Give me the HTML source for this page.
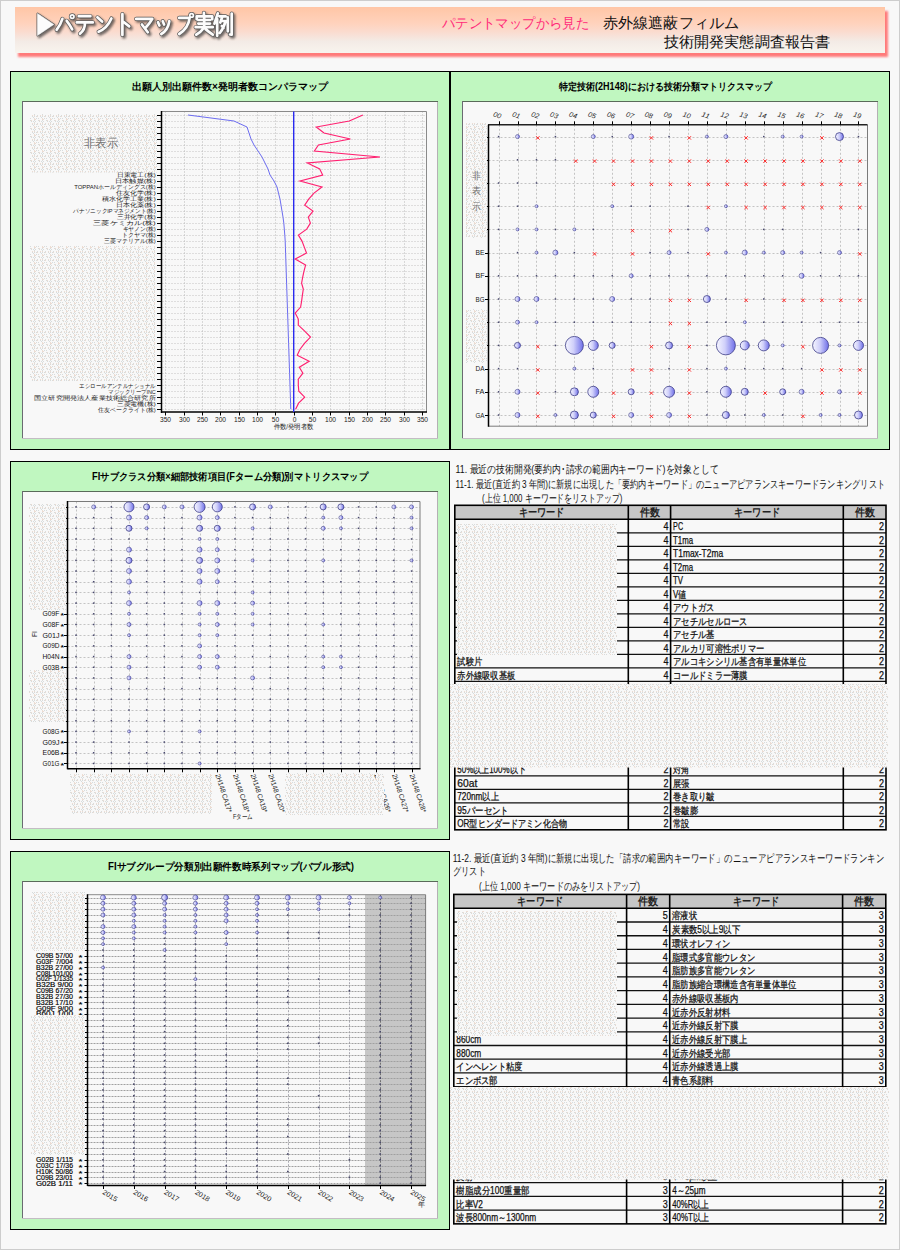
<!DOCTYPE html>
<html><head><meta charset="utf-8"><title>patent map</title>
<style>html,body{margin:0;padding:0;background:#f8f8f8;}svg{display:block;}</style>
</head><body>
<svg width="900" height="1250" viewBox="0 0 900 1250" font-family="'Liberation Sans', sans-serif">
<defs>
<linearGradient id="hdr" x1="0" y1="0" x2="0" y2="1">
 <stop offset="0" stop-color="#ffc6a6"/>
 <stop offset="0.35" stop-color="#ffd2bc"/>
 <stop offset="0.55" stop-color="#fadcd0"/>
 <stop offset="0.75" stop-color="#f3ebe6"/>
 <stop offset="1" stop-color="#f8f4ee"/>
</linearGradient>
<radialGradient id="bub" cx="0.3" cy="0.4" r="0.8">
 <stop offset="0" stop-color="#f4f4ff"/>
 <stop offset="0.5" stop-color="#b8b8f4"/>
 <stop offset="1" stop-color="#6c6ce8"/>
</radialGradient>
<linearGradient id="bubl" x1="0" y1="0" x2="1" y2="0">
 <stop offset="0" stop-color="#f6f6ff"/>
 <stop offset="0.45" stop-color="#d0d0fa"/>
 <stop offset="1" stop-color="#6e6ee8"/>
</linearGradient>
<pattern id="dith" width="8" height="8" patternUnits="userSpaceOnUse"><rect width="8" height="8" fill="#f8f8f8"/><rect x="1" y="1" width="1" height="1" fill="#d8dcdc"/><rect x="3" y="1" width="1" height="1" fill="#d8dcdc"/><rect x="6" y="0" width="1" height="1" fill="#d8dcdc"/><rect x="0" y="4" width="1" height="1" fill="#d8dcdc"/><rect x="7" y="1" width="1" height="1" fill="#d8dcdc"/><rect x="2" y="4" width="1" height="1" fill="#d8dcdc"/><rect x="4" y="4" width="1" height="1" fill="#d8dcdc"/><rect x="6" y="6" width="1" height="1" fill="#d8dcdc"/><rect x="5" y="3" width="1" height="1" fill="#d8dcdc"/><rect x="2" y="2" width="1" height="1" fill="#d8dcdc"/><rect x="4" y="6" width="1" height="1" fill="#d8dcdc"/><rect x="2" y="0" width="1" height="1" fill="#d8dcdc"/><rect x="1" y="5" width="1" height="1" fill="#d8dcdc"/><rect x="5" y="4" width="1" height="1" fill="#ecdcd2"/><rect x="7" y="0" width="1" height="1" fill="#ecdcd2"/><rect x="3" y="7" width="1" height="1" fill="#ecdcd2"/><rect x="2" y="6" width="1" height="1" fill="#ecdcd2"/><rect x="2" y="3" width="1" height="1" fill="#ecdcd2"/><rect x="2" y="7" width="1" height="1" fill="#ecdcd2"/><rect x="0" y="3" width="1" height="1" fill="#ecdcd2"/></pattern>
<filter id="blur1" x="-5%" y="-20%" width="110%" height="140%"><feGaussianBlur stdDeviation="0.8"/></filter>
<filter id="tsh" x="-10%" y="-20%" width="130%" height="150%">
 <feGaussianBlur in="SourceAlpha" stdDeviation="1.2" result="b"/>
 <feOffset dx="2" dy="2" result="o"/>
 <feFlood flood-color="#000" flood-opacity="0.55"/>
 <feComposite in2="o" operator="in" result="s"/>
 <feMerge><feMergeNode in="s"/><feMergeNode in="SourceGraphic"/></feMerge>
</filter>
</defs>
<rect x="0" y="0" width="900" height="1250" fill="#f8f8f8" stroke="none" stroke-width="1" />
<rect x="0.5" y="0.5" width="899" height="1249" fill="none" stroke="#cdcdcd" stroke-width="1" />
<rect x="18" y="11" width="870" height="46" fill="#ff7a7a" stroke="none" stroke-width="1" filter="url(#blur1)"/>
<rect x="15" y="7" width="870" height="46" fill="url(#hdr)" stroke="none" stroke-width="1" />
<filter id="gsh" x="-5%" y="-20%" width="110%" height="150%"><feGaussianBlur stdDeviation="1.1"/></filter>
<g transform="translate(1.6,1.8)" filter="url(#gsh)" opacity="0.7">
<path d="M37.5,13.5 L37.5,35.5 L53.8,24.5 Z" fill="#3a3a3a" stroke="#3a3a3a" stroke-width="2.1" stroke-linejoin="round"/>
<path d="M62.4,18.9 Q60.5,25 56.6,29.8 M66.7,20.8 Q70,25 72.2,29.4 M78.8,16.2 H90.4 M76.8,22.4 H92.8 M85,22.8 Q85,30 80,33.7 M97.4,17.3 L102.1,21.6 M98.6,31.7 Q107,28.5 111.4,18.5 M122.4,14.1 V34.9 M124,22.2 L129.2,26.4 M136.2,18.9 H152.3 Q150,23 146.2,27 M141.9,24.5 L147.8,32.2 M158,22.2 L159.4,25.5 M162.7,21.2 L164.1,24.5 M169.3,21.2 Q168,30 161.3,34 M179.2,17.9 H189.6 Q188.5,28 179.2,34 M203.9,12.8 V15.4 M196.7,19.2 V16.3 H212.2 V19.2 M198.3,20 H210 M198.3,23.6 H210 M195.6,27.2 H212.8 M204.2,16.3 V27.2 M204.2,27.5 Q201,32 196.1,34.7 M205.6,29.1 Q209,32 212.8,34.7 M217.8,13.3 L214.4,23.6 M217.2,19.1 V35.8 M219.4,16.3 H225.6 M222.5,16.3 L220.3,22.5 M221,21 H225.5 Q224,28 219.8,33 M221.8,26 L223.5,28 M227.8,17.4 V31.3 M231.7,13.6 V34.7 L230,34.5" fill="none" stroke="#3a3a3a" stroke-width="4.3" stroke-linecap="round" stroke-linejoin="round"/>
<circle cx="72.2" cy="16.6" r="1.8" fill="none" stroke="#3a3a3a" stroke-width="3.3"/>
<circle cx="191.6" cy="15.4" r="1.8" fill="none" stroke="#3a3a3a" stroke-width="3.3"/>
</g>
<g transform="translate(0,0)" >
<path d="M37.5,13.5 L37.5,35.5 L53.8,24.5 Z" fill="#5a5a5a" stroke="#5a5a5a" stroke-width="1.9" stroke-linejoin="round"/>
<path d="M62.4,18.9 Q60.5,25 56.6,29.8 M66.7,20.8 Q70,25 72.2,29.4 M78.8,16.2 H90.4 M76.8,22.4 H92.8 M85,22.8 Q85,30 80,33.7 M97.4,17.3 L102.1,21.6 M98.6,31.7 Q107,28.5 111.4,18.5 M122.4,14.1 V34.9 M124,22.2 L129.2,26.4 M136.2,18.9 H152.3 Q150,23 146.2,27 M141.9,24.5 L147.8,32.2 M158,22.2 L159.4,25.5 M162.7,21.2 L164.1,24.5 M169.3,21.2 Q168,30 161.3,34 M179.2,17.9 H189.6 Q188.5,28 179.2,34 M203.9,12.8 V15.4 M196.7,19.2 V16.3 H212.2 V19.2 M198.3,20 H210 M198.3,23.6 H210 M195.6,27.2 H212.8 M204.2,16.3 V27.2 M204.2,27.5 Q201,32 196.1,34.7 M205.6,29.1 Q209,32 212.8,34.7 M217.8,13.3 L214.4,23.6 M217.2,19.1 V35.8 M219.4,16.3 H225.6 M222.5,16.3 L220.3,22.5 M221,21 H225.5 Q224,28 219.8,33 M221.8,26 L223.5,28 M227.8,17.4 V31.3 M231.7,13.6 V34.7 L230,34.5" fill="none" stroke="#5a5a5a" stroke-width="4.1" stroke-linecap="round" stroke-linejoin="round"/>
<circle cx="72.2" cy="16.6" r="1.8" fill="none" stroke="#5a5a5a" stroke-width="3.1"/>
<circle cx="191.6" cy="15.4" r="1.8" fill="none" stroke="#5a5a5a" stroke-width="3.1"/>
</g>
<g transform="translate(0,0)" >
<path d="M37.5,13.5 L37.5,35.5 L53.8,24.5 Z" fill="#fcfcfc" stroke="#fcfcfc" stroke-width="0.5" stroke-linejoin="round"/>
<path d="M62.4,18.9 Q60.5,25 56.6,29.8 M66.7,20.8 Q70,25 72.2,29.4 M78.8,16.2 H90.4 M76.8,22.4 H92.8 M85,22.8 Q85,30 80,33.7 M97.4,17.3 L102.1,21.6 M98.6,31.7 Q107,28.5 111.4,18.5 M122.4,14.1 V34.9 M124,22.2 L129.2,26.4 M136.2,18.9 H152.3 Q150,23 146.2,27 M141.9,24.5 L147.8,32.2 M158,22.2 L159.4,25.5 M162.7,21.2 L164.1,24.5 M169.3,21.2 Q168,30 161.3,34 M179.2,17.9 H189.6 Q188.5,28 179.2,34 M203.9,12.8 V15.4 M196.7,19.2 V16.3 H212.2 V19.2 M198.3,20 H210 M198.3,23.6 H210 M195.6,27.2 H212.8 M204.2,16.3 V27.2 M204.2,27.5 Q201,32 196.1,34.7 M205.6,29.1 Q209,32 212.8,34.7 M217.8,13.3 L214.4,23.6 M217.2,19.1 V35.8 M219.4,16.3 H225.6 M222.5,16.3 L220.3,22.5 M221,21 H225.5 Q224,28 219.8,33 M221.8,26 L223.5,28 M227.8,17.4 V31.3 M231.7,13.6 V34.7 L230,34.5" fill="none" stroke="#fcfcfc" stroke-width="2.7" stroke-linecap="round" stroke-linejoin="round"/>
<circle cx="72.2" cy="16.6" r="1.8" fill="none" stroke="#fcfcfc" stroke-width="1.7"/>
<circle cx="191.6" cy="15.4" r="1.8" fill="none" stroke="#fcfcfc" stroke-width="1.7"/>
</g>
<text x="442.0" y="28.0" font-size="14" text-anchor="start" font-weight="normal" fill="#ff2a7a" font-family="'Liberation Sans', sans-serif" textLength="147.0" lengthAdjust="spacingAndGlyphs" >パテントマップから見た</text>
<text x="603.0" y="28.0" font-size="15" text-anchor="start" font-weight="normal" fill="#111" font-family="'Liberation Sans', sans-serif" textLength="136.0" lengthAdjust="spacingAndGlyphs" >赤外線遮蔽フィルム</text>
<text x="664.0" y="47.0" font-size="15" text-anchor="start" font-weight="normal" fill="#111" font-family="'Liberation Sans', sans-serif" textLength="166.0" lengthAdjust="spacingAndGlyphs" >技術開発実態調査報告書</text>
<rect x="10.5" y="71.5" width="439" height="378" fill="#c0f7c0" stroke="#000" stroke-width="1" />
<rect x="22" y="101" width="416" height="338" fill="#f8f8f8" stroke="none" stroke-width="1" />
<line x1="22.00" y1="101.50" x2="438.00" y2="101.50" stroke="#5a6a5a" stroke-width="1" />
<line x1="22.50" y1="101.00" x2="22.50" y2="439.00" stroke="#6a6a72" stroke-width="1" />
<line x1="437.50" y1="102.00" x2="437.50" y2="439.00" stroke="#b4b0b4" stroke-width="1" />
<line x1="22.00" y1="438.50" x2="438.00" y2="438.50" stroke="#c4bcc4" stroke-width="1" />
<text x="230.0" y="89.5" font-size="10" text-anchor="middle" font-weight="bold" fill="#000" font-family="'Liberation Sans', sans-serif" textLength="196.0" lengthAdjust="spacingAndGlyphs" >出願人別出願件数×発明者数コンパラマップ</text>
<rect x="450.5" y="71.5" width="439" height="378" fill="#c0f7c0" stroke="#000" stroke-width="1" />
<rect x="462" y="101" width="416" height="338" fill="#f8f8f8" stroke="none" stroke-width="1" />
<line x1="462.00" y1="101.50" x2="878.00" y2="101.50" stroke="#5a6a5a" stroke-width="1" />
<line x1="462.50" y1="101.00" x2="462.50" y2="439.00" stroke="#6a6a72" stroke-width="1" />
<line x1="877.50" y1="102.00" x2="877.50" y2="439.00" stroke="#b4b0b4" stroke-width="1" />
<line x1="462.00" y1="438.50" x2="878.00" y2="438.50" stroke="#c4bcc4" stroke-width="1" />
<text x="665.5" y="89.5" font-size="10" text-anchor="middle" font-weight="bold" fill="#000" font-family="'Liberation Sans', sans-serif" textLength="213.0" lengthAdjust="spacingAndGlyphs" >特定技術(2H148)における技術分類マトリクスマップ</text>
<rect x="10.5" y="461.5" width="439" height="378" fill="#c0f7c0" stroke="#000" stroke-width="1" />
<rect x="22" y="491" width="416" height="338" fill="#f8f8f8" stroke="none" stroke-width="1" />
<line x1="22.00" y1="491.50" x2="438.00" y2="491.50" stroke="#5a6a5a" stroke-width="1" />
<line x1="22.50" y1="491.00" x2="22.50" y2="829.00" stroke="#6a6a72" stroke-width="1" />
<line x1="437.50" y1="492.00" x2="437.50" y2="829.00" stroke="#b4b0b4" stroke-width="1" />
<line x1="22.00" y1="828.50" x2="438.00" y2="828.50" stroke="#c4bcc4" stroke-width="1" />
<text x="230.0" y="479.5" font-size="10" text-anchor="middle" font-weight="bold" fill="#000" font-family="'Liberation Sans', sans-serif" textLength="276.0" lengthAdjust="spacingAndGlyphs" >FIサブクラス分類×細部技術項目(Fターム分類)別マトリクスマップ</text>
<rect x="10.5" y="851.5" width="439" height="378" fill="#c0f7c0" stroke="#000" stroke-width="1" />
<rect x="22" y="881" width="416" height="338" fill="#f8f8f8" stroke="none" stroke-width="1" />
<line x1="22.00" y1="881.50" x2="438.00" y2="881.50" stroke="#5a6a5a" stroke-width="1" />
<line x1="22.50" y1="881.00" x2="22.50" y2="1219.00" stroke="#6a6a72" stroke-width="1" />
<line x1="437.50" y1="882.00" x2="437.50" y2="1219.00" stroke="#b4b0b4" stroke-width="1" />
<line x1="22.00" y1="1218.50" x2="438.00" y2="1218.50" stroke="#c4bcc4" stroke-width="1" />
<text x="231.0" y="869.5" font-size="10" text-anchor="middle" font-weight="bold" fill="#000" font-family="'Liberation Sans', sans-serif" textLength="246.0" lengthAdjust="spacingAndGlyphs" >FIサブグループ分類別出願件数時系列マップ(バブル形式)</text>
<line x1="162.50" y1="115.50" x2="426.50" y2="115.50" stroke="#c4c2c2" stroke-width="1" stroke-dasharray="1,2"/>
<line x1="162.50" y1="121.50" x2="426.50" y2="121.50" stroke="#c4c2c2" stroke-width="1" stroke-dasharray="1,2"/>
<line x1="162.50" y1="127.50" x2="426.50" y2="127.50" stroke="#c4c2c2" stroke-width="1" stroke-dasharray="1,2"/>
<line x1="162.50" y1="133.50" x2="426.50" y2="133.50" stroke="#c4c2c2" stroke-width="1" stroke-dasharray="1,2"/>
<line x1="162.50" y1="139.50" x2="426.50" y2="139.50" stroke="#c4c2c2" stroke-width="1" stroke-dasharray="1,2"/>
<line x1="162.50" y1="145.50" x2="426.50" y2="145.50" stroke="#c4c2c2" stroke-width="1" stroke-dasharray="1,2"/>
<line x1="162.50" y1="151.50" x2="426.50" y2="151.50" stroke="#c4c2c2" stroke-width="1" stroke-dasharray="1,2"/>
<line x1="162.50" y1="157.50" x2="426.50" y2="157.50" stroke="#c4c2c2" stroke-width="1" stroke-dasharray="1,2"/>
<line x1="162.50" y1="163.50" x2="426.50" y2="163.50" stroke="#c4c2c2" stroke-width="1" stroke-dasharray="1,2"/>
<line x1="162.50" y1="169.50" x2="426.50" y2="169.50" stroke="#c4c2c2" stroke-width="1" stroke-dasharray="1,2"/>
<line x1="162.50" y1="175.50" x2="426.50" y2="175.50" stroke="#c4c2c2" stroke-width="1" stroke-dasharray="1,2"/>
<line x1="162.50" y1="181.50" x2="426.50" y2="181.50" stroke="#c4c2c2" stroke-width="1" stroke-dasharray="1,2"/>
<line x1="162.50" y1="187.50" x2="426.50" y2="187.50" stroke="#c4c2c2" stroke-width="1" stroke-dasharray="1,2"/>
<line x1="162.50" y1="193.50" x2="426.50" y2="193.50" stroke="#c4c2c2" stroke-width="1" stroke-dasharray="1,2"/>
<line x1="162.50" y1="199.50" x2="426.50" y2="199.50" stroke="#c4c2c2" stroke-width="1" stroke-dasharray="1,2"/>
<line x1="162.50" y1="205.50" x2="426.50" y2="205.50" stroke="#c4c2c2" stroke-width="1" stroke-dasharray="1,2"/>
<line x1="162.50" y1="211.50" x2="426.50" y2="211.50" stroke="#c4c2c2" stroke-width="1" stroke-dasharray="1,2"/>
<line x1="162.50" y1="217.50" x2="426.50" y2="217.50" stroke="#c4c2c2" stroke-width="1" stroke-dasharray="1,2"/>
<line x1="162.50" y1="223.50" x2="426.50" y2="223.50" stroke="#c4c2c2" stroke-width="1" stroke-dasharray="1,2"/>
<line x1="162.50" y1="229.50" x2="426.50" y2="229.50" stroke="#c4c2c2" stroke-width="1" stroke-dasharray="1,2"/>
<line x1="162.50" y1="235.50" x2="426.50" y2="235.50" stroke="#c4c2c2" stroke-width="1" stroke-dasharray="1,2"/>
<line x1="162.50" y1="241.50" x2="426.50" y2="241.50" stroke="#c4c2c2" stroke-width="1" stroke-dasharray="1,2"/>
<line x1="162.50" y1="247.50" x2="426.50" y2="247.50" stroke="#c4c2c2" stroke-width="1" stroke-dasharray="1,2"/>
<line x1="162.50" y1="253.50" x2="426.50" y2="253.50" stroke="#c4c2c2" stroke-width="1" stroke-dasharray="1,2"/>
<line x1="162.50" y1="259.50" x2="426.50" y2="259.50" stroke="#c4c2c2" stroke-width="1" stroke-dasharray="1,2"/>
<line x1="162.50" y1="265.50" x2="426.50" y2="265.50" stroke="#c4c2c2" stroke-width="1" stroke-dasharray="1,2"/>
<line x1="162.50" y1="271.50" x2="426.50" y2="271.50" stroke="#c4c2c2" stroke-width="1" stroke-dasharray="1,2"/>
<line x1="162.50" y1="277.50" x2="426.50" y2="277.50" stroke="#c4c2c2" stroke-width="1" stroke-dasharray="1,2"/>
<line x1="162.50" y1="283.50" x2="426.50" y2="283.50" stroke="#c4c2c2" stroke-width="1" stroke-dasharray="1,2"/>
<line x1="162.50" y1="289.50" x2="426.50" y2="289.50" stroke="#c4c2c2" stroke-width="1" stroke-dasharray="1,2"/>
<line x1="162.50" y1="295.50" x2="426.50" y2="295.50" stroke="#c4c2c2" stroke-width="1" stroke-dasharray="1,2"/>
<line x1="162.50" y1="301.50" x2="426.50" y2="301.50" stroke="#c4c2c2" stroke-width="1" stroke-dasharray="1,2"/>
<line x1="162.50" y1="307.50" x2="426.50" y2="307.50" stroke="#c4c2c2" stroke-width="1" stroke-dasharray="1,2"/>
<line x1="162.50" y1="313.50" x2="426.50" y2="313.50" stroke="#c4c2c2" stroke-width="1" stroke-dasharray="1,2"/>
<line x1="162.50" y1="319.50" x2="426.50" y2="319.50" stroke="#c4c2c2" stroke-width="1" stroke-dasharray="1,2"/>
<line x1="162.50" y1="325.50" x2="426.50" y2="325.50" stroke="#c4c2c2" stroke-width="1" stroke-dasharray="1,2"/>
<line x1="162.50" y1="331.50" x2="426.50" y2="331.50" stroke="#c4c2c2" stroke-width="1" stroke-dasharray="1,2"/>
<line x1="162.50" y1="337.50" x2="426.50" y2="337.50" stroke="#c4c2c2" stroke-width="1" stroke-dasharray="1,2"/>
<line x1="162.50" y1="343.50" x2="426.50" y2="343.50" stroke="#c4c2c2" stroke-width="1" stroke-dasharray="1,2"/>
<line x1="162.50" y1="349.50" x2="426.50" y2="349.50" stroke="#c4c2c2" stroke-width="1" stroke-dasharray="1,2"/>
<line x1="162.50" y1="355.50" x2="426.50" y2="355.50" stroke="#c4c2c2" stroke-width="1" stroke-dasharray="1,2"/>
<line x1="162.50" y1="361.50" x2="426.50" y2="361.50" stroke="#c4c2c2" stroke-width="1" stroke-dasharray="1,2"/>
<line x1="162.50" y1="367.50" x2="426.50" y2="367.50" stroke="#c4c2c2" stroke-width="1" stroke-dasharray="1,2"/>
<line x1="162.50" y1="373.50" x2="426.50" y2="373.50" stroke="#c4c2c2" stroke-width="1" stroke-dasharray="1,2"/>
<line x1="162.50" y1="379.50" x2="426.50" y2="379.50" stroke="#c4c2c2" stroke-width="1" stroke-dasharray="1,2"/>
<line x1="162.50" y1="385.50" x2="426.50" y2="385.50" stroke="#c4c2c2" stroke-width="1" stroke-dasharray="1,2"/>
<line x1="162.50" y1="391.50" x2="426.50" y2="391.50" stroke="#c4c2c2" stroke-width="1" stroke-dasharray="1,2"/>
<line x1="162.50" y1="397.50" x2="426.50" y2="397.50" stroke="#c4c2c2" stroke-width="1" stroke-dasharray="1,2"/>
<line x1="162.50" y1="403.50" x2="426.50" y2="403.50" stroke="#c4c2c2" stroke-width="1" stroke-dasharray="1,2"/>
<line x1="162.50" y1="409.50" x2="426.50" y2="409.50" stroke="#c4c2c2" stroke-width="1" stroke-dasharray="1,2"/>
<line x1="165.50" y1="111.50" x2="165.50" y2="412.00" stroke="#b8b8b8" stroke-width="1" stroke-dasharray="1,2"/>
<line x1="184.50" y1="111.50" x2="184.50" y2="412.00" stroke="#b8b8b8" stroke-width="1" stroke-dasharray="1,2"/>
<line x1="202.50" y1="111.50" x2="202.50" y2="412.00" stroke="#b8b8b8" stroke-width="1" stroke-dasharray="1,2"/>
<line x1="220.50" y1="111.50" x2="220.50" y2="412.00" stroke="#b8b8b8" stroke-width="1" stroke-dasharray="1,2"/>
<line x1="239.50" y1="111.50" x2="239.50" y2="412.00" stroke="#b8b8b8" stroke-width="1" stroke-dasharray="1,2"/>
<line x1="257.50" y1="111.50" x2="257.50" y2="412.00" stroke="#b8b8b8" stroke-width="1" stroke-dasharray="1,2"/>
<line x1="275.50" y1="111.50" x2="275.50" y2="412.00" stroke="#b8b8b8" stroke-width="1" stroke-dasharray="1,2"/>
<line x1="312.50" y1="111.50" x2="312.50" y2="412.00" stroke="#b8b8b8" stroke-width="1" stroke-dasharray="1,2"/>
<line x1="330.50" y1="111.50" x2="330.50" y2="412.00" stroke="#b8b8b8" stroke-width="1" stroke-dasharray="1,2"/>
<line x1="349.50" y1="111.50" x2="349.50" y2="412.00" stroke="#b8b8b8" stroke-width="1" stroke-dasharray="1,2"/>
<line x1="367.50" y1="111.50" x2="367.50" y2="412.00" stroke="#b8b8b8" stroke-width="1" stroke-dasharray="1,2"/>
<line x1="385.50" y1="111.50" x2="385.50" y2="412.00" stroke="#b8b8b8" stroke-width="1" stroke-dasharray="1,2"/>
<line x1="404.50" y1="111.50" x2="404.50" y2="412.00" stroke="#b8b8b8" stroke-width="1" stroke-dasharray="1,2"/>
<line x1="422.50" y1="111.50" x2="422.50" y2="412.00" stroke="#b8b8b8" stroke-width="1" stroke-dasharray="1,2"/>
<line x1="161.50" y1="111.50" x2="426.50" y2="111.50" stroke="#8a8a8a" stroke-width="1" />
<line x1="426.50" y1="111.50" x2="426.50" y2="412.00" stroke="#8a8a8a" stroke-width="1" />
<line x1="161.50" y1="111.00" x2="161.50" y2="413.00" stroke="#000" stroke-width="1.5" />
<line x1="161.50" y1="412.00" x2="427.00" y2="412.00" stroke="#000" stroke-width="1.5" />
<line x1="157.00" y1="115.50" x2="161.50" y2="115.50" stroke="#000" stroke-width="1" />
<line x1="157.00" y1="121.50" x2="161.50" y2="121.50" stroke="#000" stroke-width="1" />
<line x1="157.00" y1="127.50" x2="161.50" y2="127.50" stroke="#000" stroke-width="1" />
<line x1="157.00" y1="133.50" x2="161.50" y2="133.50" stroke="#000" stroke-width="1" />
<line x1="157.00" y1="139.50" x2="161.50" y2="139.50" stroke="#000" stroke-width="1" />
<line x1="157.00" y1="145.50" x2="161.50" y2="145.50" stroke="#000" stroke-width="1" />
<line x1="157.00" y1="151.50" x2="161.50" y2="151.50" stroke="#000" stroke-width="1" />
<line x1="157.00" y1="157.50" x2="161.50" y2="157.50" stroke="#000" stroke-width="1" />
<line x1="157.00" y1="163.50" x2="161.50" y2="163.50" stroke="#000" stroke-width="1" />
<line x1="157.00" y1="169.50" x2="161.50" y2="169.50" stroke="#000" stroke-width="1" />
<line x1="157.00" y1="175.50" x2="161.50" y2="175.50" stroke="#000" stroke-width="1" />
<line x1="157.00" y1="181.50" x2="161.50" y2="181.50" stroke="#000" stroke-width="1" />
<line x1="157.00" y1="187.50" x2="161.50" y2="187.50" stroke="#000" stroke-width="1" />
<line x1="157.00" y1="193.50" x2="161.50" y2="193.50" stroke="#000" stroke-width="1" />
<line x1="157.00" y1="199.50" x2="161.50" y2="199.50" stroke="#000" stroke-width="1" />
<line x1="157.00" y1="205.50" x2="161.50" y2="205.50" stroke="#000" stroke-width="1" />
<line x1="157.00" y1="211.50" x2="161.50" y2="211.50" stroke="#000" stroke-width="1" />
<line x1="157.00" y1="217.50" x2="161.50" y2="217.50" stroke="#000" stroke-width="1" />
<line x1="157.00" y1="223.50" x2="161.50" y2="223.50" stroke="#000" stroke-width="1" />
<line x1="157.00" y1="229.50" x2="161.50" y2="229.50" stroke="#000" stroke-width="1" />
<line x1="157.00" y1="235.50" x2="161.50" y2="235.50" stroke="#000" stroke-width="1" />
<line x1="157.00" y1="241.50" x2="161.50" y2="241.50" stroke="#000" stroke-width="1" />
<line x1="157.00" y1="247.50" x2="161.50" y2="247.50" stroke="#000" stroke-width="1" />
<line x1="157.00" y1="253.50" x2="161.50" y2="253.50" stroke="#000" stroke-width="1" />
<line x1="157.00" y1="259.50" x2="161.50" y2="259.50" stroke="#000" stroke-width="1" />
<line x1="157.00" y1="265.50" x2="161.50" y2="265.50" stroke="#000" stroke-width="1" />
<line x1="157.00" y1="271.50" x2="161.50" y2="271.50" stroke="#000" stroke-width="1" />
<line x1="157.00" y1="277.50" x2="161.50" y2="277.50" stroke="#000" stroke-width="1" />
<line x1="157.00" y1="283.50" x2="161.50" y2="283.50" stroke="#000" stroke-width="1" />
<line x1="157.00" y1="289.50" x2="161.50" y2="289.50" stroke="#000" stroke-width="1" />
<line x1="157.00" y1="295.50" x2="161.50" y2="295.50" stroke="#000" stroke-width="1" />
<line x1="157.00" y1="301.50" x2="161.50" y2="301.50" stroke="#000" stroke-width="1" />
<line x1="157.00" y1="307.50" x2="161.50" y2="307.50" stroke="#000" stroke-width="1" />
<line x1="157.00" y1="313.50" x2="161.50" y2="313.50" stroke="#000" stroke-width="1" />
<line x1="157.00" y1="319.50" x2="161.50" y2="319.50" stroke="#000" stroke-width="1" />
<line x1="157.00" y1="325.50" x2="161.50" y2="325.50" stroke="#000" stroke-width="1" />
<line x1="157.00" y1="331.50" x2="161.50" y2="331.50" stroke="#000" stroke-width="1" />
<line x1="157.00" y1="337.50" x2="161.50" y2="337.50" stroke="#000" stroke-width="1" />
<line x1="157.00" y1="343.50" x2="161.50" y2="343.50" stroke="#000" stroke-width="1" />
<line x1="157.00" y1="349.50" x2="161.50" y2="349.50" stroke="#000" stroke-width="1" />
<line x1="157.00" y1="355.50" x2="161.50" y2="355.50" stroke="#000" stroke-width="1" />
<line x1="157.00" y1="361.50" x2="161.50" y2="361.50" stroke="#000" stroke-width="1" />
<line x1="157.00" y1="367.50" x2="161.50" y2="367.50" stroke="#000" stroke-width="1" />
<line x1="157.00" y1="373.50" x2="161.50" y2="373.50" stroke="#000" stroke-width="1" />
<line x1="157.00" y1="379.50" x2="161.50" y2="379.50" stroke="#000" stroke-width="1" />
<line x1="157.00" y1="385.50" x2="161.50" y2="385.50" stroke="#000" stroke-width="1" />
<line x1="157.00" y1="391.50" x2="161.50" y2="391.50" stroke="#000" stroke-width="1" />
<line x1="157.00" y1="397.50" x2="161.50" y2="397.50" stroke="#000" stroke-width="1" />
<line x1="157.00" y1="403.50" x2="161.50" y2="403.50" stroke="#000" stroke-width="1" />
<line x1="157.00" y1="409.50" x2="161.50" y2="409.50" stroke="#000" stroke-width="1" />
<line x1="165.50" y1="412.00" x2="165.50" y2="415.50" stroke="#000" stroke-width="1" />
<text x="165.5" y="421.5" font-size="7" text-anchor="middle" font-weight="normal" fill="#222" font-family="'Liberation Sans', sans-serif" textLength="11.1" lengthAdjust="spacingAndGlyphs" >350</text>
<line x1="184.50" y1="412.00" x2="184.50" y2="415.50" stroke="#000" stroke-width="1" />
<text x="184.5" y="421.5" font-size="7" text-anchor="middle" font-weight="normal" fill="#222" font-family="'Liberation Sans', sans-serif" textLength="11.1" lengthAdjust="spacingAndGlyphs" >300</text>
<line x1="202.50" y1="412.00" x2="202.50" y2="415.50" stroke="#000" stroke-width="1" />
<text x="202.5" y="421.5" font-size="7" text-anchor="middle" font-weight="normal" fill="#222" font-family="'Liberation Sans', sans-serif" textLength="11.1" lengthAdjust="spacingAndGlyphs" >250</text>
<line x1="220.50" y1="412.00" x2="220.50" y2="415.50" stroke="#000" stroke-width="1" />
<text x="220.5" y="421.5" font-size="7" text-anchor="middle" font-weight="normal" fill="#222" font-family="'Liberation Sans', sans-serif" textLength="11.1" lengthAdjust="spacingAndGlyphs" >200</text>
<line x1="239.50" y1="412.00" x2="239.50" y2="415.50" stroke="#000" stroke-width="1" />
<text x="239.5" y="421.5" font-size="7" text-anchor="middle" font-weight="normal" fill="#222" font-family="'Liberation Sans', sans-serif" textLength="11.1" lengthAdjust="spacingAndGlyphs" >150</text>
<line x1="257.50" y1="412.00" x2="257.50" y2="415.50" stroke="#000" stroke-width="1" />
<text x="257.5" y="421.5" font-size="7" text-anchor="middle" font-weight="normal" fill="#222" font-family="'Liberation Sans', sans-serif" textLength="11.1" lengthAdjust="spacingAndGlyphs" >100</text>
<line x1="275.50" y1="412.00" x2="275.50" y2="415.50" stroke="#000" stroke-width="1" />
<text x="275.5" y="421.5" font-size="7" text-anchor="middle" font-weight="normal" fill="#222" font-family="'Liberation Sans', sans-serif" textLength="7.4" lengthAdjust="spacingAndGlyphs" >50</text>
<line x1="294.50" y1="412.00" x2="294.50" y2="415.50" stroke="#000" stroke-width="1" />
<text x="294.5" y="421.5" font-size="7" text-anchor="middle" font-weight="normal" fill="#222" font-family="'Liberation Sans', sans-serif" textLength="3.7" lengthAdjust="spacingAndGlyphs" >0</text>
<line x1="312.50" y1="412.00" x2="312.50" y2="415.50" stroke="#000" stroke-width="1" />
<text x="312.5" y="421.5" font-size="7" text-anchor="middle" font-weight="normal" fill="#222" font-family="'Liberation Sans', sans-serif" textLength="7.4" lengthAdjust="spacingAndGlyphs" >50</text>
<line x1="330.50" y1="412.00" x2="330.50" y2="415.50" stroke="#000" stroke-width="1" />
<text x="330.5" y="421.5" font-size="7" text-anchor="middle" font-weight="normal" fill="#222" font-family="'Liberation Sans', sans-serif" textLength="11.1" lengthAdjust="spacingAndGlyphs" >100</text>
<line x1="349.50" y1="412.00" x2="349.50" y2="415.50" stroke="#000" stroke-width="1" />
<text x="349.5" y="421.5" font-size="7" text-anchor="middle" font-weight="normal" fill="#222" font-family="'Liberation Sans', sans-serif" textLength="11.1" lengthAdjust="spacingAndGlyphs" >150</text>
<line x1="367.50" y1="412.00" x2="367.50" y2="415.50" stroke="#000" stroke-width="1" />
<text x="367.5" y="421.5" font-size="7" text-anchor="middle" font-weight="normal" fill="#222" font-family="'Liberation Sans', sans-serif" textLength="11.1" lengthAdjust="spacingAndGlyphs" >200</text>
<line x1="385.50" y1="412.00" x2="385.50" y2="415.50" stroke="#000" stroke-width="1" />
<text x="385.5" y="421.5" font-size="7" text-anchor="middle" font-weight="normal" fill="#222" font-family="'Liberation Sans', sans-serif" textLength="11.1" lengthAdjust="spacingAndGlyphs" >250</text>
<line x1="404.50" y1="412.00" x2="404.50" y2="415.50" stroke="#000" stroke-width="1" />
<text x="404.5" y="421.5" font-size="7" text-anchor="middle" font-weight="normal" fill="#222" font-family="'Liberation Sans', sans-serif" textLength="11.1" lengthAdjust="spacingAndGlyphs" >300</text>
<line x1="422.50" y1="412.00" x2="422.50" y2="415.50" stroke="#000" stroke-width="1" />
<text x="422.5" y="421.5" font-size="7" text-anchor="middle" font-weight="normal" fill="#222" font-family="'Liberation Sans', sans-serif" textLength="11.1" lengthAdjust="spacingAndGlyphs" >350</text>
<text x="293.5" y="429.0" font-size="7" text-anchor="middle" font-weight="normal" fill="#222" font-family="'Liberation Sans', sans-serif" textLength="40.0" lengthAdjust="spacingAndGlyphs" >件数/発明者数</text>
<line x1="293.70" y1="111.50" x2="293.70" y2="412.00" stroke="#2a2af0" stroke-width="1.4" />
<polyline points="188.0,115.0 234.0,121.0 247.0,127.0 249.0,133.0 251.0,139.0 254.0,145.0 258.0,151.0 262.0,157.0 265.0,163.0 268.0,169.0 270.0,175.0 274.0,181.0 277.0,187.0 278.5,193.1 280.0,199.1 281.0,205.1 282.0,211.1 283.0,217.1 283.8,223.1 284.3,229.1 284.8,235.1 285.2,241.1 285.4,247.1 285.6,253.1 285.8,259.1 286.0,265.1 286.2,271.1 286.4,277.1 286.6,283.1 286.8,289.1 287.0,295.1 287.2,301.1 287.4,307.1 287.6,313.1 287.8,319.1 288.0,325.1 288.2,331.1 288.4,337.1 288.6,343.2 288.8,349.2 289.0,355.2 289.2,361.2 289.4,367.2 289.6,373.2 289.8,379.2 290.0,385.2 290.2,391.2 290.4,397.2 290.6,403.2 290.8,409.2" fill="none" stroke="#6c6cf0" stroke-width="1"/>
<polyline points="362.9,115.0 349.3,121.0 316.3,127.0 324.0,133.0 350.4,139.0 318.4,145.0 314.4,151.0 380.0,157.0 307.3,163.0 319.7,169.0 322.7,175.0 300.0,181.0 322.0,187.0 314.0,193.1 308.7,199.1 304.7,205.1 313.0,211.1 308.3,217.1 310.4,223.1 306.7,229.1 298.4,235.1 302.0,241.1 304.3,247.1 306.5,253.1 295.2,259.1 305.6,265.1 304.0,271.1 302.7,277.1 301.6,283.1 303.3,289.1 302.4,295.1 301.6,301.1 300.6,307.1 295.2,313.1 298.3,319.1 298.3,325.1 304.7,331.1 310.5,337.1 304.7,343.2 300.0,349.2 297.2,355.2 309.2,361.2 299.3,367.2 302.9,373.2 298.3,379.2 298.3,385.2 298.8,391.2 304.7,397.2 298.6,403.2 295.6,409.2" fill="none" stroke="#ff2070" stroke-width="1.15" stroke-linejoin="miter"/>
<rect x="30" y="114" width="127" height="58.5" fill="url(#dith)" stroke="none" stroke-width="1" />
<text x="101.0" y="147.0" font-size="12" text-anchor="middle" font-weight="normal" fill="#707070" font-family="'Liberation Sans', sans-serif" textLength="34.0" lengthAdjust="spacingAndGlyphs" >非表示</text>
<rect x="30" y="246" width="125" height="135" fill="url(#dith)" stroke="none" stroke-width="1" />
<text x="155.8" y="177.3" font-size="6" text-anchor="end" font-weight="normal" fill="#1a1a1a" font-family="'Liberation Sans', sans-serif" textLength="39.1" lengthAdjust="spacingAndGlyphs" >日東電工(株)</text>
<text x="155.8" y="183.3" font-size="6" text-anchor="end" font-weight="normal" fill="#1a1a1a" font-family="'Liberation Sans', sans-serif" textLength="40.8" lengthAdjust="spacingAndGlyphs" >日本触媒(株)</text>
<text x="155.8" y="189.3" font-size="6" text-anchor="end" font-weight="normal" fill="#1a1a1a" font-family="'Liberation Sans', sans-serif" textLength="81.6" lengthAdjust="spacingAndGlyphs" >TOPPANホールディングス(株)</text>
<text x="155.8" y="195.4" font-size="6" text-anchor="end" font-weight="normal" fill="#1a1a1a" font-family="'Liberation Sans', sans-serif" textLength="40.0" lengthAdjust="spacingAndGlyphs" >住友化学(株)</text>
<text x="155.8" y="201.4" font-size="6" text-anchor="end" font-weight="normal" fill="#1a1a1a" font-family="'Liberation Sans', sans-serif" textLength="54.1" lengthAdjust="spacingAndGlyphs" >積水化学工業(株)</text>
<text x="155.8" y="207.4" font-size="6" text-anchor="end" font-weight="normal" fill="#1a1a1a" font-family="'Liberation Sans', sans-serif" textLength="39.5" lengthAdjust="spacingAndGlyphs" >日本化薬(株)</text>
<text x="155.8" y="213.4" font-size="6" text-anchor="end" font-weight="normal" fill="#1a1a1a" font-family="'Liberation Sans', sans-serif" textLength="82.5" lengthAdjust="spacingAndGlyphs" >パナソニックIPマネジメント(株)</text>
<text x="155.8" y="219.4" font-size="6" text-anchor="end" font-weight="normal" fill="#1a1a1a" font-family="'Liberation Sans', sans-serif" textLength="39.1" lengthAdjust="spacingAndGlyphs" >三井化学(株)</text>
<text x="155.8" y="225.4" font-size="6" text-anchor="end" font-weight="normal" fill="#1a1a1a" font-family="'Liberation Sans', sans-serif" textLength="62.5" lengthAdjust="spacingAndGlyphs" >三菱ケミカル(株)</text>
<text x="155.8" y="231.4" font-size="6" text-anchor="end" font-weight="normal" fill="#1a1a1a" font-family="'Liberation Sans', sans-serif" textLength="33.3" lengthAdjust="spacingAndGlyphs" >キヤノン(株)</text>
<text x="155.8" y="237.4" font-size="6" text-anchor="end" font-weight="normal" fill="#1a1a1a" font-family="'Liberation Sans', sans-serif" textLength="34.1" lengthAdjust="spacingAndGlyphs" >トクヤマ(株)</text>
<text x="155.8" y="243.4" font-size="6" text-anchor="end" font-weight="normal" fill="#1a1a1a" font-family="'Liberation Sans', sans-serif" textLength="51.6" lengthAdjust="spacingAndGlyphs" >三菱マテリアル(株)</text>
<text x="155.8" y="387.5" font-size="6" text-anchor="end" font-weight="normal" fill="#1a1a1a" font-family="'Liberation Sans', sans-serif" textLength="76.6" lengthAdjust="spacingAndGlyphs" >エシロールアンテルナショナル</text>
<text x="155.8" y="393.5" font-size="6" text-anchor="end" font-weight="normal" fill="#1a1a1a" font-family="'Liberation Sans', sans-serif" textLength="47.5" lengthAdjust="spacingAndGlyphs" >マジックリープINC</text>
<text x="155.8" y="399.5" font-size="6" text-anchor="end" font-weight="normal" fill="#1a1a1a" font-family="'Liberation Sans', sans-serif" textLength="121.6" lengthAdjust="spacingAndGlyphs" >国立研究開発法人産業技術総合研究所</text>
<text x="155.8" y="405.5" font-size="6" text-anchor="end" font-weight="normal" fill="#1a1a1a" font-family="'Liberation Sans', sans-serif" textLength="39.1" lengthAdjust="spacingAndGlyphs" >三菱電機(株)</text>
<text x="155.8" y="411.5" font-size="6" text-anchor="end" font-weight="normal" fill="#1a1a1a" font-family="'Liberation Sans', sans-serif" textLength="57.5" lengthAdjust="spacingAndGlyphs" >住友ベークライト(株)</text>
<line x1="499.50" y1="124.80" x2="499.50" y2="426.20" stroke="#c4c4c4" stroke-width="1" stroke-dasharray="2,2"/>
<line x1="518.50" y1="124.80" x2="518.50" y2="426.20" stroke="#c4c4c4" stroke-width="1" stroke-dasharray="2,2"/>
<line x1="536.50" y1="124.80" x2="536.50" y2="426.20" stroke="#c4c4c4" stroke-width="1" stroke-dasharray="2,2"/>
<line x1="555.50" y1="124.80" x2="555.50" y2="426.20" stroke="#c4c4c4" stroke-width="1" stroke-dasharray="2,2"/>
<line x1="574.50" y1="124.80" x2="574.50" y2="426.20" stroke="#c4c4c4" stroke-width="1" stroke-dasharray="2,2"/>
<line x1="593.50" y1="124.80" x2="593.50" y2="426.20" stroke="#c4c4c4" stroke-width="1" stroke-dasharray="2,2"/>
<line x1="612.50" y1="124.80" x2="612.50" y2="426.20" stroke="#c4c4c4" stroke-width="1" stroke-dasharray="2,2"/>
<line x1="631.50" y1="124.80" x2="631.50" y2="426.20" stroke="#c4c4c4" stroke-width="1" stroke-dasharray="2,2"/>
<line x1="650.50" y1="124.80" x2="650.50" y2="426.20" stroke="#c4c4c4" stroke-width="1" stroke-dasharray="2,2"/>
<line x1="669.50" y1="124.80" x2="669.50" y2="426.20" stroke="#c4c4c4" stroke-width="1" stroke-dasharray="2,2"/>
<line x1="688.50" y1="124.80" x2="688.50" y2="426.20" stroke="#c4c4c4" stroke-width="1" stroke-dasharray="2,2"/>
<line x1="707.50" y1="124.80" x2="707.50" y2="426.20" stroke="#c4c4c4" stroke-width="1" stroke-dasharray="2,2"/>
<line x1="726.50" y1="124.80" x2="726.50" y2="426.20" stroke="#c4c4c4" stroke-width="1" stroke-dasharray="2,2"/>
<line x1="745.50" y1="124.80" x2="745.50" y2="426.20" stroke="#c4c4c4" stroke-width="1" stroke-dasharray="2,2"/>
<line x1="764.50" y1="124.80" x2="764.50" y2="426.20" stroke="#c4c4c4" stroke-width="1" stroke-dasharray="2,2"/>
<line x1="783.50" y1="124.80" x2="783.50" y2="426.20" stroke="#c4c4c4" stroke-width="1" stroke-dasharray="2,2"/>
<line x1="802.50" y1="124.80" x2="802.50" y2="426.20" stroke="#c4c4c4" stroke-width="1" stroke-dasharray="2,2"/>
<line x1="821.50" y1="124.80" x2="821.50" y2="426.20" stroke="#c4c4c4" stroke-width="1" stroke-dasharray="2,2"/>
<line x1="840.50" y1="124.80" x2="840.50" y2="426.20" stroke="#c4c4c4" stroke-width="1" stroke-dasharray="2,2"/>
<line x1="858.50" y1="124.80" x2="858.50" y2="426.20" stroke="#c4c4c4" stroke-width="1" stroke-dasharray="2,2"/>
<line x1="488.50" y1="137.50" x2="867.50" y2="137.50" stroke="#c4c4c4" stroke-width="1" stroke-dasharray="2,2"/>
<line x1="488.50" y1="160.50" x2="867.50" y2="160.50" stroke="#c4c4c4" stroke-width="1" stroke-dasharray="2,2"/>
<line x1="488.50" y1="183.50" x2="867.50" y2="183.50" stroke="#c4c4c4" stroke-width="1" stroke-dasharray="2,2"/>
<line x1="488.50" y1="206.50" x2="867.50" y2="206.50" stroke="#c4c4c4" stroke-width="1" stroke-dasharray="2,2"/>
<line x1="488.50" y1="229.50" x2="867.50" y2="229.50" stroke="#c4c4c4" stroke-width="1" stroke-dasharray="2,2"/>
<line x1="488.50" y1="253.50" x2="867.50" y2="253.50" stroke="#c4c4c4" stroke-width="1" stroke-dasharray="2,2"/>
<line x1="488.50" y1="276.50" x2="867.50" y2="276.50" stroke="#c4c4c4" stroke-width="1" stroke-dasharray="2,2"/>
<line x1="488.50" y1="299.50" x2="867.50" y2="299.50" stroke="#c4c4c4" stroke-width="1" stroke-dasharray="2,2"/>
<line x1="488.50" y1="322.50" x2="867.50" y2="322.50" stroke="#c4c4c4" stroke-width="1" stroke-dasharray="2,2"/>
<line x1="488.50" y1="345.50" x2="867.50" y2="345.50" stroke="#c4c4c4" stroke-width="1" stroke-dasharray="2,2"/>
<line x1="488.50" y1="369.50" x2="867.50" y2="369.50" stroke="#c4c4c4" stroke-width="1" stroke-dasharray="2,2"/>
<line x1="488.50" y1="392.50" x2="867.50" y2="392.50" stroke="#c4c4c4" stroke-width="1" stroke-dasharray="2,2"/>
<line x1="488.50" y1="415.50" x2="867.50" y2="415.50" stroke="#c4c4c4" stroke-width="1" stroke-dasharray="2,2"/>
<line x1="488.50" y1="426.20" x2="867.50" y2="426.20" stroke="#7a7a7a" stroke-width="1" />
<line x1="867.50" y1="124.80" x2="867.50" y2="426.20" stroke="#7a7a7a" stroke-width="1" />
<line x1="488.00" y1="124.80" x2="867.50" y2="124.80" stroke="#222" stroke-width="1.5" />
<line x1="488.50" y1="124.80" x2="488.50" y2="426.70" stroke="#000" stroke-width="1.5" />
<line x1="499.50" y1="121.30" x2="499.50" y2="124.80" stroke="#000" stroke-width="1" />
<text x="0" y="0" font-size="7" font-style="italic" fill="#222" transform="translate(492.8,116.3) rotate(18)" textLength="8" lengthAdjust="spacingAndGlyphs">00</text>
<line x1="518.50" y1="121.30" x2="518.50" y2="124.80" stroke="#000" stroke-width="1" />
<text x="0" y="0" font-size="7" font-style="italic" fill="#222" transform="translate(511.7,116.3) rotate(18)" textLength="8" lengthAdjust="spacingAndGlyphs">01</text>
<line x1="536.50" y1="121.30" x2="536.50" y2="124.80" stroke="#000" stroke-width="1" />
<text x="0" y="0" font-size="7" font-style="italic" fill="#222" transform="translate(530.7,116.3) rotate(18)" textLength="8" lengthAdjust="spacingAndGlyphs">02</text>
<line x1="555.50" y1="121.30" x2="555.50" y2="124.80" stroke="#000" stroke-width="1" />
<text x="0" y="0" font-size="7" font-style="italic" fill="#222" transform="translate(549.6,116.3) rotate(18)" textLength="8" lengthAdjust="spacingAndGlyphs">03</text>
<line x1="574.50" y1="121.30" x2="574.50" y2="124.80" stroke="#000" stroke-width="1" />
<text x="0" y="0" font-size="7" font-style="italic" fill="#222" transform="translate(568.6,116.3) rotate(18)" textLength="8" lengthAdjust="spacingAndGlyphs">04</text>
<line x1="593.50" y1="121.30" x2="593.50" y2="124.80" stroke="#000" stroke-width="1" />
<text x="0" y="0" font-size="7" font-style="italic" fill="#222" transform="translate(587.5,116.3) rotate(18)" textLength="8" lengthAdjust="spacingAndGlyphs">05</text>
<line x1="612.50" y1="121.30" x2="612.50" y2="124.80" stroke="#000" stroke-width="1" />
<text x="0" y="0" font-size="7" font-style="italic" fill="#222" transform="translate(606.4,116.3) rotate(18)" textLength="8" lengthAdjust="spacingAndGlyphs">06</text>
<line x1="631.50" y1="121.30" x2="631.50" y2="124.80" stroke="#000" stroke-width="1" />
<text x="0" y="0" font-size="7" font-style="italic" fill="#222" transform="translate(625.4,116.3) rotate(18)" textLength="8" lengthAdjust="spacingAndGlyphs">07</text>
<line x1="650.50" y1="121.30" x2="650.50" y2="124.80" stroke="#000" stroke-width="1" />
<text x="0" y="0" font-size="7" font-style="italic" fill="#222" transform="translate(644.3,116.3) rotate(18)" textLength="8" lengthAdjust="spacingAndGlyphs">08</text>
<line x1="669.50" y1="121.30" x2="669.50" y2="124.80" stroke="#000" stroke-width="1" />
<text x="0" y="0" font-size="7" font-style="italic" fill="#222" transform="translate(663.3,116.3) rotate(18)" textLength="8" lengthAdjust="spacingAndGlyphs">09</text>
<line x1="688.50" y1="121.30" x2="688.50" y2="124.80" stroke="#000" stroke-width="1" />
<text x="0" y="0" font-size="7" font-style="italic" fill="#222" transform="translate(682.2,116.3) rotate(18)" textLength="8" lengthAdjust="spacingAndGlyphs">10</text>
<line x1="707.50" y1="121.30" x2="707.50" y2="124.80" stroke="#000" stroke-width="1" />
<text x="0" y="0" font-size="7" font-style="italic" fill="#222" transform="translate(701.1,116.3) rotate(18)" textLength="8" lengthAdjust="spacingAndGlyphs">11</text>
<line x1="726.50" y1="121.30" x2="726.50" y2="124.80" stroke="#000" stroke-width="1" />
<text x="0" y="0" font-size="7" font-style="italic" fill="#222" transform="translate(720.1,116.3) rotate(18)" textLength="8" lengthAdjust="spacingAndGlyphs">12</text>
<line x1="745.50" y1="121.30" x2="745.50" y2="124.80" stroke="#000" stroke-width="1" />
<text x="0" y="0" font-size="7" font-style="italic" fill="#222" transform="translate(739.0,116.3) rotate(18)" textLength="8" lengthAdjust="spacingAndGlyphs">13</text>
<line x1="764.50" y1="121.30" x2="764.50" y2="124.80" stroke="#000" stroke-width="1" />
<text x="0" y="0" font-size="7" font-style="italic" fill="#222" transform="translate(758.0,116.3) rotate(18)" textLength="8" lengthAdjust="spacingAndGlyphs">14</text>
<line x1="783.50" y1="121.30" x2="783.50" y2="124.80" stroke="#000" stroke-width="1" />
<text x="0" y="0" font-size="7" font-style="italic" fill="#222" transform="translate(776.9,116.3) rotate(18)" textLength="8" lengthAdjust="spacingAndGlyphs">15</text>
<line x1="802.50" y1="121.30" x2="802.50" y2="124.80" stroke="#000" stroke-width="1" />
<text x="0" y="0" font-size="7" font-style="italic" fill="#222" transform="translate(795.8,116.3) rotate(18)" textLength="8" lengthAdjust="spacingAndGlyphs">16</text>
<line x1="821.50" y1="121.30" x2="821.50" y2="124.80" stroke="#000" stroke-width="1" />
<text x="0" y="0" font-size="7" font-style="italic" fill="#222" transform="translate(814.8,116.3) rotate(18)" textLength="8" lengthAdjust="spacingAndGlyphs">17</text>
<line x1="840.50" y1="121.30" x2="840.50" y2="124.80" stroke="#000" stroke-width="1" />
<text x="0" y="0" font-size="7" font-style="italic" fill="#222" transform="translate(833.7,116.3) rotate(18)" textLength="8" lengthAdjust="spacingAndGlyphs">18</text>
<line x1="858.50" y1="121.30" x2="858.50" y2="124.80" stroke="#000" stroke-width="1" />
<text x="0" y="0" font-size="7" font-style="italic" fill="#222" transform="translate(852.7,116.3) rotate(18)" textLength="8" lengthAdjust="spacingAndGlyphs">19</text>
<line x1="485.00" y1="137.50" x2="488.50" y2="137.50" stroke="#000" stroke-width="1" />
<line x1="485.00" y1="160.50" x2="488.50" y2="160.50" stroke="#000" stroke-width="1" />
<line x1="485.00" y1="183.50" x2="488.50" y2="183.50" stroke="#000" stroke-width="1" />
<line x1="485.00" y1="206.50" x2="488.50" y2="206.50" stroke="#000" stroke-width="1" />
<line x1="485.00" y1="229.50" x2="488.50" y2="229.50" stroke="#000" stroke-width="1" />
<line x1="485.00" y1="253.50" x2="488.50" y2="253.50" stroke="#000" stroke-width="1" />
<line x1="485.00" y1="276.50" x2="488.50" y2="276.50" stroke="#000" stroke-width="1" />
<line x1="485.00" y1="299.50" x2="488.50" y2="299.50" stroke="#000" stroke-width="1" />
<line x1="485.00" y1="322.50" x2="488.50" y2="322.50" stroke="#000" stroke-width="1" />
<line x1="485.00" y1="345.50" x2="488.50" y2="345.50" stroke="#000" stroke-width="1" />
<line x1="485.00" y1="369.50" x2="488.50" y2="369.50" stroke="#000" stroke-width="1" />
<line x1="485.00" y1="392.50" x2="488.50" y2="392.50" stroke="#000" stroke-width="1" />
<line x1="485.00" y1="415.50" x2="488.50" y2="415.50" stroke="#000" stroke-width="1" />
<text x="484.5" y="255.1" font-size="7" text-anchor="end" font-weight="normal" fill="#222" font-family="'Liberation Sans', sans-serif" textLength="9.0" lengthAdjust="spacingAndGlyphs" >BE</text>
<text x="484.5" y="278.3" font-size="7" text-anchor="end" font-weight="normal" fill="#222" font-family="'Liberation Sans', sans-serif" textLength="9.0" lengthAdjust="spacingAndGlyphs" >BF</text>
<text x="484.5" y="301.5" font-size="7" text-anchor="end" font-weight="normal" fill="#222" font-family="'Liberation Sans', sans-serif" textLength="9.0" lengthAdjust="spacingAndGlyphs" >BG</text>
<text x="484.5" y="371.1" font-size="7" text-anchor="end" font-weight="normal" fill="#222" font-family="'Liberation Sans', sans-serif" textLength="9.0" lengthAdjust="spacingAndGlyphs" >DA</text>
<text x="484.5" y="394.3" font-size="7" text-anchor="end" font-weight="normal" fill="#222" font-family="'Liberation Sans', sans-serif" textLength="9.0" lengthAdjust="spacingAndGlyphs" >FA</text>
<text x="484.5" y="417.5" font-size="7" text-anchor="end" font-weight="normal" fill="#222" font-family="'Liberation Sans', sans-serif" textLength="9.0" lengthAdjust="spacingAndGlyphs" >GA</text>
<rect x="466" y="123" width="21" height="115" fill="url(#dith)" stroke="none" stroke-width="1" />
<text x="476.0" y="178.5" font-size="10" text-anchor="middle" font-weight="normal" fill="#707070" font-family="'Liberation Sans', sans-serif" textLength="9.0" lengthAdjust="spacingAndGlyphs" >非</text>
<text x="476.0" y="194.0" font-size="10" text-anchor="middle" font-weight="normal" fill="#707070" font-family="'Liberation Sans', sans-serif" textLength="9.0" lengthAdjust="spacingAndGlyphs" >表</text>
<text x="476.0" y="209.5" font-size="10" text-anchor="middle" font-weight="normal" fill="#707070" font-family="'Liberation Sans', sans-serif" textLength="9.0" lengthAdjust="spacingAndGlyphs" >示</text>
<rect x="466" y="309" width="21" height="54" fill="url(#dith)" stroke="none" stroke-width="1" />
<rect x="497.85" y="135.85" width="1.5" height="1.5" fill="#48486e"/>
<circle cx="517.5" cy="136.6" r="2.0" fill="url(#bubl)" stroke="#3c3c88" stroke-width="0.6"/>
<path d="M536.1,136.2L539.5,139.6M539.5,136.2L536.1,139.6" stroke="#ff2a2a" stroke-width="1" fill="none"/>
<rect x="554.67" y="135.85" width="1.5" height="1.5" fill="#48486e"/>
<circle cx="593.3" cy="136.6" r="2.0" fill="url(#bubl)" stroke="#3c3c88" stroke-width="0.6"/>
<rect x="611.49" y="135.85" width="1.5" height="1.5" fill="#48486e"/>
<circle cx="631.2" cy="136.6" r="2.5" fill="url(#bubl)" stroke="#3c3c88" stroke-width="0.6"/>
<path d="M649.7,136.2L653.1,139.6M653.1,136.2L649.7,139.6" stroke="#ff2a2a" stroke-width="1" fill="none"/>
<rect x="668.31" y="135.85" width="1.5" height="1.5" fill="#48486e"/>
<path d="M687.6,136.2L691.0,139.6M691.0,136.2L687.6,139.6" stroke="#ff2a2a" stroke-width="1" fill="none"/>
<circle cx="706.9" cy="136.6" r="1.5" fill="url(#bubl)" stroke="#3c3c88" stroke-width="0.6"/>
<circle cx="725.9" cy="136.6" r="2.0" fill="url(#bubl)" stroke="#3c3c88" stroke-width="0.6"/>
<path d="M744.4,136.2L747.8,139.6M747.8,136.2L744.4,139.6" stroke="#ff2a2a" stroke-width="1" fill="none"/>
<rect x="763.01" y="135.85" width="1.5" height="1.5" fill="#48486e"/>
<circle cx="782.7" cy="136.6" r="1.5" fill="url(#bubl)" stroke="#3c3c88" stroke-width="0.6"/>
<circle cx="801.6" cy="136.6" r="1.5" fill="url(#bubl)" stroke="#3c3c88" stroke-width="0.6"/>
<path d="M820.2,136.2L823.6,139.6M823.6,136.2L820.2,139.6" stroke="#ff2a2a" stroke-width="1" fill="none"/>
<circle cx="839.5" cy="136.6" r="4.0" fill="url(#bubl)" stroke="#3c3c88" stroke-width="0.8"/>
<rect x="857.71" y="135.85" width="1.5" height="1.5" fill="#48486e"/>
<rect x="516.79" y="159.05" width="1.5" height="1.5" fill="#48486e"/>
<rect x="535.73" y="159.05" width="1.5" height="1.5" fill="#48486e"/>
<rect x="554.67" y="159.05" width="1.5" height="1.5" fill="#48486e"/>
<path d="M574.0,159.4L577.4,162.8M577.4,159.4L574.0,162.8" stroke="#ff2a2a" stroke-width="1" fill="none"/>
<path d="M592.9,159.4L596.3,162.8M596.3,159.4L592.9,162.8" stroke="#ff2a2a" stroke-width="1" fill="none"/>
<path d="M611.8,159.4L615.2,162.8M615.2,159.4L611.8,162.8" stroke="#ff2a2a" stroke-width="1" fill="none"/>
<path d="M630.8,159.4L634.2,162.8M634.2,159.4L630.8,162.8" stroke="#ff2a2a" stroke-width="1" fill="none"/>
<path d="M649.7,159.4L653.1,162.8M653.1,159.4L649.7,162.8" stroke="#ff2a2a" stroke-width="1" fill="none"/>
<path d="M668.7,159.4L672.1,162.8M672.1,159.4L668.7,162.8" stroke="#ff2a2a" stroke-width="1" fill="none"/>
<path d="M687.6,159.4L691.0,162.8M691.0,159.4L687.6,162.8" stroke="#ff2a2a" stroke-width="1" fill="none"/>
<path d="M706.5,159.4L709.9,162.8M709.9,159.4L706.5,162.8" stroke="#ff2a2a" stroke-width="1" fill="none"/>
<path d="M725.5,159.4L728.9,162.8M728.9,159.4L725.5,162.8" stroke="#ff2a2a" stroke-width="1" fill="none"/>
<path d="M744.4,159.4L747.8,162.8M747.8,159.4L744.4,162.8" stroke="#ff2a2a" stroke-width="1" fill="none"/>
<path d="M763.4,159.4L766.8,162.8M766.8,159.4L763.4,162.8" stroke="#ff2a2a" stroke-width="1" fill="none"/>
<path d="M782.3,159.4L785.7,162.8M785.7,159.4L782.3,162.8" stroke="#ff2a2a" stroke-width="1" fill="none"/>
<path d="M801.2,159.4L804.6,162.8M804.6,159.4L801.2,162.8" stroke="#ff2a2a" stroke-width="1" fill="none"/>
<path d="M820.2,159.4L823.6,162.8M823.6,159.4L820.2,162.8" stroke="#ff2a2a" stroke-width="1" fill="none"/>
<path d="M839.1,159.4L842.5,162.8M842.5,159.4L839.1,162.8" stroke="#ff2a2a" stroke-width="1" fill="none"/>
<path d="M858.1,159.4L861.5,162.8M861.5,159.4L858.1,162.8" stroke="#ff2a2a" stroke-width="1" fill="none"/>
<rect x="497.85" y="182.25" width="1.5" height="1.5" fill="#48486e"/>
<rect x="516.79" y="182.25" width="1.5" height="1.5" fill="#48486e"/>
<rect x="535.73" y="182.25" width="1.5" height="1.5" fill="#48486e"/>
<path d="M611.8,182.6L615.2,186.0M615.2,182.6L611.8,186.0" stroke="#ff2a2a" stroke-width="1" fill="none"/>
<path d="M630.8,182.6L634.2,186.0M634.2,182.6L630.8,186.0" stroke="#ff2a2a" stroke-width="1" fill="none"/>
<path d="M649.7,182.6L653.1,186.0M653.1,182.6L649.7,186.0" stroke="#ff2a2a" stroke-width="1" fill="none"/>
<path d="M668.7,182.6L672.1,186.0M672.1,182.6L668.7,186.0" stroke="#ff2a2a" stroke-width="1" fill="none"/>
<path d="M687.6,182.6L691.0,186.0M691.0,182.6L687.6,186.0" stroke="#ff2a2a" stroke-width="1" fill="none"/>
<path d="M706.5,182.6L709.9,186.0M709.9,182.6L706.5,186.0" stroke="#ff2a2a" stroke-width="1" fill="none"/>
<path d="M725.5,182.6L728.9,186.0M728.9,182.6L725.5,186.0" stroke="#ff2a2a" stroke-width="1" fill="none"/>
<path d="M744.4,182.6L747.8,186.0M747.8,182.6L744.4,186.0" stroke="#ff2a2a" stroke-width="1" fill="none"/>
<path d="M763.4,182.6L766.8,186.0M766.8,182.6L763.4,186.0" stroke="#ff2a2a" stroke-width="1" fill="none"/>
<path d="M782.3,182.6L785.7,186.0M785.7,182.6L782.3,186.0" stroke="#ff2a2a" stroke-width="1" fill="none"/>
<path d="M801.2,182.6L804.6,186.0M804.6,182.6L801.2,186.0" stroke="#ff2a2a" stroke-width="1" fill="none"/>
<path d="M820.2,182.6L823.6,186.0M823.6,182.6L820.2,186.0" stroke="#ff2a2a" stroke-width="1" fill="none"/>
<path d="M839.1,182.6L842.5,186.0M842.5,182.6L839.1,186.0" stroke="#ff2a2a" stroke-width="1" fill="none"/>
<path d="M858.1,182.6L861.5,186.0M861.5,182.6L858.1,186.0" stroke="#ff2a2a" stroke-width="1" fill="none"/>
<rect x="497.85" y="205.45" width="1.5" height="1.5" fill="#48486e"/>
<rect x="516.79" y="205.45" width="1.5" height="1.5" fill="#48486e"/>
<circle cx="536.5" cy="206.2" r="1.5" fill="url(#bubl)" stroke="#3c3c88" stroke-width="0.6"/>
<circle cx="612.2" cy="206.2" r="1.5" fill="url(#bubl)" stroke="#3c3c88" stroke-width="0.6"/>
<rect x="630.43" y="205.45" width="1.5" height="1.5" fill="#48486e"/>
<rect x="649.37" y="205.45" width="1.5" height="1.5" fill="#48486e"/>
<rect x="687.25" y="205.45" width="1.5" height="1.5" fill="#48486e"/>
<path d="M706.5,205.8L709.9,209.2M709.9,205.8L706.5,209.2" stroke="#ff2a2a" stroke-width="1" fill="none"/>
<circle cx="725.9" cy="206.2" r="1.5" fill="url(#bubl)" stroke="#3c3c88" stroke-width="0.6"/>
<path d="M744.4,205.8L747.8,209.2M747.8,205.8L744.4,209.2" stroke="#ff2a2a" stroke-width="1" fill="none"/>
<path d="M763.4,205.8L766.8,209.2M766.8,205.8L763.4,209.2" stroke="#ff2a2a" stroke-width="1" fill="none"/>
<path d="M782.3,205.8L785.7,209.2M785.7,205.8L782.3,209.2" stroke="#ff2a2a" stroke-width="1" fill="none"/>
<path d="M801.2,205.8L804.6,209.2M804.6,205.8L801.2,209.2" stroke="#ff2a2a" stroke-width="1" fill="none"/>
<path d="M820.2,205.8L823.6,209.2M823.6,205.8L820.2,209.2" stroke="#ff2a2a" stroke-width="1" fill="none"/>
<path d="M839.1,205.8L842.5,209.2M842.5,205.8L839.1,209.2" stroke="#ff2a2a" stroke-width="1" fill="none"/>
<path d="M858.1,205.8L861.5,209.2M861.5,205.8L858.1,209.2" stroke="#ff2a2a" stroke-width="1" fill="none"/>
<rect x="497.85" y="228.65" width="1.5" height="1.5" fill="#48486e"/>
<circle cx="517.5" cy="229.4" r="1.5" fill="url(#bubl)" stroke="#3c3c88" stroke-width="0.6"/>
<circle cx="536.5" cy="229.4" r="1.5" fill="url(#bubl)" stroke="#3c3c88" stroke-width="0.6"/>
<rect x="554.67" y="228.65" width="1.5" height="1.5" fill="#48486e"/>
<circle cx="574.4" cy="229.4" r="1.5" fill="url(#bubl)" stroke="#3c3c88" stroke-width="0.6"/>
<rect x="592.55" y="228.65" width="1.5" height="1.5" fill="#48486e"/>
<path d="M630.8,229.0L634.2,232.4M634.2,229.0L630.8,232.4" stroke="#ff2a2a" stroke-width="1" fill="none"/>
<path d="M668.7,229.0L672.1,232.4M672.1,229.0L668.7,232.4" stroke="#ff2a2a" stroke-width="1" fill="none"/>
<rect x="687.25" y="228.65" width="1.5" height="1.5" fill="#48486e"/>
<circle cx="706.9" cy="229.4" r="2.0" fill="url(#bubl)" stroke="#3c3c88" stroke-width="0.6"/>
<rect x="763.01" y="228.65" width="1.5" height="1.5" fill="#48486e"/>
<rect x="781.95" y="228.65" width="1.5" height="1.5" fill="#48486e"/>
<rect x="857.71" y="228.65" width="1.5" height="1.5" fill="#48486e"/>
<rect x="516.79" y="251.85" width="1.5" height="1.5" fill="#48486e"/>
<circle cx="536.5" cy="252.6" r="1.5" fill="url(#bubl)" stroke="#3c3c88" stroke-width="0.6"/>
<circle cx="555.4" cy="252.6" r="2.5" fill="url(#bubl)" stroke="#3c3c88" stroke-width="0.6"/>
<rect x="573.61" y="251.85" width="1.5" height="1.5" fill="#48486e"/>
<path d="M592.9,252.2L596.3,255.6M596.3,252.2L592.9,255.6" stroke="#ff2a2a" stroke-width="1" fill="none"/>
<path d="M630.8,252.2L634.2,255.6M634.2,252.2L630.8,255.6" stroke="#ff2a2a" stroke-width="1" fill="none"/>
<rect x="649.37" y="251.85" width="1.5" height="1.5" fill="#48486e"/>
<circle cx="669.1" cy="252.6" r="2.0" fill="url(#bubl)" stroke="#3c3c88" stroke-width="0.6"/>
<rect x="687.25" y="251.85" width="1.5" height="1.5" fill="#48486e"/>
<path d="M706.5,252.2L709.9,255.6M709.9,252.2L706.5,255.6" stroke="#ff2a2a" stroke-width="1" fill="none"/>
<circle cx="725.9" cy="252.6" r="1.5" fill="url(#bubl)" stroke="#3c3c88" stroke-width="0.6"/>
<circle cx="744.8" cy="252.6" r="2.5" fill="url(#bubl)" stroke="#3c3c88" stroke-width="0.6"/>
<circle cx="763.8" cy="252.6" r="1.5" fill="url(#bubl)" stroke="#3c3c88" stroke-width="0.6"/>
<circle cx="782.7" cy="252.6" r="2.0" fill="url(#bubl)" stroke="#3c3c88" stroke-width="0.6"/>
<circle cx="801.6" cy="252.6" r="1.5" fill="url(#bubl)" stroke="#3c3c88" stroke-width="0.6"/>
<rect x="819.83" y="251.85" width="1.5" height="1.5" fill="#48486e"/>
<circle cx="839.5" cy="252.6" r="2.0" fill="url(#bubl)" stroke="#3c3c88" stroke-width="0.6"/>
<path d="M858.1,252.2L861.5,255.6M861.5,252.2L858.1,255.6" stroke="#ff2a2a" stroke-width="1" fill="none"/>
<rect x="497.85" y="275.05" width="1.5" height="1.5" fill="#48486e"/>
<rect x="516.79" y="275.05" width="1.5" height="1.5" fill="#48486e"/>
<rect x="535.73" y="275.05" width="1.5" height="1.5" fill="#48486e"/>
<rect x="554.67" y="275.05" width="1.5" height="1.5" fill="#48486e"/>
<rect x="573.61" y="275.05" width="1.5" height="1.5" fill="#48486e"/>
<rect x="592.55" y="275.05" width="1.5" height="1.5" fill="#48486e"/>
<rect x="611.49" y="275.05" width="1.5" height="1.5" fill="#48486e"/>
<circle cx="631.2" cy="275.8" r="2.0" fill="url(#bubl)" stroke="#3c3c88" stroke-width="0.6"/>
<rect x="649.37" y="275.05" width="1.5" height="1.5" fill="#48486e"/>
<rect x="668.31" y="275.05" width="1.5" height="1.5" fill="#48486e"/>
<rect x="687.25" y="275.05" width="1.5" height="1.5" fill="#48486e"/>
<rect x="706.19" y="275.05" width="1.5" height="1.5" fill="#48486e"/>
<rect x="725.13" y="275.05" width="1.5" height="1.5" fill="#48486e"/>
<rect x="744.07" y="275.05" width="1.5" height="1.5" fill="#48486e"/>
<rect x="763.01" y="275.05" width="1.5" height="1.5" fill="#48486e"/>
<rect x="781.95" y="275.05" width="1.5" height="1.5" fill="#48486e"/>
<circle cx="801.6" cy="275.8" r="2.5" fill="url(#bubl)" stroke="#3c3c88" stroke-width="0.6"/>
<rect x="819.83" y="275.05" width="1.5" height="1.5" fill="#48486e"/>
<rect x="838.77" y="275.05" width="1.5" height="1.5" fill="#48486e"/>
<rect x="857.71" y="275.05" width="1.5" height="1.5" fill="#48486e"/>
<rect x="497.85" y="298.25" width="1.5" height="1.5" fill="#48486e"/>
<circle cx="517.5" cy="299.0" r="2.5" fill="url(#bubl)" stroke="#3c3c88" stroke-width="0.6"/>
<circle cx="536.5" cy="299.0" r="2.5" fill="url(#bubl)" stroke="#3c3c88" stroke-width="0.6"/>
<rect x="554.67" y="298.25" width="1.5" height="1.5" fill="#48486e"/>
<rect x="573.61" y="298.25" width="1.5" height="1.5" fill="#48486e"/>
<rect x="592.55" y="298.25" width="1.5" height="1.5" fill="#48486e"/>
<circle cx="612.2" cy="299.0" r="2.5" fill="url(#bubl)" stroke="#3c3c88" stroke-width="0.6"/>
<rect x="630.43" y="298.25" width="1.5" height="1.5" fill="#48486e"/>
<rect x="649.37" y="298.25" width="1.5" height="1.5" fill="#48486e"/>
<path d="M668.7,298.6L672.1,302.0M672.1,298.6L668.7,302.0" stroke="#ff2a2a" stroke-width="1" fill="none"/>
<path d="M687.6,298.6L691.0,302.0M691.0,298.6L687.6,302.0" stroke="#ff2a2a" stroke-width="1" fill="none"/>
<circle cx="706.9" cy="299.0" r="3.5" fill="url(#bubl)" stroke="#3c3c88" stroke-width="0.8"/>
<rect x="725.13" y="298.25" width="1.5" height="1.5" fill="#48486e"/>
<path d="M744.4,298.6L747.8,302.0M747.8,298.6L744.4,302.0" stroke="#ff2a2a" stroke-width="1" fill="none"/>
<rect x="763.01" y="298.25" width="1.5" height="1.5" fill="#48486e"/>
<path d="M782.3,298.6L785.7,302.0M785.7,298.6L782.3,302.0" stroke="#ff2a2a" stroke-width="1" fill="none"/>
<path d="M801.2,298.6L804.6,302.0M804.6,298.6L801.2,302.0" stroke="#ff2a2a" stroke-width="1" fill="none"/>
<path d="M820.2,298.6L823.6,302.0M823.6,298.6L820.2,302.0" stroke="#ff2a2a" stroke-width="1" fill="none"/>
<path d="M839.1,298.6L842.5,302.0M842.5,298.6L839.1,302.0" stroke="#ff2a2a" stroke-width="1" fill="none"/>
<path d="M858.1,298.6L861.5,302.0M861.5,298.6L858.1,302.0" stroke="#ff2a2a" stroke-width="1" fill="none"/>
<rect x="497.85" y="321.45" width="1.5" height="1.5" fill="#48486e"/>
<circle cx="517.5" cy="322.2" r="2.0" fill="url(#bubl)" stroke="#3c3c88" stroke-width="0.6"/>
<circle cx="536.5" cy="322.2" r="1.5" fill="url(#bubl)" stroke="#3c3c88" stroke-width="0.6"/>
<rect x="554.67" y="321.45" width="1.5" height="1.5" fill="#48486e"/>
<rect x="573.61" y="321.45" width="1.5" height="1.5" fill="#48486e"/>
<rect x="592.55" y="321.45" width="1.5" height="1.5" fill="#48486e"/>
<rect x="611.49" y="321.45" width="1.5" height="1.5" fill="#48486e"/>
<rect x="630.43" y="321.45" width="1.5" height="1.5" fill="#48486e"/>
<rect x="649.37" y="321.45" width="1.5" height="1.5" fill="#48486e"/>
<path d="M668.7,321.8L672.1,325.2M672.1,321.8L668.7,325.2" stroke="#ff2a2a" stroke-width="1" fill="none"/>
<path d="M687.6,321.8L691.0,325.2M691.0,321.8L687.6,325.2" stroke="#ff2a2a" stroke-width="1" fill="none"/>
<rect x="706.19" y="321.45" width="1.5" height="1.5" fill="#48486e"/>
<rect x="725.13" y="321.45" width="1.5" height="1.5" fill="#48486e"/>
<circle cx="744.8" cy="322.2" r="1.5" fill="url(#bubl)" stroke="#3c3c88" stroke-width="0.6"/>
<rect x="763.01" y="321.45" width="1.5" height="1.5" fill="#48486e"/>
<rect x="781.95" y="321.45" width="1.5" height="1.5" fill="#48486e"/>
<rect x="800.89" y="321.45" width="1.5" height="1.5" fill="#48486e"/>
<rect x="819.83" y="321.45" width="1.5" height="1.5" fill="#48486e"/>
<rect x="838.77" y="321.45" width="1.5" height="1.5" fill="#48486e"/>
<rect x="857.71" y="321.45" width="1.5" height="1.5" fill="#48486e"/>
<rect x="497.85" y="344.65" width="1.5" height="1.5" fill="#48486e"/>
<circle cx="517.5" cy="345.4" r="3.0" fill="url(#bubl)" stroke="#3c3c88" stroke-width="0.8"/>
<path d="M536.1,345.0L539.5,348.4M539.5,345.0L536.1,348.4" stroke="#ff2a2a" stroke-width="1" fill="none"/>
<rect x="554.67" y="344.65" width="1.5" height="1.5" fill="#48486e"/>
<circle cx="574.4" cy="345.4" r="9.0" fill="url(#bubl)" stroke="#3c3c88" stroke-width="0.8"/>
<circle cx="593.3" cy="345.4" r="5.0" fill="url(#bubl)" stroke="#3c3c88" stroke-width="0.8"/>
<circle cx="612.2" cy="345.4" r="3.0" fill="url(#bubl)" stroke="#3c3c88" stroke-width="0.8"/>
<path d="M649.7,345.0L653.1,348.4M653.1,345.0L649.7,348.4" stroke="#ff2a2a" stroke-width="1" fill="none"/>
<circle cx="669.1" cy="345.4" r="3.5" fill="url(#bubl)" stroke="#3c3c88" stroke-width="0.8"/>
<path d="M687.6,345.0L691.0,348.4M691.0,345.0L687.6,348.4" stroke="#ff2a2a" stroke-width="1" fill="none"/>
<rect x="706.19" y="344.65" width="1.5" height="1.5" fill="#48486e"/>
<circle cx="725.9" cy="345.4" r="9.5" fill="url(#bubl)" stroke="#3c3c88" stroke-width="0.8"/>
<circle cx="744.8" cy="345.4" r="4.5" fill="url(#bubl)" stroke="#3c3c88" stroke-width="0.8"/>
<circle cx="763.8" cy="345.4" r="5.5" fill="url(#bubl)" stroke="#3c3c88" stroke-width="0.8"/>
<circle cx="782.7" cy="345.4" r="1.5" fill="url(#bubl)" stroke="#3c3c88" stroke-width="0.6"/>
<path d="M801.2,345.0L804.6,348.4M804.6,345.0L801.2,348.4" stroke="#ff2a2a" stroke-width="1" fill="none"/>
<circle cx="820.6" cy="345.4" r="8.0" fill="url(#bubl)" stroke="#3c3c88" stroke-width="0.8"/>
<circle cx="839.5" cy="345.4" r="1.5" fill="url(#bubl)" stroke="#3c3c88" stroke-width="0.6"/>
<circle cx="858.5" cy="345.4" r="5.0" fill="url(#bubl)" stroke="#3c3c88" stroke-width="0.8"/>
<rect x="497.85" y="367.85" width="1.5" height="1.5" fill="#48486e"/>
<rect x="516.79" y="367.85" width="1.5" height="1.5" fill="#48486e"/>
<path d="M536.1,368.2L539.5,371.6M539.5,368.2L536.1,371.6" stroke="#ff2a2a" stroke-width="1" fill="none"/>
<circle cx="574.4" cy="368.6" r="1.5" fill="url(#bubl)" stroke="#3c3c88" stroke-width="0.6"/>
<rect x="592.55" y="367.85" width="1.5" height="1.5" fill="#48486e"/>
<path d="M630.8,368.2L634.2,371.6M634.2,368.2L630.8,371.6" stroke="#ff2a2a" stroke-width="1" fill="none"/>
<path d="M649.7,368.2L653.1,371.6M653.1,368.2L649.7,371.6" stroke="#ff2a2a" stroke-width="1" fill="none"/>
<rect x="668.31" y="367.85" width="1.5" height="1.5" fill="#48486e"/>
<path d="M687.6,368.2L691.0,371.6M691.0,368.2L687.6,371.6" stroke="#ff2a2a" stroke-width="1" fill="none"/>
<rect x="706.19" y="367.85" width="1.5" height="1.5" fill="#48486e"/>
<circle cx="725.9" cy="368.6" r="1.5" fill="url(#bubl)" stroke="#3c3c88" stroke-width="0.6"/>
<rect x="744.07" y="367.85" width="1.5" height="1.5" fill="#48486e"/>
<rect x="763.01" y="367.85" width="1.5" height="1.5" fill="#48486e"/>
<rect x="781.95" y="367.85" width="1.5" height="1.5" fill="#48486e"/>
<rect x="800.89" y="367.85" width="1.5" height="1.5" fill="#48486e"/>
<path d="M820.2,368.2L823.6,371.6M823.6,368.2L820.2,371.6" stroke="#ff2a2a" stroke-width="1" fill="none"/>
<path d="M839.1,368.2L842.5,371.6M842.5,368.2L839.1,371.6" stroke="#ff2a2a" stroke-width="1" fill="none"/>
<path d="M858.1,368.2L861.5,371.6M861.5,368.2L858.1,371.6" stroke="#ff2a2a" stroke-width="1" fill="none"/>
<rect x="497.85" y="391.05" width="1.5" height="1.5" fill="#48486e"/>
<circle cx="517.5" cy="391.8" r="2.5" fill="url(#bubl)" stroke="#3c3c88" stroke-width="0.6"/>
<path d="M536.1,391.4L539.5,394.8M539.5,391.4L536.1,394.8" stroke="#ff2a2a" stroke-width="1" fill="none"/>
<rect x="554.67" y="391.05" width="1.5" height="1.5" fill="#48486e"/>
<circle cx="574.4" cy="391.8" r="4.0" fill="url(#bubl)" stroke="#3c3c88" stroke-width="0.8"/>
<circle cx="593.3" cy="391.8" r="5.5" fill="url(#bubl)" stroke="#3c3c88" stroke-width="0.8"/>
<path d="M611.8,391.4L615.2,394.8M615.2,391.4L611.8,394.8" stroke="#ff2a2a" stroke-width="1" fill="none"/>
<circle cx="631.2" cy="391.8" r="3.0" fill="url(#bubl)" stroke="#3c3c88" stroke-width="0.8"/>
<path d="M649.7,391.4L653.1,394.8M653.1,391.4L649.7,394.8" stroke="#ff2a2a" stroke-width="1" fill="none"/>
<circle cx="669.1" cy="391.8" r="5.5" fill="url(#bubl)" stroke="#3c3c88" stroke-width="0.8"/>
<path d="M687.6,391.4L691.0,394.8M691.0,391.4L687.6,394.8" stroke="#ff2a2a" stroke-width="1" fill="none"/>
<rect x="706.19" y="391.05" width="1.5" height="1.5" fill="#48486e"/>
<circle cx="725.9" cy="391.8" r="5.5" fill="url(#bubl)" stroke="#3c3c88" stroke-width="0.8"/>
<circle cx="744.8" cy="391.8" r="3.5" fill="url(#bubl)" stroke="#3c3c88" stroke-width="0.8"/>
<path d="M763.4,391.4L766.8,394.8M766.8,391.4L763.4,394.8" stroke="#ff2a2a" stroke-width="1" fill="none"/>
<circle cx="782.7" cy="391.8" r="3.0" fill="url(#bubl)" stroke="#3c3c88" stroke-width="0.8"/>
<circle cx="801.6" cy="391.8" r="2.5" fill="url(#bubl)" stroke="#3c3c88" stroke-width="0.6"/>
<path d="M820.2,391.4L823.6,394.8M823.6,391.4L820.2,394.8" stroke="#ff2a2a" stroke-width="1" fill="none"/>
<circle cx="839.5" cy="391.8" r="2.0" fill="url(#bubl)" stroke="#3c3c88" stroke-width="0.6"/>
<path d="M858.1,391.4L861.5,394.8M861.5,391.4L858.1,394.8" stroke="#ff2a2a" stroke-width="1" fill="none"/>
<rect x="497.85" y="414.25" width="1.5" height="1.5" fill="#48486e"/>
<circle cx="517.5" cy="415.0" r="2.5" fill="url(#bubl)" stroke="#3c3c88" stroke-width="0.6"/>
<path d="M536.1,414.6L539.5,418.0M539.5,414.6L536.1,418.0" stroke="#ff2a2a" stroke-width="1" fill="none"/>
<circle cx="555.4" cy="415.0" r="1.5" fill="url(#bubl)" stroke="#3c3c88" stroke-width="0.6"/>
<circle cx="574.4" cy="415.0" r="4.0" fill="url(#bubl)" stroke="#3c3c88" stroke-width="0.8"/>
<circle cx="593.3" cy="415.0" r="3.0" fill="url(#bubl)" stroke="#3c3c88" stroke-width="0.8"/>
<path d="M611.8,414.6L615.2,418.0M615.2,414.6L611.8,418.0" stroke="#ff2a2a" stroke-width="1" fill="none"/>
<circle cx="631.2" cy="415.0" r="2.5" fill="url(#bubl)" stroke="#3c3c88" stroke-width="0.6"/>
<path d="M649.7,414.6L653.1,418.0M653.1,414.6L649.7,418.0" stroke="#ff2a2a" stroke-width="1" fill="none"/>
<circle cx="669.1" cy="415.0" r="2.5" fill="url(#bubl)" stroke="#3c3c88" stroke-width="0.6"/>
<path d="M687.6,414.6L691.0,418.0M691.0,414.6L687.6,418.0" stroke="#ff2a2a" stroke-width="1" fill="none"/>
<rect x="706.19" y="414.25" width="1.5" height="1.5" fill="#48486e"/>
<circle cx="725.9" cy="415.0" r="3.5" fill="url(#bubl)" stroke="#3c3c88" stroke-width="0.8"/>
<rect x="744.07" y="414.25" width="1.5" height="1.5" fill="#48486e"/>
<circle cx="763.8" cy="415.0" r="1.5" fill="url(#bubl)" stroke="#3c3c88" stroke-width="0.6"/>
<rect x="781.95" y="414.25" width="1.5" height="1.5" fill="#48486e"/>
<path d="M801.2,414.6L804.6,418.0M804.6,414.6L801.2,418.0" stroke="#ff2a2a" stroke-width="1" fill="none"/>
<circle cx="820.6" cy="415.0" r="1.5" fill="url(#bubl)" stroke="#3c3c88" stroke-width="0.6"/>
<circle cx="839.5" cy="415.0" r="1.5" fill="url(#bubl)" stroke="#3c3c88" stroke-width="0.6"/>
<circle cx="858.5" cy="415.0" r="4.0" fill="url(#bubl)" stroke="#3c3c88" stroke-width="0.8"/>
<line x1="76.50" y1="501.50" x2="76.50" y2="768.80" stroke="#c4c4c4" stroke-width="1" stroke-dasharray="2,2"/>
<line x1="94.50" y1="501.50" x2="94.50" y2="768.80" stroke="#c4c4c4" stroke-width="1" stroke-dasharray="2,2"/>
<line x1="111.50" y1="501.50" x2="111.50" y2="768.80" stroke="#c4c4c4" stroke-width="1" stroke-dasharray="2,2"/>
<line x1="129.50" y1="501.50" x2="129.50" y2="768.80" stroke="#c4c4c4" stroke-width="1" stroke-dasharray="2,2"/>
<line x1="147.50" y1="501.50" x2="147.50" y2="768.80" stroke="#c4c4c4" stroke-width="1" stroke-dasharray="2,2"/>
<line x1="164.50" y1="501.50" x2="164.50" y2="768.80" stroke="#c4c4c4" stroke-width="1" stroke-dasharray="2,2"/>
<line x1="182.50" y1="501.50" x2="182.50" y2="768.80" stroke="#c4c4c4" stroke-width="1" stroke-dasharray="2,2"/>
<line x1="200.50" y1="501.50" x2="200.50" y2="768.80" stroke="#c4c4c4" stroke-width="1" stroke-dasharray="2,2"/>
<line x1="217.50" y1="501.50" x2="217.50" y2="768.80" stroke="#c4c4c4" stroke-width="1" stroke-dasharray="2,2"/>
<line x1="235.50" y1="501.50" x2="235.50" y2="768.80" stroke="#c4c4c4" stroke-width="1" stroke-dasharray="2,2"/>
<line x1="253.50" y1="501.50" x2="253.50" y2="768.80" stroke="#c4c4c4" stroke-width="1" stroke-dasharray="2,2"/>
<line x1="270.50" y1="501.50" x2="270.50" y2="768.80" stroke="#c4c4c4" stroke-width="1" stroke-dasharray="2,2"/>
<line x1="288.50" y1="501.50" x2="288.50" y2="768.80" stroke="#c4c4c4" stroke-width="1" stroke-dasharray="2,2"/>
<line x1="306.50" y1="501.50" x2="306.50" y2="768.80" stroke="#c4c4c4" stroke-width="1" stroke-dasharray="2,2"/>
<line x1="323.50" y1="501.50" x2="323.50" y2="768.80" stroke="#c4c4c4" stroke-width="1" stroke-dasharray="2,2"/>
<line x1="341.50" y1="501.50" x2="341.50" y2="768.80" stroke="#c4c4c4" stroke-width="1" stroke-dasharray="2,2"/>
<line x1="359.50" y1="501.50" x2="359.50" y2="768.80" stroke="#c4c4c4" stroke-width="1" stroke-dasharray="2,2"/>
<line x1="376.50" y1="501.50" x2="376.50" y2="768.80" stroke="#c4c4c4" stroke-width="1" stroke-dasharray="2,2"/>
<line x1="394.50" y1="501.50" x2="394.50" y2="768.80" stroke="#c4c4c4" stroke-width="1" stroke-dasharray="2,2"/>
<line x1="412.50" y1="501.50" x2="412.50" y2="768.80" stroke="#c4c4c4" stroke-width="1" stroke-dasharray="2,2"/>
<line x1="67.50" y1="507.50" x2="420.00" y2="507.50" stroke="#c4c4c4" stroke-width="1" stroke-dasharray="2,2"/>
<line x1="67.50" y1="518.50" x2="420.00" y2="518.50" stroke="#c4c4c4" stroke-width="1" stroke-dasharray="2,2"/>
<line x1="67.50" y1="528.50" x2="420.00" y2="528.50" stroke="#c4c4c4" stroke-width="1" stroke-dasharray="2,2"/>
<line x1="67.50" y1="539.50" x2="420.00" y2="539.50" stroke="#c4c4c4" stroke-width="1" stroke-dasharray="2,2"/>
<line x1="67.50" y1="550.50" x2="420.00" y2="550.50" stroke="#c4c4c4" stroke-width="1" stroke-dasharray="2,2"/>
<line x1="67.50" y1="560.50" x2="420.00" y2="560.50" stroke="#c4c4c4" stroke-width="1" stroke-dasharray="2,2"/>
<line x1="67.50" y1="571.50" x2="420.00" y2="571.50" stroke="#c4c4c4" stroke-width="1" stroke-dasharray="2,2"/>
<line x1="67.50" y1="582.50" x2="420.00" y2="582.50" stroke="#c4c4c4" stroke-width="1" stroke-dasharray="2,2"/>
<line x1="67.50" y1="592.50" x2="420.00" y2="592.50" stroke="#c4c4c4" stroke-width="1" stroke-dasharray="2,2"/>
<line x1="67.50" y1="603.50" x2="420.00" y2="603.50" stroke="#c4c4c4" stroke-width="1" stroke-dasharray="2,2"/>
<line x1="67.50" y1="614.50" x2="420.00" y2="614.50" stroke="#c4c4c4" stroke-width="1" stroke-dasharray="2,2"/>
<line x1="67.50" y1="624.50" x2="420.00" y2="624.50" stroke="#c4c4c4" stroke-width="1" stroke-dasharray="2,2"/>
<line x1="67.50" y1="635.50" x2="420.00" y2="635.50" stroke="#c4c4c4" stroke-width="1" stroke-dasharray="2,2"/>
<line x1="67.50" y1="646.50" x2="420.00" y2="646.50" stroke="#c4c4c4" stroke-width="1" stroke-dasharray="2,2"/>
<line x1="67.50" y1="657.50" x2="420.00" y2="657.50" stroke="#c4c4c4" stroke-width="1" stroke-dasharray="2,2"/>
<line x1="67.50" y1="667.50" x2="420.00" y2="667.50" stroke="#c4c4c4" stroke-width="1" stroke-dasharray="2,2"/>
<line x1="67.50" y1="678.50" x2="420.00" y2="678.50" stroke="#c4c4c4" stroke-width="1" stroke-dasharray="2,2"/>
<line x1="67.50" y1="689.50" x2="420.00" y2="689.50" stroke="#c4c4c4" stroke-width="1" stroke-dasharray="2,2"/>
<line x1="67.50" y1="699.50" x2="420.00" y2="699.50" stroke="#c4c4c4" stroke-width="1" stroke-dasharray="2,2"/>
<line x1="67.50" y1="710.50" x2="420.00" y2="710.50" stroke="#c4c4c4" stroke-width="1" stroke-dasharray="2,2"/>
<line x1="67.50" y1="721.50" x2="420.00" y2="721.50" stroke="#c4c4c4" stroke-width="1" stroke-dasharray="2,2"/>
<line x1="67.50" y1="731.50" x2="420.00" y2="731.50" stroke="#c4c4c4" stroke-width="1" stroke-dasharray="2,2"/>
<line x1="67.50" y1="742.50" x2="420.00" y2="742.50" stroke="#c4c4c4" stroke-width="1" stroke-dasharray="2,2"/>
<line x1="67.50" y1="753.50" x2="420.00" y2="753.50" stroke="#c4c4c4" stroke-width="1" stroke-dasharray="2,2"/>
<line x1="67.50" y1="763.50" x2="420.00" y2="763.50" stroke="#c4c4c4" stroke-width="1" stroke-dasharray="2,2"/>
<line x1="67.50" y1="501.50" x2="420.00" y2="501.50" stroke="#7a7a7a" stroke-width="1" />
<line x1="420.00" y1="501.50" x2="420.00" y2="768.80" stroke="#7a7a7a" stroke-width="1" />
<line x1="67.50" y1="501.00" x2="67.50" y2="769.30" stroke="#000" stroke-width="1.5" />
<line x1="67.50" y1="768.80" x2="420.50" y2="768.80" stroke="#000" stroke-width="1.5" />
<line x1="64.00" y1="507.50" x2="67.50" y2="507.50" stroke="#000" stroke-width="1" />
<line x1="64.00" y1="518.50" x2="67.50" y2="518.50" stroke="#000" stroke-width="1" />
<line x1="64.00" y1="528.50" x2="67.50" y2="528.50" stroke="#000" stroke-width="1" />
<line x1="64.00" y1="539.50" x2="67.50" y2="539.50" stroke="#000" stroke-width="1" />
<line x1="64.00" y1="550.50" x2="67.50" y2="550.50" stroke="#000" stroke-width="1" />
<line x1="64.00" y1="560.50" x2="67.50" y2="560.50" stroke="#000" stroke-width="1" />
<line x1="64.00" y1="571.50" x2="67.50" y2="571.50" stroke="#000" stroke-width="1" />
<line x1="64.00" y1="582.50" x2="67.50" y2="582.50" stroke="#000" stroke-width="1" />
<line x1="64.00" y1="592.50" x2="67.50" y2="592.50" stroke="#000" stroke-width="1" />
<line x1="64.00" y1="603.50" x2="67.50" y2="603.50" stroke="#000" stroke-width="1" />
<line x1="64.00" y1="614.50" x2="67.50" y2="614.50" stroke="#000" stroke-width="1" />
<line x1="64.00" y1="624.50" x2="67.50" y2="624.50" stroke="#000" stroke-width="1" />
<line x1="64.00" y1="635.50" x2="67.50" y2="635.50" stroke="#000" stroke-width="1" />
<line x1="64.00" y1="646.50" x2="67.50" y2="646.50" stroke="#000" stroke-width="1" />
<line x1="64.00" y1="657.50" x2="67.50" y2="657.50" stroke="#000" stroke-width="1" />
<line x1="64.00" y1="667.50" x2="67.50" y2="667.50" stroke="#000" stroke-width="1" />
<line x1="64.00" y1="678.50" x2="67.50" y2="678.50" stroke="#000" stroke-width="1" />
<line x1="64.00" y1="689.50" x2="67.50" y2="689.50" stroke="#000" stroke-width="1" />
<line x1="64.00" y1="699.50" x2="67.50" y2="699.50" stroke="#000" stroke-width="1" />
<line x1="64.00" y1="710.50" x2="67.50" y2="710.50" stroke="#000" stroke-width="1" />
<line x1="64.00" y1="721.50" x2="67.50" y2="721.50" stroke="#000" stroke-width="1" />
<line x1="64.00" y1="731.50" x2="67.50" y2="731.50" stroke="#000" stroke-width="1" />
<line x1="64.00" y1="742.50" x2="67.50" y2="742.50" stroke="#000" stroke-width="1" />
<line x1="64.00" y1="753.50" x2="67.50" y2="753.50" stroke="#000" stroke-width="1" />
<line x1="64.00" y1="763.50" x2="67.50" y2="763.50" stroke="#000" stroke-width="1" />
<line x1="76.50" y1="768.80" x2="76.50" y2="772.30" stroke="#000" stroke-width="1" />
<line x1="94.50" y1="768.80" x2="94.50" y2="772.30" stroke="#000" stroke-width="1" />
<line x1="111.50" y1="768.80" x2="111.50" y2="772.30" stroke="#000" stroke-width="1" />
<line x1="129.50" y1="768.80" x2="129.50" y2="772.30" stroke="#000" stroke-width="1" />
<line x1="147.50" y1="768.80" x2="147.50" y2="772.30" stroke="#000" stroke-width="1" />
<line x1="164.50" y1="768.80" x2="164.50" y2="772.30" stroke="#000" stroke-width="1" />
<line x1="182.50" y1="768.80" x2="182.50" y2="772.30" stroke="#000" stroke-width="1" />
<line x1="200.50" y1="768.80" x2="200.50" y2="772.30" stroke="#000" stroke-width="1" />
<line x1="217.50" y1="768.80" x2="217.50" y2="772.30" stroke="#000" stroke-width="1" />
<line x1="235.50" y1="768.80" x2="235.50" y2="772.30" stroke="#000" stroke-width="1" />
<line x1="253.50" y1="768.80" x2="253.50" y2="772.30" stroke="#000" stroke-width="1" />
<line x1="270.50" y1="768.80" x2="270.50" y2="772.30" stroke="#000" stroke-width="1" />
<line x1="288.50" y1="768.80" x2="288.50" y2="772.30" stroke="#000" stroke-width="1" />
<line x1="306.50" y1="768.80" x2="306.50" y2="772.30" stroke="#000" stroke-width="1" />
<line x1="323.50" y1="768.80" x2="323.50" y2="772.30" stroke="#000" stroke-width="1" />
<line x1="341.50" y1="768.80" x2="341.50" y2="772.30" stroke="#000" stroke-width="1" />
<line x1="359.50" y1="768.80" x2="359.50" y2="772.30" stroke="#000" stroke-width="1" />
<line x1="376.50" y1="768.80" x2="376.50" y2="772.30" stroke="#000" stroke-width="1" />
<line x1="394.50" y1="768.80" x2="394.50" y2="772.30" stroke="#000" stroke-width="1" />
<line x1="412.50" y1="768.80" x2="412.50" y2="772.30" stroke="#000" stroke-width="1" />
<text x="59.5" y="616.3" font-size="7" text-anchor="end" font-weight="normal" fill="#111" font-family="'Liberation Sans', sans-serif" textLength="17.0" lengthAdjust="spacingAndGlyphs" >G09F</text>
<text x="62.3" y="617.8" font-size="7.5" text-anchor="middle" font-weight="bold" fill="#111" font-family="'Liberation Sans', sans-serif" textLength="3.5" lengthAdjust="spacingAndGlyphs" >*</text>
<text x="59.5" y="627.0" font-size="7" text-anchor="end" font-weight="normal" fill="#111" font-family="'Liberation Sans', sans-serif" textLength="17.0" lengthAdjust="spacingAndGlyphs" >G08F</text>
<text x="62.3" y="628.5" font-size="7.5" text-anchor="middle" font-weight="bold" fill="#111" font-family="'Liberation Sans', sans-serif" textLength="3.5" lengthAdjust="spacingAndGlyphs" >*</text>
<text x="59.5" y="637.7" font-size="7" text-anchor="end" font-weight="normal" fill="#111" font-family="'Liberation Sans', sans-serif" textLength="17.0" lengthAdjust="spacingAndGlyphs" >G01J</text>
<text x="62.3" y="639.2" font-size="7.5" text-anchor="middle" font-weight="bold" fill="#111" font-family="'Liberation Sans', sans-serif" textLength="3.5" lengthAdjust="spacingAndGlyphs" >*</text>
<text x="59.5" y="648.4" font-size="7" text-anchor="end" font-weight="normal" fill="#111" font-family="'Liberation Sans', sans-serif" textLength="17.0" lengthAdjust="spacingAndGlyphs" >G09D</text>
<text x="62.3" y="649.9" font-size="7.5" text-anchor="middle" font-weight="bold" fill="#111" font-family="'Liberation Sans', sans-serif" textLength="3.5" lengthAdjust="spacingAndGlyphs" >*</text>
<text x="59.5" y="659.1" font-size="7" text-anchor="end" font-weight="normal" fill="#111" font-family="'Liberation Sans', sans-serif" textLength="17.0" lengthAdjust="spacingAndGlyphs" >H04N</text>
<text x="62.3" y="660.6" font-size="7.5" text-anchor="middle" font-weight="bold" fill="#111" font-family="'Liberation Sans', sans-serif" textLength="3.5" lengthAdjust="spacingAndGlyphs" >*</text>
<text x="59.5" y="669.8" font-size="7" text-anchor="end" font-weight="normal" fill="#111" font-family="'Liberation Sans', sans-serif" textLength="17.0" lengthAdjust="spacingAndGlyphs" >G03B</text>
<text x="62.3" y="671.2" font-size="7.5" text-anchor="middle" font-weight="bold" fill="#111" font-family="'Liberation Sans', sans-serif" textLength="3.5" lengthAdjust="spacingAndGlyphs" >*</text>
<text x="59.5" y="733.9" font-size="7" text-anchor="end" font-weight="normal" fill="#111" font-family="'Liberation Sans', sans-serif" textLength="17.0" lengthAdjust="spacingAndGlyphs" >G08G</text>
<text x="62.3" y="735.4" font-size="7.5" text-anchor="middle" font-weight="bold" fill="#111" font-family="'Liberation Sans', sans-serif" textLength="3.5" lengthAdjust="spacingAndGlyphs" >*</text>
<text x="59.5" y="744.6" font-size="7" text-anchor="end" font-weight="normal" fill="#111" font-family="'Liberation Sans', sans-serif" textLength="17.0" lengthAdjust="spacingAndGlyphs" >G09J</text>
<text x="62.3" y="746.1" font-size="7.5" text-anchor="middle" font-weight="bold" fill="#111" font-family="'Liberation Sans', sans-serif" textLength="3.5" lengthAdjust="spacingAndGlyphs" >*</text>
<text x="59.5" y="755.3" font-size="7" text-anchor="end" font-weight="normal" fill="#111" font-family="'Liberation Sans', sans-serif" textLength="17.0" lengthAdjust="spacingAndGlyphs" >E06B</text>
<text x="62.3" y="756.8" font-size="7.5" text-anchor="middle" font-weight="bold" fill="#111" font-family="'Liberation Sans', sans-serif" textLength="3.5" lengthAdjust="spacingAndGlyphs" >*</text>
<text x="59.5" y="766.0" font-size="7" text-anchor="end" font-weight="normal" fill="#111" font-family="'Liberation Sans', sans-serif" textLength="17.0" lengthAdjust="spacingAndGlyphs" >G01G</text>
<text x="62.3" y="767.5" font-size="7.5" text-anchor="middle" font-weight="bold" fill="#111" font-family="'Liberation Sans', sans-serif" textLength="3.5" lengthAdjust="spacingAndGlyphs" >*</text>
<text x="0" y="0" font-size="7" fill="#222" transform="translate(37,637) rotate(-90)" textLength="6" lengthAdjust="spacingAndGlyphs">FI</text>
<rect x="29" y="504" width="37" height="106" fill="url(#dith)" stroke="none" stroke-width="1" />
<rect x="29" y="670" width="37" height="52" fill="url(#dith)" stroke="none" stroke-width="1" />
<rect x="70" y="774" width="142" height="40" fill="url(#dith)" stroke="none" stroke-width="1" />
<rect x="285" y="773" width="98" height="42" fill="url(#dith)" stroke="none" stroke-width="1" />
<text x="0" y="0" font-size="7" fill="#222" transform="translate(215.3,774.8) rotate(72)" textLength="40" lengthAdjust="spacingAndGlyphs">2H148 CA17*</text>
<text x="0" y="0" font-size="7" fill="#222" transform="translate(232.9,774.8) rotate(72)" textLength="40" lengthAdjust="spacingAndGlyphs">2H148 CA18*</text>
<text x="0" y="0" font-size="7" fill="#222" transform="translate(250.6,774.8) rotate(72)" textLength="40" lengthAdjust="spacingAndGlyphs">2H148 CA19*</text>
<text x="0" y="0" font-size="7" fill="#222" transform="translate(268.3,774.8) rotate(72)" textLength="40" lengthAdjust="spacingAndGlyphs">2H148 CA20*</text>
<text x="0" y="0" font-size="7" fill="#222" transform="translate(374.2,774.8) rotate(72)" textLength="40" lengthAdjust="spacingAndGlyphs">2H148 CA26*</text>
<text x="0" y="0" font-size="7" fill="#222" transform="translate(391.9,774.8) rotate(72)" textLength="40" lengthAdjust="spacingAndGlyphs">2H148 CA27*</text>
<text x="0" y="0" font-size="7" fill="#222" transform="translate(409.5,774.8) rotate(72)" textLength="40" lengthAdjust="spacingAndGlyphs">2H148 CA28*</text>
<rect x="376" y="773" width="8" height="42" fill="url(#dith)" stroke="none" stroke-width="1" />
<text x="243.0" y="819.0" font-size="7" text-anchor="middle" font-weight="normal" fill="#222" font-family="'Liberation Sans', sans-serif" textLength="20.0" lengthAdjust="spacingAndGlyphs" >Fターム</text>
<rect x="75.25" y="506.15" width="1.5" height="1.5" fill="#48486e"/>
<circle cx="93.7" cy="506.9" r="2.0" fill="url(#bubl)" stroke="#3c3c88" stroke-width="0.6"/>
<rect x="110.57" y="506.15" width="1.5" height="1.5" fill="#48486e"/>
<circle cx="129.0" cy="506.9" r="5.0" fill="url(#bubl)" stroke="#3c3c88" stroke-width="0.8"/>
<circle cx="146.6" cy="506.9" r="3.0" fill="url(#bubl)" stroke="#3c3c88" stroke-width="0.8"/>
<circle cx="164.3" cy="506.9" r="2.0" fill="url(#bubl)" stroke="#3c3c88" stroke-width="0.6"/>
<circle cx="182.0" cy="506.9" r="2.0" fill="url(#bubl)" stroke="#3c3c88" stroke-width="0.6"/>
<circle cx="199.6" cy="506.9" r="5.5" fill="url(#bubl)" stroke="#3c3c88" stroke-width="0.8"/>
<circle cx="217.3" cy="506.9" r="5.0" fill="url(#bubl)" stroke="#3c3c88" stroke-width="0.8"/>
<rect x="234.19" y="506.15" width="1.5" height="1.5" fill="#48486e"/>
<circle cx="252.6" cy="506.9" r="3.0" fill="url(#bubl)" stroke="#3c3c88" stroke-width="0.8"/>
<circle cx="270.3" cy="506.9" r="2.0" fill="url(#bubl)" stroke="#3c3c88" stroke-width="0.6"/>
<rect x="287.17" y="506.15" width="1.5" height="1.5" fill="#48486e"/>
<rect x="304.83" y="506.15" width="1.5" height="1.5" fill="#48486e"/>
<circle cx="323.2" cy="506.9" r="3.0" fill="url(#bubl)" stroke="#3c3c88" stroke-width="0.8"/>
<circle cx="340.9" cy="506.9" r="3.0" fill="url(#bubl)" stroke="#3c3c88" stroke-width="0.8"/>
<rect x="357.81" y="506.15" width="1.5" height="1.5" fill="#48486e"/>
<rect x="375.47" y="506.15" width="1.5" height="1.5" fill="#48486e"/>
<circle cx="393.9" cy="506.9" r="2.0" fill="url(#bubl)" stroke="#3c3c88" stroke-width="0.6"/>
<circle cx="411.5" cy="506.9" r="2.0" fill="url(#bubl)" stroke="#3c3c88" stroke-width="0.6"/>
<rect x="75.25" y="516.84" width="1.5" height="1.5" fill="#48486e"/>
<rect x="92.91" y="516.84" width="1.5" height="1.5" fill="#48486e"/>
<rect x="110.57" y="516.84" width="1.5" height="1.5" fill="#48486e"/>
<circle cx="129.0" cy="517.6" r="2.5" fill="url(#bubl)" stroke="#3c3c88" stroke-width="0.6"/>
<circle cx="146.6" cy="517.6" r="2.0" fill="url(#bubl)" stroke="#3c3c88" stroke-width="0.6"/>
<rect x="163.55" y="516.84" width="1.5" height="1.5" fill="#48486e"/>
<rect x="181.21" y="516.84" width="1.5" height="1.5" fill="#48486e"/>
<circle cx="199.6" cy="517.6" r="2.5" fill="url(#bubl)" stroke="#3c3c88" stroke-width="0.6"/>
<circle cx="217.3" cy="517.6" r="2.0" fill="url(#bubl)" stroke="#3c3c88" stroke-width="0.6"/>
<rect x="234.19" y="516.84" width="1.5" height="1.5" fill="#48486e"/>
<rect x="251.85" y="516.84" width="1.5" height="1.5" fill="#48486e"/>
<rect x="269.51" y="516.84" width="1.5" height="1.5" fill="#48486e"/>
<rect x="287.17" y="516.84" width="1.5" height="1.5" fill="#48486e"/>
<rect x="304.83" y="516.84" width="1.5" height="1.5" fill="#48486e"/>
<circle cx="323.2" cy="517.6" r="1.5" fill="url(#bubl)" stroke="#3c3c88" stroke-width="0.6"/>
<circle cx="340.9" cy="517.6" r="2.0" fill="url(#bubl)" stroke="#3c3c88" stroke-width="0.6"/>
<rect x="357.81" y="516.84" width="1.5" height="1.5" fill="#48486e"/>
<rect x="375.47" y="516.84" width="1.5" height="1.5" fill="#48486e"/>
<rect x="393.13" y="516.84" width="1.5" height="1.5" fill="#48486e"/>
<circle cx="411.5" cy="517.6" r="1.5" fill="url(#bubl)" stroke="#3c3c88" stroke-width="0.6"/>
<rect x="75.25" y="527.53" width="1.5" height="1.5" fill="#48486e"/>
<rect x="92.91" y="527.53" width="1.5" height="1.5" fill="#48486e"/>
<rect x="110.57" y="527.53" width="1.5" height="1.5" fill="#48486e"/>
<circle cx="129.0" cy="528.3" r="3.0" fill="url(#bubl)" stroke="#3c3c88" stroke-width="0.8"/>
<circle cx="146.6" cy="528.3" r="1.5" fill="url(#bubl)" stroke="#3c3c88" stroke-width="0.6"/>
<rect x="163.55" y="527.53" width="1.5" height="1.5" fill="#48486e"/>
<rect x="181.21" y="527.53" width="1.5" height="1.5" fill="#48486e"/>
<circle cx="199.6" cy="528.3" r="3.0" fill="url(#bubl)" stroke="#3c3c88" stroke-width="0.8"/>
<circle cx="217.3" cy="528.3" r="3.0" fill="url(#bubl)" stroke="#3c3c88" stroke-width="0.8"/>
<rect x="234.19" y="527.53" width="1.5" height="1.5" fill="#48486e"/>
<circle cx="252.6" cy="528.3" r="1.5" fill="url(#bubl)" stroke="#3c3c88" stroke-width="0.6"/>
<rect x="269.51" y="527.53" width="1.5" height="1.5" fill="#48486e"/>
<rect x="287.17" y="527.53" width="1.5" height="1.5" fill="#48486e"/>
<rect x="304.83" y="527.53" width="1.5" height="1.5" fill="#48486e"/>
<circle cx="323.2" cy="528.3" r="2.0" fill="url(#bubl)" stroke="#3c3c88" stroke-width="0.6"/>
<circle cx="340.9" cy="528.3" r="1.5" fill="url(#bubl)" stroke="#3c3c88" stroke-width="0.6"/>
<rect x="357.81" y="527.53" width="1.5" height="1.5" fill="#48486e"/>
<rect x="375.47" y="527.53" width="1.5" height="1.5" fill="#48486e"/>
<rect x="393.13" y="527.53" width="1.5" height="1.5" fill="#48486e"/>
<circle cx="411.5" cy="528.3" r="1.5" fill="url(#bubl)" stroke="#3c3c88" stroke-width="0.6"/>
<rect x="75.25" y="538.22" width="1.5" height="1.5" fill="#48486e"/>
<rect x="92.91" y="538.22" width="1.5" height="1.5" fill="#48486e"/>
<rect x="110.57" y="538.22" width="1.5" height="1.5" fill="#48486e"/>
<rect x="128.23" y="538.22" width="1.5" height="1.5" fill="#48486e"/>
<rect x="145.89" y="538.22" width="1.5" height="1.5" fill="#48486e"/>
<rect x="163.55" y="538.22" width="1.5" height="1.5" fill="#48486e"/>
<rect x="181.21" y="538.22" width="1.5" height="1.5" fill="#48486e"/>
<circle cx="199.6" cy="539.0" r="1.5" fill="url(#bubl)" stroke="#3c3c88" stroke-width="0.6"/>
<circle cx="217.3" cy="539.0" r="1.5" fill="url(#bubl)" stroke="#3c3c88" stroke-width="0.6"/>
<rect x="234.19" y="538.22" width="1.5" height="1.5" fill="#48486e"/>
<rect x="251.85" y="538.22" width="1.5" height="1.5" fill="#48486e"/>
<rect x="269.51" y="538.22" width="1.5" height="1.5" fill="#48486e"/>
<rect x="287.17" y="538.22" width="1.5" height="1.5" fill="#48486e"/>
<rect x="304.83" y="538.22" width="1.5" height="1.5" fill="#48486e"/>
<rect x="322.49" y="538.22" width="1.5" height="1.5" fill="#48486e"/>
<rect x="340.15" y="538.22" width="1.5" height="1.5" fill="#48486e"/>
<rect x="357.81" y="538.22" width="1.5" height="1.5" fill="#48486e"/>
<rect x="375.47" y="538.22" width="1.5" height="1.5" fill="#48486e"/>
<rect x="393.13" y="538.22" width="1.5" height="1.5" fill="#48486e"/>
<rect x="410.79" y="538.22" width="1.5" height="1.5" fill="#48486e"/>
<rect x="75.25" y="548.91" width="1.5" height="1.5" fill="#48486e"/>
<rect x="92.91" y="548.91" width="1.5" height="1.5" fill="#48486e"/>
<rect x="110.57" y="548.91" width="1.5" height="1.5" fill="#48486e"/>
<circle cx="129.0" cy="549.7" r="2.5" fill="url(#bubl)" stroke="#3c3c88" stroke-width="0.6"/>
<rect x="145.89" y="548.91" width="1.5" height="1.5" fill="#48486e"/>
<rect x="163.55" y="548.91" width="1.5" height="1.5" fill="#48486e"/>
<rect x="181.21" y="548.91" width="1.5" height="1.5" fill="#48486e"/>
<circle cx="199.6" cy="549.7" r="2.5" fill="url(#bubl)" stroke="#3c3c88" stroke-width="0.6"/>
<circle cx="217.3" cy="549.7" r="2.0" fill="url(#bubl)" stroke="#3c3c88" stroke-width="0.6"/>
<rect x="234.19" y="548.91" width="1.5" height="1.5" fill="#48486e"/>
<rect x="251.85" y="548.91" width="1.5" height="1.5" fill="#48486e"/>
<rect x="269.51" y="548.91" width="1.5" height="1.5" fill="#48486e"/>
<rect x="287.17" y="548.91" width="1.5" height="1.5" fill="#48486e"/>
<rect x="304.83" y="548.91" width="1.5" height="1.5" fill="#48486e"/>
<rect x="322.49" y="548.91" width="1.5" height="1.5" fill="#48486e"/>
<rect x="340.15" y="548.91" width="1.5" height="1.5" fill="#48486e"/>
<rect x="357.81" y="548.91" width="1.5" height="1.5" fill="#48486e"/>
<rect x="375.47" y="548.91" width="1.5" height="1.5" fill="#48486e"/>
<rect x="393.13" y="548.91" width="1.5" height="1.5" fill="#48486e"/>
<rect x="410.79" y="548.91" width="1.5" height="1.5" fill="#48486e"/>
<rect x="75.25" y="559.60" width="1.5" height="1.5" fill="#48486e"/>
<rect x="92.91" y="559.60" width="1.5" height="1.5" fill="#48486e"/>
<rect x="110.57" y="559.60" width="1.5" height="1.5" fill="#48486e"/>
<circle cx="129.0" cy="560.4" r="3.0" fill="url(#bubl)" stroke="#3c3c88" stroke-width="0.8"/>
<rect x="145.89" y="559.60" width="1.5" height="1.5" fill="#48486e"/>
<rect x="163.55" y="559.60" width="1.5" height="1.5" fill="#48486e"/>
<rect x="181.21" y="559.60" width="1.5" height="1.5" fill="#48486e"/>
<circle cx="199.6" cy="560.4" r="3.0" fill="url(#bubl)" stroke="#3c3c88" stroke-width="0.8"/>
<circle cx="217.3" cy="560.4" r="2.5" fill="url(#bubl)" stroke="#3c3c88" stroke-width="0.6"/>
<rect x="234.19" y="559.60" width="1.5" height="1.5" fill="#48486e"/>
<circle cx="252.6" cy="560.4" r="1.5" fill="url(#bubl)" stroke="#3c3c88" stroke-width="0.6"/>
<rect x="269.51" y="559.60" width="1.5" height="1.5" fill="#48486e"/>
<rect x="287.17" y="559.60" width="1.5" height="1.5" fill="#48486e"/>
<rect x="304.83" y="559.60" width="1.5" height="1.5" fill="#48486e"/>
<circle cx="323.2" cy="560.4" r="1.5" fill="url(#bubl)" stroke="#3c3c88" stroke-width="0.6"/>
<rect x="340.15" y="559.60" width="1.5" height="1.5" fill="#48486e"/>
<rect x="357.81" y="559.60" width="1.5" height="1.5" fill="#48486e"/>
<rect x="375.47" y="559.60" width="1.5" height="1.5" fill="#48486e"/>
<rect x="393.13" y="559.60" width="1.5" height="1.5" fill="#48486e"/>
<circle cx="411.5" cy="560.4" r="1.5" fill="url(#bubl)" stroke="#3c3c88" stroke-width="0.6"/>
<rect x="75.25" y="570.29" width="1.5" height="1.5" fill="#48486e"/>
<rect x="92.91" y="570.29" width="1.5" height="1.5" fill="#48486e"/>
<rect x="110.57" y="570.29" width="1.5" height="1.5" fill="#48486e"/>
<circle cx="129.0" cy="571.0" r="2.5" fill="url(#bubl)" stroke="#3c3c88" stroke-width="0.6"/>
<rect x="145.89" y="570.29" width="1.5" height="1.5" fill="#48486e"/>
<rect x="163.55" y="570.29" width="1.5" height="1.5" fill="#48486e"/>
<rect x="181.21" y="570.29" width="1.5" height="1.5" fill="#48486e"/>
<circle cx="199.6" cy="571.0" r="2.5" fill="url(#bubl)" stroke="#3c3c88" stroke-width="0.6"/>
<circle cx="217.3" cy="571.0" r="2.5" fill="url(#bubl)" stroke="#3c3c88" stroke-width="0.6"/>
<rect x="234.19" y="570.29" width="1.5" height="1.5" fill="#48486e"/>
<rect x="251.85" y="570.29" width="1.5" height="1.5" fill="#48486e"/>
<rect x="269.51" y="570.29" width="1.5" height="1.5" fill="#48486e"/>
<rect x="287.17" y="570.29" width="1.5" height="1.5" fill="#48486e"/>
<rect x="304.83" y="570.29" width="1.5" height="1.5" fill="#48486e"/>
<rect x="322.49" y="570.29" width="1.5" height="1.5" fill="#48486e"/>
<rect x="340.15" y="570.29" width="1.5" height="1.5" fill="#48486e"/>
<rect x="357.81" y="570.29" width="1.5" height="1.5" fill="#48486e"/>
<rect x="375.47" y="570.29" width="1.5" height="1.5" fill="#48486e"/>
<rect x="393.13" y="570.29" width="1.5" height="1.5" fill="#48486e"/>
<rect x="410.79" y="570.29" width="1.5" height="1.5" fill="#48486e"/>
<rect x="75.25" y="580.98" width="1.5" height="1.5" fill="#48486e"/>
<rect x="92.91" y="580.98" width="1.5" height="1.5" fill="#48486e"/>
<rect x="110.57" y="580.98" width="1.5" height="1.5" fill="#48486e"/>
<circle cx="129.0" cy="581.7" r="2.5" fill="url(#bubl)" stroke="#3c3c88" stroke-width="0.6"/>
<rect x="145.89" y="580.98" width="1.5" height="1.5" fill="#48486e"/>
<rect x="163.55" y="580.98" width="1.5" height="1.5" fill="#48486e"/>
<rect x="181.21" y="580.98" width="1.5" height="1.5" fill="#48486e"/>
<circle cx="199.6" cy="581.7" r="2.5" fill="url(#bubl)" stroke="#3c3c88" stroke-width="0.6"/>
<circle cx="217.3" cy="581.7" r="2.0" fill="url(#bubl)" stroke="#3c3c88" stroke-width="0.6"/>
<rect x="234.19" y="580.98" width="1.5" height="1.5" fill="#48486e"/>
<rect x="251.85" y="580.98" width="1.5" height="1.5" fill="#48486e"/>
<rect x="269.51" y="580.98" width="1.5" height="1.5" fill="#48486e"/>
<rect x="287.17" y="580.98" width="1.5" height="1.5" fill="#48486e"/>
<rect x="304.83" y="580.98" width="1.5" height="1.5" fill="#48486e"/>
<rect x="322.49" y="580.98" width="1.5" height="1.5" fill="#48486e"/>
<rect x="340.15" y="580.98" width="1.5" height="1.5" fill="#48486e"/>
<rect x="357.81" y="580.98" width="1.5" height="1.5" fill="#48486e"/>
<rect x="375.47" y="580.98" width="1.5" height="1.5" fill="#48486e"/>
<rect x="393.13" y="580.98" width="1.5" height="1.5" fill="#48486e"/>
<rect x="410.79" y="580.98" width="1.5" height="1.5" fill="#48486e"/>
<rect x="75.25" y="591.67" width="1.5" height="1.5" fill="#48486e"/>
<rect x="92.91" y="591.67" width="1.5" height="1.5" fill="#48486e"/>
<rect x="110.57" y="591.67" width="1.5" height="1.5" fill="#48486e"/>
<circle cx="129.0" cy="592.4" r="1.5" fill="url(#bubl)" stroke="#3c3c88" stroke-width="0.6"/>
<rect x="145.89" y="591.67" width="1.5" height="1.5" fill="#48486e"/>
<rect x="163.55" y="591.67" width="1.5" height="1.5" fill="#48486e"/>
<rect x="181.21" y="591.67" width="1.5" height="1.5" fill="#48486e"/>
<rect x="198.87" y="591.67" width="1.5" height="1.5" fill="#48486e"/>
<rect x="216.53" y="591.67" width="1.5" height="1.5" fill="#48486e"/>
<rect x="234.19" y="591.67" width="1.5" height="1.5" fill="#48486e"/>
<circle cx="252.6" cy="592.4" r="1.5" fill="url(#bubl)" stroke="#3c3c88" stroke-width="0.6"/>
<rect x="269.51" y="591.67" width="1.5" height="1.5" fill="#48486e"/>
<rect x="287.17" y="591.67" width="1.5" height="1.5" fill="#48486e"/>
<rect x="304.83" y="591.67" width="1.5" height="1.5" fill="#48486e"/>
<rect x="322.49" y="591.67" width="1.5" height="1.5" fill="#48486e"/>
<rect x="340.15" y="591.67" width="1.5" height="1.5" fill="#48486e"/>
<rect x="357.81" y="591.67" width="1.5" height="1.5" fill="#48486e"/>
<rect x="375.47" y="591.67" width="1.5" height="1.5" fill="#48486e"/>
<rect x="393.13" y="591.67" width="1.5" height="1.5" fill="#48486e"/>
<rect x="410.79" y="591.67" width="1.5" height="1.5" fill="#48486e"/>
<rect x="75.25" y="602.36" width="1.5" height="1.5" fill="#48486e"/>
<rect x="92.91" y="602.36" width="1.5" height="1.5" fill="#48486e"/>
<rect x="110.57" y="602.36" width="1.5" height="1.5" fill="#48486e"/>
<circle cx="129.0" cy="603.1" r="2.5" fill="url(#bubl)" stroke="#3c3c88" stroke-width="0.6"/>
<rect x="145.89" y="602.36" width="1.5" height="1.5" fill="#48486e"/>
<rect x="163.55" y="602.36" width="1.5" height="1.5" fill="#48486e"/>
<rect x="181.21" y="602.36" width="1.5" height="1.5" fill="#48486e"/>
<circle cx="199.6" cy="603.1" r="2.5" fill="url(#bubl)" stroke="#3c3c88" stroke-width="0.6"/>
<circle cx="217.3" cy="603.1" r="2.5" fill="url(#bubl)" stroke="#3c3c88" stroke-width="0.6"/>
<rect x="234.19" y="602.36" width="1.5" height="1.5" fill="#48486e"/>
<circle cx="252.6" cy="603.1" r="2.0" fill="url(#bubl)" stroke="#3c3c88" stroke-width="0.6"/>
<rect x="269.51" y="602.36" width="1.5" height="1.5" fill="#48486e"/>
<rect x="287.17" y="602.36" width="1.5" height="1.5" fill="#48486e"/>
<rect x="304.83" y="602.36" width="1.5" height="1.5" fill="#48486e"/>
<rect x="322.49" y="602.36" width="1.5" height="1.5" fill="#48486e"/>
<rect x="340.15" y="602.36" width="1.5" height="1.5" fill="#48486e"/>
<rect x="357.81" y="602.36" width="1.5" height="1.5" fill="#48486e"/>
<rect x="375.47" y="602.36" width="1.5" height="1.5" fill="#48486e"/>
<rect x="393.13" y="602.36" width="1.5" height="1.5" fill="#48486e"/>
<rect x="410.79" y="602.36" width="1.5" height="1.5" fill="#48486e"/>
<rect x="75.25" y="613.05" width="1.5" height="1.5" fill="#48486e"/>
<rect x="92.91" y="613.05" width="1.5" height="1.5" fill="#48486e"/>
<rect x="110.57" y="613.05" width="1.5" height="1.5" fill="#48486e"/>
<circle cx="129.0" cy="613.8" r="1.5" fill="url(#bubl)" stroke="#3c3c88" stroke-width="0.6"/>
<rect x="145.89" y="613.05" width="1.5" height="1.5" fill="#48486e"/>
<rect x="163.55" y="613.05" width="1.5" height="1.5" fill="#48486e"/>
<rect x="181.21" y="613.05" width="1.5" height="1.5" fill="#48486e"/>
<circle cx="199.6" cy="613.8" r="1.5" fill="url(#bubl)" stroke="#3c3c88" stroke-width="0.6"/>
<circle cx="217.3" cy="613.8" r="1.5" fill="url(#bubl)" stroke="#3c3c88" stroke-width="0.6"/>
<rect x="234.19" y="613.05" width="1.5" height="1.5" fill="#48486e"/>
<circle cx="252.6" cy="613.8" r="1.5" fill="url(#bubl)" stroke="#3c3c88" stroke-width="0.6"/>
<rect x="269.51" y="613.05" width="1.5" height="1.5" fill="#48486e"/>
<rect x="287.17" y="613.05" width="1.5" height="1.5" fill="#48486e"/>
<rect x="304.83" y="613.05" width="1.5" height="1.5" fill="#48486e"/>
<rect x="322.49" y="613.05" width="1.5" height="1.5" fill="#48486e"/>
<rect x="340.15" y="613.05" width="1.5" height="1.5" fill="#48486e"/>
<rect x="357.81" y="613.05" width="1.5" height="1.5" fill="#48486e"/>
<rect x="375.47" y="613.05" width="1.5" height="1.5" fill="#48486e"/>
<rect x="393.13" y="613.05" width="1.5" height="1.5" fill="#48486e"/>
<rect x="410.79" y="613.05" width="1.5" height="1.5" fill="#48486e"/>
<rect x="75.25" y="623.74" width="1.5" height="1.5" fill="#48486e"/>
<rect x="92.91" y="623.74" width="1.5" height="1.5" fill="#48486e"/>
<rect x="110.57" y="623.74" width="1.5" height="1.5" fill="#48486e"/>
<circle cx="129.0" cy="624.5" r="2.0" fill="url(#bubl)" stroke="#3c3c88" stroke-width="0.6"/>
<rect x="145.89" y="623.74" width="1.5" height="1.5" fill="#48486e"/>
<rect x="163.55" y="623.74" width="1.5" height="1.5" fill="#48486e"/>
<rect x="181.21" y="623.74" width="1.5" height="1.5" fill="#48486e"/>
<circle cx="199.6" cy="624.5" r="1.5" fill="url(#bubl)" stroke="#3c3c88" stroke-width="0.6"/>
<circle cx="217.3" cy="624.5" r="2.0" fill="url(#bubl)" stroke="#3c3c88" stroke-width="0.6"/>
<rect x="234.19" y="623.74" width="1.5" height="1.5" fill="#48486e"/>
<circle cx="252.6" cy="624.5" r="1.5" fill="url(#bubl)" stroke="#3c3c88" stroke-width="0.6"/>
<rect x="269.51" y="623.74" width="1.5" height="1.5" fill="#48486e"/>
<rect x="287.17" y="623.74" width="1.5" height="1.5" fill="#48486e"/>
<rect x="304.83" y="623.74" width="1.5" height="1.5" fill="#48486e"/>
<circle cx="323.2" cy="624.5" r="1.5" fill="url(#bubl)" stroke="#3c3c88" stroke-width="0.6"/>
<rect x="340.15" y="623.74" width="1.5" height="1.5" fill="#48486e"/>
<rect x="357.81" y="623.74" width="1.5" height="1.5" fill="#48486e"/>
<rect x="375.47" y="623.74" width="1.5" height="1.5" fill="#48486e"/>
<rect x="393.13" y="623.74" width="1.5" height="1.5" fill="#48486e"/>
<rect x="410.79" y="623.74" width="1.5" height="1.5" fill="#48486e"/>
<rect x="75.25" y="634.43" width="1.5" height="1.5" fill="#48486e"/>
<rect x="92.91" y="634.43" width="1.5" height="1.5" fill="#48486e"/>
<rect x="110.57" y="634.43" width="1.5" height="1.5" fill="#48486e"/>
<circle cx="129.0" cy="635.2" r="1.5" fill="url(#bubl)" stroke="#3c3c88" stroke-width="0.6"/>
<rect x="145.89" y="634.43" width="1.5" height="1.5" fill="#48486e"/>
<rect x="163.55" y="634.43" width="1.5" height="1.5" fill="#48486e"/>
<rect x="181.21" y="634.43" width="1.5" height="1.5" fill="#48486e"/>
<circle cx="199.6" cy="635.2" r="1.5" fill="url(#bubl)" stroke="#3c3c88" stroke-width="0.6"/>
<circle cx="217.3" cy="635.2" r="1.5" fill="url(#bubl)" stroke="#3c3c88" stroke-width="0.6"/>
<rect x="234.19" y="634.43" width="1.5" height="1.5" fill="#48486e"/>
<rect x="251.85" y="634.43" width="1.5" height="1.5" fill="#48486e"/>
<rect x="269.51" y="634.43" width="1.5" height="1.5" fill="#48486e"/>
<rect x="287.17" y="634.43" width="1.5" height="1.5" fill="#48486e"/>
<rect x="304.83" y="634.43" width="1.5" height="1.5" fill="#48486e"/>
<rect x="322.49" y="634.43" width="1.5" height="1.5" fill="#48486e"/>
<rect x="340.15" y="634.43" width="1.5" height="1.5" fill="#48486e"/>
<rect x="357.81" y="634.43" width="1.5" height="1.5" fill="#48486e"/>
<rect x="375.47" y="634.43" width="1.5" height="1.5" fill="#48486e"/>
<rect x="393.13" y="634.43" width="1.5" height="1.5" fill="#48486e"/>
<rect x="410.79" y="634.43" width="1.5" height="1.5" fill="#48486e"/>
<rect x="75.25" y="645.12" width="1.5" height="1.5" fill="#48486e"/>
<rect x="92.91" y="645.12" width="1.5" height="1.5" fill="#48486e"/>
<rect x="110.57" y="645.12" width="1.5" height="1.5" fill="#48486e"/>
<rect x="128.23" y="645.12" width="1.5" height="1.5" fill="#48486e"/>
<rect x="145.89" y="645.12" width="1.5" height="1.5" fill="#48486e"/>
<rect x="163.55" y="645.12" width="1.5" height="1.5" fill="#48486e"/>
<rect x="181.21" y="645.12" width="1.5" height="1.5" fill="#48486e"/>
<circle cx="199.6" cy="645.9" r="2.0" fill="url(#bubl)" stroke="#3c3c88" stroke-width="0.6"/>
<rect x="216.53" y="645.12" width="1.5" height="1.5" fill="#48486e"/>
<rect x="234.19" y="645.12" width="1.5" height="1.5" fill="#48486e"/>
<rect x="251.85" y="645.12" width="1.5" height="1.5" fill="#48486e"/>
<rect x="269.51" y="645.12" width="1.5" height="1.5" fill="#48486e"/>
<rect x="287.17" y="645.12" width="1.5" height="1.5" fill="#48486e"/>
<rect x="304.83" y="645.12" width="1.5" height="1.5" fill="#48486e"/>
<rect x="322.49" y="645.12" width="1.5" height="1.5" fill="#48486e"/>
<rect x="340.15" y="645.12" width="1.5" height="1.5" fill="#48486e"/>
<rect x="357.81" y="645.12" width="1.5" height="1.5" fill="#48486e"/>
<rect x="375.47" y="645.12" width="1.5" height="1.5" fill="#48486e"/>
<rect x="393.13" y="645.12" width="1.5" height="1.5" fill="#48486e"/>
<rect x="410.79" y="645.12" width="1.5" height="1.5" fill="#48486e"/>
<rect x="75.25" y="655.81" width="1.5" height="1.5" fill="#48486e"/>
<rect x="92.91" y="655.81" width="1.5" height="1.5" fill="#48486e"/>
<rect x="110.57" y="655.81" width="1.5" height="1.5" fill="#48486e"/>
<circle cx="129.0" cy="656.6" r="2.0" fill="url(#bubl)" stroke="#3c3c88" stroke-width="0.6"/>
<rect x="145.89" y="655.81" width="1.5" height="1.5" fill="#48486e"/>
<rect x="163.55" y="655.81" width="1.5" height="1.5" fill="#48486e"/>
<rect x="181.21" y="655.81" width="1.5" height="1.5" fill="#48486e"/>
<circle cx="199.6" cy="656.6" r="2.0" fill="url(#bubl)" stroke="#3c3c88" stroke-width="0.6"/>
<circle cx="217.3" cy="656.6" r="2.0" fill="url(#bubl)" stroke="#3c3c88" stroke-width="0.6"/>
<rect x="234.19" y="655.81" width="1.5" height="1.5" fill="#48486e"/>
<rect x="251.85" y="655.81" width="1.5" height="1.5" fill="#48486e"/>
<rect x="269.51" y="655.81" width="1.5" height="1.5" fill="#48486e"/>
<rect x="287.17" y="655.81" width="1.5" height="1.5" fill="#48486e"/>
<rect x="304.83" y="655.81" width="1.5" height="1.5" fill="#48486e"/>
<circle cx="323.2" cy="656.6" r="1.5" fill="url(#bubl)" stroke="#3c3c88" stroke-width="0.6"/>
<circle cx="340.9" cy="656.6" r="1.5" fill="url(#bubl)" stroke="#3c3c88" stroke-width="0.6"/>
<rect x="357.81" y="655.81" width="1.5" height="1.5" fill="#48486e"/>
<rect x="375.47" y="655.81" width="1.5" height="1.5" fill="#48486e"/>
<rect x="393.13" y="655.81" width="1.5" height="1.5" fill="#48486e"/>
<rect x="410.79" y="655.81" width="1.5" height="1.5" fill="#48486e"/>
<rect x="75.25" y="666.50" width="1.5" height="1.5" fill="#48486e"/>
<rect x="92.91" y="666.50" width="1.5" height="1.5" fill="#48486e"/>
<rect x="110.57" y="666.50" width="1.5" height="1.5" fill="#48486e"/>
<circle cx="129.0" cy="667.2" r="2.0" fill="url(#bubl)" stroke="#3c3c88" stroke-width="0.6"/>
<rect x="145.89" y="666.50" width="1.5" height="1.5" fill="#48486e"/>
<rect x="163.55" y="666.50" width="1.5" height="1.5" fill="#48486e"/>
<rect x="181.21" y="666.50" width="1.5" height="1.5" fill="#48486e"/>
<circle cx="199.6" cy="667.2" r="2.0" fill="url(#bubl)" stroke="#3c3c88" stroke-width="0.6"/>
<circle cx="217.3" cy="667.2" r="2.0" fill="url(#bubl)" stroke="#3c3c88" stroke-width="0.6"/>
<rect x="234.19" y="666.50" width="1.5" height="1.5" fill="#48486e"/>
<rect x="251.85" y="666.50" width="1.5" height="1.5" fill="#48486e"/>
<rect x="269.51" y="666.50" width="1.5" height="1.5" fill="#48486e"/>
<rect x="287.17" y="666.50" width="1.5" height="1.5" fill="#48486e"/>
<rect x="304.83" y="666.50" width="1.5" height="1.5" fill="#48486e"/>
<circle cx="323.2" cy="667.2" r="1.5" fill="url(#bubl)" stroke="#3c3c88" stroke-width="0.6"/>
<circle cx="340.9" cy="667.2" r="1.5" fill="url(#bubl)" stroke="#3c3c88" stroke-width="0.6"/>
<rect x="357.81" y="666.50" width="1.5" height="1.5" fill="#48486e"/>
<rect x="375.47" y="666.50" width="1.5" height="1.5" fill="#48486e"/>
<rect x="393.13" y="666.50" width="1.5" height="1.5" fill="#48486e"/>
<rect x="410.79" y="666.50" width="1.5" height="1.5" fill="#48486e"/>
<rect x="75.25" y="677.19" width="1.5" height="1.5" fill="#48486e"/>
<rect x="92.91" y="677.19" width="1.5" height="1.5" fill="#48486e"/>
<rect x="110.57" y="677.19" width="1.5" height="1.5" fill="#48486e"/>
<circle cx="129.0" cy="677.9" r="2.0" fill="url(#bubl)" stroke="#3c3c88" stroke-width="0.6"/>
<rect x="145.89" y="677.19" width="1.5" height="1.5" fill="#48486e"/>
<rect x="163.55" y="677.19" width="1.5" height="1.5" fill="#48486e"/>
<rect x="181.21" y="677.19" width="1.5" height="1.5" fill="#48486e"/>
<rect x="198.87" y="677.19" width="1.5" height="1.5" fill="#48486e"/>
<rect x="216.53" y="677.19" width="1.5" height="1.5" fill="#48486e"/>
<rect x="234.19" y="677.19" width="1.5" height="1.5" fill="#48486e"/>
<circle cx="252.6" cy="677.9" r="2.0" fill="url(#bubl)" stroke="#3c3c88" stroke-width="0.6"/>
<rect x="269.51" y="677.19" width="1.5" height="1.5" fill="#48486e"/>
<rect x="287.17" y="677.19" width="1.5" height="1.5" fill="#48486e"/>
<rect x="304.83" y="677.19" width="1.5" height="1.5" fill="#48486e"/>
<rect x="322.49" y="677.19" width="1.5" height="1.5" fill="#48486e"/>
<rect x="340.15" y="677.19" width="1.5" height="1.5" fill="#48486e"/>
<rect x="357.81" y="677.19" width="1.5" height="1.5" fill="#48486e"/>
<rect x="375.47" y="677.19" width="1.5" height="1.5" fill="#48486e"/>
<rect x="393.13" y="677.19" width="1.5" height="1.5" fill="#48486e"/>
<rect x="410.79" y="677.19" width="1.5" height="1.5" fill="#48486e"/>
<rect x="75.25" y="687.88" width="1.5" height="1.5" fill="#48486e"/>
<rect x="92.91" y="687.88" width="1.5" height="1.5" fill="#48486e"/>
<rect x="110.57" y="687.88" width="1.5" height="1.5" fill="#48486e"/>
<rect x="128.23" y="687.88" width="1.5" height="1.5" fill="#48486e"/>
<rect x="145.89" y="687.88" width="1.5" height="1.5" fill="#48486e"/>
<rect x="163.55" y="687.88" width="1.5" height="1.5" fill="#48486e"/>
<rect x="181.21" y="687.88" width="1.5" height="1.5" fill="#48486e"/>
<rect x="198.87" y="687.88" width="1.5" height="1.5" fill="#48486e"/>
<rect x="216.53" y="687.88" width="1.5" height="1.5" fill="#48486e"/>
<rect x="234.19" y="687.88" width="1.5" height="1.5" fill="#48486e"/>
<rect x="251.85" y="687.88" width="1.5" height="1.5" fill="#48486e"/>
<rect x="269.51" y="687.88" width="1.5" height="1.5" fill="#48486e"/>
<rect x="287.17" y="687.88" width="1.5" height="1.5" fill="#48486e"/>
<rect x="304.83" y="687.88" width="1.5" height="1.5" fill="#48486e"/>
<rect x="322.49" y="687.88" width="1.5" height="1.5" fill="#48486e"/>
<rect x="340.15" y="687.88" width="1.5" height="1.5" fill="#48486e"/>
<rect x="357.81" y="687.88" width="1.5" height="1.5" fill="#48486e"/>
<rect x="375.47" y="687.88" width="1.5" height="1.5" fill="#48486e"/>
<rect x="393.13" y="687.88" width="1.5" height="1.5" fill="#48486e"/>
<rect x="410.79" y="687.88" width="1.5" height="1.5" fill="#48486e"/>
<rect x="75.25" y="698.57" width="1.5" height="1.5" fill="#48486e"/>
<rect x="92.91" y="698.57" width="1.5" height="1.5" fill="#48486e"/>
<rect x="110.57" y="698.57" width="1.5" height="1.5" fill="#48486e"/>
<rect x="128.23" y="698.57" width="1.5" height="1.5" fill="#48486e"/>
<rect x="145.89" y="698.57" width="1.5" height="1.5" fill="#48486e"/>
<rect x="163.55" y="698.57" width="1.5" height="1.5" fill="#48486e"/>
<rect x="181.21" y="698.57" width="1.5" height="1.5" fill="#48486e"/>
<rect x="198.87" y="698.57" width="1.5" height="1.5" fill="#48486e"/>
<rect x="216.53" y="698.57" width="1.5" height="1.5" fill="#48486e"/>
<rect x="234.19" y="698.57" width="1.5" height="1.5" fill="#48486e"/>
<rect x="251.85" y="698.57" width="1.5" height="1.5" fill="#48486e"/>
<rect x="269.51" y="698.57" width="1.5" height="1.5" fill="#48486e"/>
<rect x="287.17" y="698.57" width="1.5" height="1.5" fill="#48486e"/>
<rect x="304.83" y="698.57" width="1.5" height="1.5" fill="#48486e"/>
<rect x="322.49" y="698.57" width="1.5" height="1.5" fill="#48486e"/>
<rect x="340.15" y="698.57" width="1.5" height="1.5" fill="#48486e"/>
<rect x="357.81" y="698.57" width="1.5" height="1.5" fill="#48486e"/>
<rect x="375.47" y="698.57" width="1.5" height="1.5" fill="#48486e"/>
<rect x="393.13" y="698.57" width="1.5" height="1.5" fill="#48486e"/>
<rect x="410.79" y="698.57" width="1.5" height="1.5" fill="#48486e"/>
<rect x="75.25" y="709.26" width="1.5" height="1.5" fill="#48486e"/>
<rect x="92.91" y="709.26" width="1.5" height="1.5" fill="#48486e"/>
<rect x="110.57" y="709.26" width="1.5" height="1.5" fill="#48486e"/>
<rect x="128.23" y="709.26" width="1.5" height="1.5" fill="#48486e"/>
<rect x="145.89" y="709.26" width="1.5" height="1.5" fill="#48486e"/>
<rect x="163.55" y="709.26" width="1.5" height="1.5" fill="#48486e"/>
<rect x="181.21" y="709.26" width="1.5" height="1.5" fill="#48486e"/>
<rect x="198.87" y="709.26" width="1.5" height="1.5" fill="#48486e"/>
<rect x="216.53" y="709.26" width="1.5" height="1.5" fill="#48486e"/>
<rect x="234.19" y="709.26" width="1.5" height="1.5" fill="#48486e"/>
<rect x="251.85" y="709.26" width="1.5" height="1.5" fill="#48486e"/>
<rect x="269.51" y="709.26" width="1.5" height="1.5" fill="#48486e"/>
<rect x="287.17" y="709.26" width="1.5" height="1.5" fill="#48486e"/>
<rect x="304.83" y="709.26" width="1.5" height="1.5" fill="#48486e"/>
<rect x="322.49" y="709.26" width="1.5" height="1.5" fill="#48486e"/>
<rect x="340.15" y="709.26" width="1.5" height="1.5" fill="#48486e"/>
<rect x="357.81" y="709.26" width="1.5" height="1.5" fill="#48486e"/>
<rect x="375.47" y="709.26" width="1.5" height="1.5" fill="#48486e"/>
<rect x="393.13" y="709.26" width="1.5" height="1.5" fill="#48486e"/>
<rect x="410.79" y="709.26" width="1.5" height="1.5" fill="#48486e"/>
<rect x="75.25" y="719.95" width="1.5" height="1.5" fill="#48486e"/>
<rect x="92.91" y="719.95" width="1.5" height="1.5" fill="#48486e"/>
<rect x="110.57" y="719.95" width="1.5" height="1.5" fill="#48486e"/>
<rect x="128.23" y="719.95" width="1.5" height="1.5" fill="#48486e"/>
<rect x="145.89" y="719.95" width="1.5" height="1.5" fill="#48486e"/>
<rect x="163.55" y="719.95" width="1.5" height="1.5" fill="#48486e"/>
<rect x="181.21" y="719.95" width="1.5" height="1.5" fill="#48486e"/>
<rect x="198.87" y="719.95" width="1.5" height="1.5" fill="#48486e"/>
<rect x="216.53" y="719.95" width="1.5" height="1.5" fill="#48486e"/>
<rect x="234.19" y="719.95" width="1.5" height="1.5" fill="#48486e"/>
<rect x="251.85" y="719.95" width="1.5" height="1.5" fill="#48486e"/>
<rect x="269.51" y="719.95" width="1.5" height="1.5" fill="#48486e"/>
<rect x="287.17" y="719.95" width="1.5" height="1.5" fill="#48486e"/>
<rect x="304.83" y="719.95" width="1.5" height="1.5" fill="#48486e"/>
<rect x="322.49" y="719.95" width="1.5" height="1.5" fill="#48486e"/>
<rect x="340.15" y="719.95" width="1.5" height="1.5" fill="#48486e"/>
<rect x="357.81" y="719.95" width="1.5" height="1.5" fill="#48486e"/>
<rect x="375.47" y="719.95" width="1.5" height="1.5" fill="#48486e"/>
<rect x="393.13" y="719.95" width="1.5" height="1.5" fill="#48486e"/>
<rect x="410.79" y="719.95" width="1.5" height="1.5" fill="#48486e"/>
<rect x="75.25" y="730.64" width="1.5" height="1.5" fill="#48486e"/>
<rect x="92.91" y="730.64" width="1.5" height="1.5" fill="#48486e"/>
<rect x="110.57" y="730.64" width="1.5" height="1.5" fill="#48486e"/>
<circle cx="129.0" cy="731.4" r="1.5" fill="url(#bubl)" stroke="#3c3c88" stroke-width="0.6"/>
<rect x="145.89" y="730.64" width="1.5" height="1.5" fill="#48486e"/>
<rect x="163.55" y="730.64" width="1.5" height="1.5" fill="#48486e"/>
<rect x="181.21" y="730.64" width="1.5" height="1.5" fill="#48486e"/>
<circle cx="199.6" cy="731.4" r="1.5" fill="url(#bubl)" stroke="#3c3c88" stroke-width="0.6"/>
<rect x="216.53" y="730.64" width="1.5" height="1.5" fill="#48486e"/>
<rect x="234.19" y="730.64" width="1.5" height="1.5" fill="#48486e"/>
<rect x="251.85" y="730.64" width="1.5" height="1.5" fill="#48486e"/>
<rect x="269.51" y="730.64" width="1.5" height="1.5" fill="#48486e"/>
<rect x="287.17" y="730.64" width="1.5" height="1.5" fill="#48486e"/>
<rect x="304.83" y="730.64" width="1.5" height="1.5" fill="#48486e"/>
<rect x="322.49" y="730.64" width="1.5" height="1.5" fill="#48486e"/>
<rect x="340.15" y="730.64" width="1.5" height="1.5" fill="#48486e"/>
<rect x="357.81" y="730.64" width="1.5" height="1.5" fill="#48486e"/>
<rect x="375.47" y="730.64" width="1.5" height="1.5" fill="#48486e"/>
<rect x="393.13" y="730.64" width="1.5" height="1.5" fill="#48486e"/>
<rect x="410.79" y="730.64" width="1.5" height="1.5" fill="#48486e"/>
<rect x="75.25" y="741.33" width="1.5" height="1.5" fill="#48486e"/>
<rect x="92.91" y="741.33" width="1.5" height="1.5" fill="#48486e"/>
<rect x="110.57" y="741.33" width="1.5" height="1.5" fill="#48486e"/>
<rect x="128.23" y="741.33" width="1.5" height="1.5" fill="#48486e"/>
<rect x="145.89" y="741.33" width="1.5" height="1.5" fill="#48486e"/>
<rect x="163.55" y="741.33" width="1.5" height="1.5" fill="#48486e"/>
<rect x="181.21" y="741.33" width="1.5" height="1.5" fill="#48486e"/>
<rect x="198.87" y="741.33" width="1.5" height="1.5" fill="#48486e"/>
<rect x="216.53" y="741.33" width="1.5" height="1.5" fill="#48486e"/>
<rect x="234.19" y="741.33" width="1.5" height="1.5" fill="#48486e"/>
<rect x="251.85" y="741.33" width="1.5" height="1.5" fill="#48486e"/>
<rect x="269.51" y="741.33" width="1.5" height="1.5" fill="#48486e"/>
<rect x="287.17" y="741.33" width="1.5" height="1.5" fill="#48486e"/>
<rect x="304.83" y="741.33" width="1.5" height="1.5" fill="#48486e"/>
<rect x="322.49" y="741.33" width="1.5" height="1.5" fill="#48486e"/>
<rect x="340.15" y="741.33" width="1.5" height="1.5" fill="#48486e"/>
<rect x="357.81" y="741.33" width="1.5" height="1.5" fill="#48486e"/>
<rect x="375.47" y="741.33" width="1.5" height="1.5" fill="#48486e"/>
<rect x="393.13" y="741.33" width="1.5" height="1.5" fill="#48486e"/>
<rect x="410.79" y="741.33" width="1.5" height="1.5" fill="#48486e"/>
<rect x="75.25" y="752.02" width="1.5" height="1.5" fill="#48486e"/>
<rect x="92.91" y="752.02" width="1.5" height="1.5" fill="#48486e"/>
<rect x="110.57" y="752.02" width="1.5" height="1.5" fill="#48486e"/>
<rect x="128.23" y="752.02" width="1.5" height="1.5" fill="#48486e"/>
<rect x="145.89" y="752.02" width="1.5" height="1.5" fill="#48486e"/>
<rect x="163.55" y="752.02" width="1.5" height="1.5" fill="#48486e"/>
<rect x="181.21" y="752.02" width="1.5" height="1.5" fill="#48486e"/>
<rect x="198.87" y="752.02" width="1.5" height="1.5" fill="#48486e"/>
<rect x="216.53" y="752.02" width="1.5" height="1.5" fill="#48486e"/>
<rect x="234.19" y="752.02" width="1.5" height="1.5" fill="#48486e"/>
<rect x="251.85" y="752.02" width="1.5" height="1.5" fill="#48486e"/>
<rect x="269.51" y="752.02" width="1.5" height="1.5" fill="#48486e"/>
<rect x="287.17" y="752.02" width="1.5" height="1.5" fill="#48486e"/>
<rect x="304.83" y="752.02" width="1.5" height="1.5" fill="#48486e"/>
<rect x="322.49" y="752.02" width="1.5" height="1.5" fill="#48486e"/>
<rect x="340.15" y="752.02" width="1.5" height="1.5" fill="#48486e"/>
<rect x="357.81" y="752.02" width="1.5" height="1.5" fill="#48486e"/>
<rect x="375.47" y="752.02" width="1.5" height="1.5" fill="#48486e"/>
<rect x="393.13" y="752.02" width="1.5" height="1.5" fill="#48486e"/>
<rect x="410.79" y="752.02" width="1.5" height="1.5" fill="#48486e"/>
<rect x="75.25" y="762.71" width="1.5" height="1.5" fill="#48486e"/>
<rect x="92.91" y="762.71" width="1.5" height="1.5" fill="#48486e"/>
<rect x="110.57" y="762.71" width="1.5" height="1.5" fill="#48486e"/>
<rect x="128.23" y="762.71" width="1.5" height="1.5" fill="#48486e"/>
<rect x="145.89" y="762.71" width="1.5" height="1.5" fill="#48486e"/>
<rect x="163.55" y="762.71" width="1.5" height="1.5" fill="#48486e"/>
<rect x="181.21" y="762.71" width="1.5" height="1.5" fill="#48486e"/>
<circle cx="199.6" cy="763.5" r="1.5" fill="url(#bubl)" stroke="#3c3c88" stroke-width="0.6"/>
<rect x="216.53" y="762.71" width="1.5" height="1.5" fill="#48486e"/>
<rect x="234.19" y="762.71" width="1.5" height="1.5" fill="#48486e"/>
<rect x="251.85" y="762.71" width="1.5" height="1.5" fill="#48486e"/>
<rect x="269.51" y="762.71" width="1.5" height="1.5" fill="#48486e"/>
<rect x="287.17" y="762.71" width="1.5" height="1.5" fill="#48486e"/>
<rect x="304.83" y="762.71" width="1.5" height="1.5" fill="#48486e"/>
<rect x="322.49" y="762.71" width="1.5" height="1.5" fill="#48486e"/>
<rect x="340.15" y="762.71" width="1.5" height="1.5" fill="#48486e"/>
<rect x="357.81" y="762.71" width="1.5" height="1.5" fill="#48486e"/>
<rect x="375.47" y="762.71" width="1.5" height="1.5" fill="#48486e"/>
<rect x="393.13" y="762.71" width="1.5" height="1.5" fill="#48486e"/>
<rect x="410.79" y="762.71" width="1.5" height="1.5" fill="#48486e"/>
<rect x="365" y="894.7" width="60.60000000000002" height="290.79999999999995" fill="#c6c6c6" stroke="none" stroke-width="1" />
<line x1="103.50" y1="894.70" x2="103.50" y2="1185.50" stroke="#a8a8b0" stroke-width="1" stroke-dasharray="2,1.5"/>
<line x1="134.50" y1="894.70" x2="134.50" y2="1185.50" stroke="#a8a8b0" stroke-width="1" stroke-dasharray="2,1.5"/>
<line x1="165.50" y1="894.70" x2="165.50" y2="1185.50" stroke="#a8a8b0" stroke-width="1" stroke-dasharray="2,1.5"/>
<line x1="195.50" y1="894.70" x2="195.50" y2="1185.50" stroke="#a8a8b0" stroke-width="1" stroke-dasharray="2,1.5"/>
<line x1="226.50" y1="894.70" x2="226.50" y2="1185.50" stroke="#a8a8b0" stroke-width="1" stroke-dasharray="2,1.5"/>
<line x1="257.50" y1="894.70" x2="257.50" y2="1185.50" stroke="#a8a8b0" stroke-width="1" stroke-dasharray="2,1.5"/>
<line x1="288.50" y1="894.70" x2="288.50" y2="1185.50" stroke="#a8a8b0" stroke-width="1" stroke-dasharray="2,1.5"/>
<line x1="319.50" y1="894.70" x2="319.50" y2="1185.50" stroke="#a8a8b0" stroke-width="1" stroke-dasharray="2,1.5"/>
<line x1="349.50" y1="894.70" x2="349.50" y2="1185.50" stroke="#a8a8b0" stroke-width="1" stroke-dasharray="2,1.5"/>
<line x1="380.50" y1="894.70" x2="380.50" y2="1185.50" stroke="#707070" stroke-width="1" stroke-dasharray="2,1.5"/>
<line x1="411.50" y1="894.70" x2="411.50" y2="1185.50" stroke="#707070" stroke-width="1" stroke-dasharray="2,1.5"/>
<line x1="87.50" y1="898.50" x2="425.60" y2="898.50" stroke="#a0a0a0" stroke-width="1" stroke-dasharray="2,1"/>
<line x1="87.50" y1="903.50" x2="425.60" y2="903.50" stroke="#a0a0a0" stroke-width="1" stroke-dasharray="2,1"/>
<line x1="87.50" y1="909.50" x2="425.60" y2="909.50" stroke="#a0a0a0" stroke-width="1" stroke-dasharray="2,1"/>
<line x1="87.50" y1="915.50" x2="425.60" y2="915.50" stroke="#a0a0a0" stroke-width="1" stroke-dasharray="2,1"/>
<line x1="87.50" y1="921.50" x2="425.60" y2="921.50" stroke="#a0a0a0" stroke-width="1" stroke-dasharray="2,1"/>
<line x1="87.50" y1="927.50" x2="425.60" y2="927.50" stroke="#a0a0a0" stroke-width="1" stroke-dasharray="2,1"/>
<line x1="87.50" y1="932.50" x2="425.60" y2="932.50" stroke="#a0a0a0" stroke-width="1" stroke-dasharray="2,1"/>
<line x1="87.50" y1="938.50" x2="425.60" y2="938.50" stroke="#a0a0a0" stroke-width="1" stroke-dasharray="2,1"/>
<line x1="87.50" y1="944.50" x2="425.60" y2="944.50" stroke="#a0a0a0" stroke-width="1" stroke-dasharray="2,1"/>
<line x1="87.50" y1="950.50" x2="425.60" y2="950.50" stroke="#a0a0a0" stroke-width="1" stroke-dasharray="2,1"/>
<line x1="87.50" y1="956.50" x2="425.60" y2="956.50" stroke="#a0a0a0" stroke-width="1" stroke-dasharray="2,1"/>
<line x1="87.50" y1="962.50" x2="425.60" y2="962.50" stroke="#a0a0a0" stroke-width="1" stroke-dasharray="2,1"/>
<line x1="87.50" y1="967.50" x2="425.60" y2="967.50" stroke="#a0a0a0" stroke-width="1" stroke-dasharray="2,1"/>
<line x1="87.50" y1="973.50" x2="425.60" y2="973.50" stroke="#a0a0a0" stroke-width="1" stroke-dasharray="2,1"/>
<line x1="87.50" y1="979.50" x2="425.60" y2="979.50" stroke="#a0a0a0" stroke-width="1" stroke-dasharray="2,1"/>
<line x1="87.50" y1="985.50" x2="425.60" y2="985.50" stroke="#a0a0a0" stroke-width="1" stroke-dasharray="2,1"/>
<line x1="87.50" y1="991.50" x2="425.60" y2="991.50" stroke="#a0a0a0" stroke-width="1" stroke-dasharray="2,1"/>
<line x1="87.50" y1="997.50" x2="425.60" y2="997.50" stroke="#a0a0a0" stroke-width="1" stroke-dasharray="2,1"/>
<line x1="87.50" y1="1002.50" x2="425.60" y2="1002.50" stroke="#a0a0a0" stroke-width="1" stroke-dasharray="2,1"/>
<line x1="87.50" y1="1008.50" x2="425.60" y2="1008.50" stroke="#a0a0a0" stroke-width="1" stroke-dasharray="2,1"/>
<line x1="87.50" y1="1014.50" x2="425.60" y2="1014.50" stroke="#a0a0a0" stroke-width="1" stroke-dasharray="2,1"/>
<line x1="87.50" y1="1020.50" x2="425.60" y2="1020.50" stroke="#a0a0a0" stroke-width="1" stroke-dasharray="2,1"/>
<line x1="87.50" y1="1026.50" x2="425.60" y2="1026.50" stroke="#a0a0a0" stroke-width="1" stroke-dasharray="2,1"/>
<line x1="87.50" y1="1032.50" x2="425.60" y2="1032.50" stroke="#a0a0a0" stroke-width="1" stroke-dasharray="2,1"/>
<line x1="87.50" y1="1037.50" x2="425.60" y2="1037.50" stroke="#a0a0a0" stroke-width="1" stroke-dasharray="2,1"/>
<line x1="87.50" y1="1043.50" x2="425.60" y2="1043.50" stroke="#a0a0a0" stroke-width="1" stroke-dasharray="2,1"/>
<line x1="87.50" y1="1049.50" x2="425.60" y2="1049.50" stroke="#a0a0a0" stroke-width="1" stroke-dasharray="2,1"/>
<line x1="87.50" y1="1055.50" x2="425.60" y2="1055.50" stroke="#a0a0a0" stroke-width="1" stroke-dasharray="2,1"/>
<line x1="87.50" y1="1061.50" x2="425.60" y2="1061.50" stroke="#a0a0a0" stroke-width="1" stroke-dasharray="2,1"/>
<line x1="87.50" y1="1067.50" x2="425.60" y2="1067.50" stroke="#a0a0a0" stroke-width="1" stroke-dasharray="2,1"/>
<line x1="87.50" y1="1072.50" x2="425.60" y2="1072.50" stroke="#a0a0a0" stroke-width="1" stroke-dasharray="2,1"/>
<line x1="87.50" y1="1078.50" x2="425.60" y2="1078.50" stroke="#a0a0a0" stroke-width="1" stroke-dasharray="2,1"/>
<line x1="87.50" y1="1084.50" x2="425.60" y2="1084.50" stroke="#a0a0a0" stroke-width="1" stroke-dasharray="2,1"/>
<line x1="87.50" y1="1090.50" x2="425.60" y2="1090.50" stroke="#a0a0a0" stroke-width="1" stroke-dasharray="2,1"/>
<line x1="87.50" y1="1096.50" x2="425.60" y2="1096.50" stroke="#a0a0a0" stroke-width="1" stroke-dasharray="2,1"/>
<line x1="87.50" y1="1102.50" x2="425.60" y2="1102.50" stroke="#a0a0a0" stroke-width="1" stroke-dasharray="2,1"/>
<line x1="87.50" y1="1107.50" x2="425.60" y2="1107.50" stroke="#a0a0a0" stroke-width="1" stroke-dasharray="2,1"/>
<line x1="87.50" y1="1113.50" x2="425.60" y2="1113.50" stroke="#a0a0a0" stroke-width="1" stroke-dasharray="2,1"/>
<line x1="87.50" y1="1119.50" x2="425.60" y2="1119.50" stroke="#a0a0a0" stroke-width="1" stroke-dasharray="2,1"/>
<line x1="87.50" y1="1125.50" x2="425.60" y2="1125.50" stroke="#a0a0a0" stroke-width="1" stroke-dasharray="2,1"/>
<line x1="87.50" y1="1131.50" x2="425.60" y2="1131.50" stroke="#a0a0a0" stroke-width="1" stroke-dasharray="2,1"/>
<line x1="87.50" y1="1137.50" x2="425.60" y2="1137.50" stroke="#a0a0a0" stroke-width="1" stroke-dasharray="2,1"/>
<line x1="87.50" y1="1142.50" x2="425.60" y2="1142.50" stroke="#a0a0a0" stroke-width="1" stroke-dasharray="2,1"/>
<line x1="87.50" y1="1148.50" x2="425.60" y2="1148.50" stroke="#a0a0a0" stroke-width="1" stroke-dasharray="2,1"/>
<line x1="87.50" y1="1154.50" x2="425.60" y2="1154.50" stroke="#a0a0a0" stroke-width="1" stroke-dasharray="2,1"/>
<line x1="87.50" y1="1160.50" x2="425.60" y2="1160.50" stroke="#a0a0a0" stroke-width="1" stroke-dasharray="2,1"/>
<line x1="87.50" y1="1166.50" x2="425.60" y2="1166.50" stroke="#a0a0a0" stroke-width="1" stroke-dasharray="2,1"/>
<line x1="87.50" y1="1172.50" x2="425.60" y2="1172.50" stroke="#a0a0a0" stroke-width="1" stroke-dasharray="2,1"/>
<line x1="87.50" y1="1177.50" x2="425.60" y2="1177.50" stroke="#a0a0a0" stroke-width="1" stroke-dasharray="2,1"/>
<line x1="87.50" y1="1183.50" x2="425.60" y2="1183.50" stroke="#a0a0a0" stroke-width="1" stroke-dasharray="2,1"/>
<line x1="87.50" y1="894.70" x2="425.60" y2="894.70" stroke="#8a8a8a" stroke-width="1" />
<line x1="425.60" y1="894.70" x2="425.60" y2="1185.50" stroke="#7a7a7a" stroke-width="1" />
<line x1="87.50" y1="894.20" x2="87.50" y2="1186.00" stroke="#000" stroke-width="1.5" />
<line x1="87.50" y1="1185.50" x2="426.10" y2="1185.50" stroke="#000" stroke-width="1.5" />
<line x1="84.50" y1="898.50" x2="87.50" y2="898.50" stroke="#000" stroke-width="1" />
<line x1="84.50" y1="903.50" x2="87.50" y2="903.50" stroke="#000" stroke-width="1" />
<line x1="84.50" y1="909.50" x2="87.50" y2="909.50" stroke="#000" stroke-width="1" />
<line x1="84.50" y1="915.50" x2="87.50" y2="915.50" stroke="#000" stroke-width="1" />
<line x1="84.50" y1="921.50" x2="87.50" y2="921.50" stroke="#000" stroke-width="1" />
<line x1="84.50" y1="927.50" x2="87.50" y2="927.50" stroke="#000" stroke-width="1" />
<line x1="84.50" y1="932.50" x2="87.50" y2="932.50" stroke="#000" stroke-width="1" />
<line x1="84.50" y1="938.50" x2="87.50" y2="938.50" stroke="#000" stroke-width="1" />
<line x1="84.50" y1="944.50" x2="87.50" y2="944.50" stroke="#000" stroke-width="1" />
<line x1="84.50" y1="950.50" x2="87.50" y2="950.50" stroke="#000" stroke-width="1" />
<line x1="84.50" y1="956.50" x2="87.50" y2="956.50" stroke="#000" stroke-width="1" />
<line x1="84.50" y1="962.50" x2="87.50" y2="962.50" stroke="#000" stroke-width="1" />
<line x1="84.50" y1="967.50" x2="87.50" y2="967.50" stroke="#000" stroke-width="1" />
<line x1="84.50" y1="973.50" x2="87.50" y2="973.50" stroke="#000" stroke-width="1" />
<line x1="84.50" y1="979.50" x2="87.50" y2="979.50" stroke="#000" stroke-width="1" />
<line x1="84.50" y1="985.50" x2="87.50" y2="985.50" stroke="#000" stroke-width="1" />
<line x1="84.50" y1="991.50" x2="87.50" y2="991.50" stroke="#000" stroke-width="1" />
<line x1="84.50" y1="997.50" x2="87.50" y2="997.50" stroke="#000" stroke-width="1" />
<line x1="84.50" y1="1002.50" x2="87.50" y2="1002.50" stroke="#000" stroke-width="1" />
<line x1="84.50" y1="1008.50" x2="87.50" y2="1008.50" stroke="#000" stroke-width="1" />
<line x1="84.50" y1="1014.50" x2="87.50" y2="1014.50" stroke="#000" stroke-width="1" />
<line x1="84.50" y1="1020.50" x2="87.50" y2="1020.50" stroke="#000" stroke-width="1" />
<line x1="84.50" y1="1026.50" x2="87.50" y2="1026.50" stroke="#000" stroke-width="1" />
<line x1="84.50" y1="1032.50" x2="87.50" y2="1032.50" stroke="#000" stroke-width="1" />
<line x1="84.50" y1="1037.50" x2="87.50" y2="1037.50" stroke="#000" stroke-width="1" />
<line x1="84.50" y1="1043.50" x2="87.50" y2="1043.50" stroke="#000" stroke-width="1" />
<line x1="84.50" y1="1049.50" x2="87.50" y2="1049.50" stroke="#000" stroke-width="1" />
<line x1="84.50" y1="1055.50" x2="87.50" y2="1055.50" stroke="#000" stroke-width="1" />
<line x1="84.50" y1="1061.50" x2="87.50" y2="1061.50" stroke="#000" stroke-width="1" />
<line x1="84.50" y1="1067.50" x2="87.50" y2="1067.50" stroke="#000" stroke-width="1" />
<line x1="84.50" y1="1072.50" x2="87.50" y2="1072.50" stroke="#000" stroke-width="1" />
<line x1="84.50" y1="1078.50" x2="87.50" y2="1078.50" stroke="#000" stroke-width="1" />
<line x1="84.50" y1="1084.50" x2="87.50" y2="1084.50" stroke="#000" stroke-width="1" />
<line x1="84.50" y1="1090.50" x2="87.50" y2="1090.50" stroke="#000" stroke-width="1" />
<line x1="84.50" y1="1096.50" x2="87.50" y2="1096.50" stroke="#000" stroke-width="1" />
<line x1="84.50" y1="1102.50" x2="87.50" y2="1102.50" stroke="#000" stroke-width="1" />
<line x1="84.50" y1="1107.50" x2="87.50" y2="1107.50" stroke="#000" stroke-width="1" />
<line x1="84.50" y1="1113.50" x2="87.50" y2="1113.50" stroke="#000" stroke-width="1" />
<line x1="84.50" y1="1119.50" x2="87.50" y2="1119.50" stroke="#000" stroke-width="1" />
<line x1="84.50" y1="1125.50" x2="87.50" y2="1125.50" stroke="#000" stroke-width="1" />
<line x1="84.50" y1="1131.50" x2="87.50" y2="1131.50" stroke="#000" stroke-width="1" />
<line x1="84.50" y1="1137.50" x2="87.50" y2="1137.50" stroke="#000" stroke-width="1" />
<line x1="84.50" y1="1142.50" x2="87.50" y2="1142.50" stroke="#000" stroke-width="1" />
<line x1="84.50" y1="1148.50" x2="87.50" y2="1148.50" stroke="#000" stroke-width="1" />
<line x1="84.50" y1="1154.50" x2="87.50" y2="1154.50" stroke="#000" stroke-width="1" />
<line x1="84.50" y1="1160.50" x2="87.50" y2="1160.50" stroke="#000" stroke-width="1" />
<line x1="84.50" y1="1166.50" x2="87.50" y2="1166.50" stroke="#000" stroke-width="1" />
<line x1="84.50" y1="1172.50" x2="87.50" y2="1172.50" stroke="#000" stroke-width="1" />
<line x1="84.50" y1="1177.50" x2="87.50" y2="1177.50" stroke="#000" stroke-width="1" />
<line x1="84.50" y1="1183.50" x2="87.50" y2="1183.50" stroke="#000" stroke-width="1" />
<line x1="103.50" y1="1185.50" x2="103.50" y2="1189.00" stroke="#000" stroke-width="1" />
<text x="0" y="0" font-size="7" fill="#222" transform="translate(102.0,1193.5) rotate(32)" textLength="16" lengthAdjust="spacingAndGlyphs">2015</text>
<line x1="134.50" y1="1185.50" x2="134.50" y2="1189.00" stroke="#000" stroke-width="1" />
<text x="0" y="0" font-size="7" fill="#222" transform="translate(132.8,1193.5) rotate(32)" textLength="16" lengthAdjust="spacingAndGlyphs">2016</text>
<line x1="165.50" y1="1185.50" x2="165.50" y2="1189.00" stroke="#000" stroke-width="1" />
<text x="0" y="0" font-size="7" fill="#222" transform="translate(163.6,1193.5) rotate(32)" textLength="16" lengthAdjust="spacingAndGlyphs">2017</text>
<line x1="195.50" y1="1185.50" x2="195.50" y2="1189.00" stroke="#000" stroke-width="1" />
<text x="0" y="0" font-size="7" fill="#222" transform="translate(194.4,1193.5) rotate(32)" textLength="16" lengthAdjust="spacingAndGlyphs">2018</text>
<line x1="226.50" y1="1185.50" x2="226.50" y2="1189.00" stroke="#000" stroke-width="1" />
<text x="0" y="0" font-size="7" fill="#222" transform="translate(225.2,1193.5) rotate(32)" textLength="16" lengthAdjust="spacingAndGlyphs">2019</text>
<line x1="257.50" y1="1185.50" x2="257.50" y2="1189.00" stroke="#000" stroke-width="1" />
<text x="0" y="0" font-size="7" fill="#222" transform="translate(256.0,1193.5) rotate(32)" textLength="16" lengthAdjust="spacingAndGlyphs">2020</text>
<line x1="288.50" y1="1185.50" x2="288.50" y2="1189.00" stroke="#000" stroke-width="1" />
<text x="0" y="0" font-size="7" fill="#222" transform="translate(286.8,1193.5) rotate(32)" textLength="16" lengthAdjust="spacingAndGlyphs">2021</text>
<line x1="319.50" y1="1185.50" x2="319.50" y2="1189.00" stroke="#000" stroke-width="1" />
<text x="0" y="0" font-size="7" fill="#222" transform="translate(317.6,1193.5) rotate(32)" textLength="16" lengthAdjust="spacingAndGlyphs">2022</text>
<line x1="349.50" y1="1185.50" x2="349.50" y2="1189.00" stroke="#000" stroke-width="1" />
<text x="0" y="0" font-size="7" fill="#222" transform="translate(348.4,1193.5) rotate(32)" textLength="16" lengthAdjust="spacingAndGlyphs">2023</text>
<line x1="380.50" y1="1185.50" x2="380.50" y2="1189.00" stroke="#000" stroke-width="1" />
<text x="0" y="0" font-size="7" fill="#222" transform="translate(379.2,1193.5) rotate(32)" textLength="16" lengthAdjust="spacingAndGlyphs">2024</text>
<line x1="411.50" y1="1185.50" x2="411.50" y2="1189.00" stroke="#000" stroke-width="1" />
<text x="0" y="0" font-size="7" fill="#222" transform="translate(410.0,1193.5) rotate(32)" textLength="16" lengthAdjust="spacingAndGlyphs">2025</text>
<text x="421.0" y="1207.0" font-size="7" text-anchor="middle" font-weight="normal" fill="#222" font-family="'Liberation Sans', sans-serif" textLength="7.0" lengthAdjust="spacingAndGlyphs" >年</text>
<text x="73.0" y="958.1" font-size="6.5" text-anchor="end" font-weight="normal" fill="#000" font-family="'Liberation Sans', sans-serif" textLength="37.0" lengthAdjust="spacingAndGlyphs" stroke="#000" stroke-width="0.15">C09B 57/00</text>
<text x="80.5" y="960.0" font-size="8" text-anchor="middle" font-weight="bold" fill="#111" font-family="'Liberation Sans', sans-serif" textLength="4.0" lengthAdjust="spacingAndGlyphs" >*</text>
<text x="73.0" y="963.9" font-size="6.5" text-anchor="end" font-weight="normal" fill="#000" font-family="'Liberation Sans', sans-serif" textLength="37.0" lengthAdjust="spacingAndGlyphs" stroke="#000" stroke-width="0.15">G03F  7/004</text>
<text x="80.5" y="965.8" font-size="8" text-anchor="middle" font-weight="bold" fill="#111" font-family="'Liberation Sans', sans-serif" textLength="4.0" lengthAdjust="spacingAndGlyphs" >*</text>
<text x="73.0" y="969.8" font-size="6.5" text-anchor="end" font-weight="normal" fill="#000" font-family="'Liberation Sans', sans-serif" textLength="37.0" lengthAdjust="spacingAndGlyphs" stroke="#000" stroke-width="0.15">B32B 27/00</text>
<text x="80.5" y="971.7" font-size="8" text-anchor="middle" font-weight="bold" fill="#111" font-family="'Liberation Sans', sans-serif" textLength="4.0" lengthAdjust="spacingAndGlyphs" >*</text>
<text x="73.0" y="975.6" font-size="6.5" text-anchor="end" font-weight="normal" fill="#000" font-family="'Liberation Sans', sans-serif" textLength="37.0" lengthAdjust="spacingAndGlyphs" stroke="#000" stroke-width="0.15">C08L101/00</text>
<text x="80.5" y="977.5" font-size="8" text-anchor="middle" font-weight="bold" fill="#111" font-family="'Liberation Sans', sans-serif" textLength="4.0" lengthAdjust="spacingAndGlyphs" >*</text>
<text x="73.0" y="981.4" font-size="6.5" text-anchor="end" font-weight="normal" fill="#000" font-family="'Liberation Sans', sans-serif" textLength="37.0" lengthAdjust="spacingAndGlyphs" stroke="#000" stroke-width="0.15">G02F  1/1335</text>
<text x="80.5" y="983.3" font-size="8" text-anchor="middle" font-weight="bold" fill="#111" font-family="'Liberation Sans', sans-serif" textLength="4.0" lengthAdjust="spacingAndGlyphs" >*</text>
<text x="73.0" y="987.2" font-size="6.5" text-anchor="end" font-weight="normal" fill="#000" font-family="'Liberation Sans', sans-serif" textLength="37.0" lengthAdjust="spacingAndGlyphs" stroke="#000" stroke-width="0.15">B32B  9/00</text>
<text x="80.5" y="989.2" font-size="8" text-anchor="middle" font-weight="bold" fill="#111" font-family="'Liberation Sans', sans-serif" textLength="4.0" lengthAdjust="spacingAndGlyphs" >*</text>
<text x="73.0" y="993.1" font-size="6.5" text-anchor="end" font-weight="normal" fill="#000" font-family="'Liberation Sans', sans-serif" textLength="37.0" lengthAdjust="spacingAndGlyphs" stroke="#000" stroke-width="0.15">C09B 67/20</text>
<text x="80.5" y="995.0" font-size="8" text-anchor="middle" font-weight="bold" fill="#111" font-family="'Liberation Sans', sans-serif" textLength="4.0" lengthAdjust="spacingAndGlyphs" >*</text>
<text x="73.0" y="998.9" font-size="6.5" text-anchor="end" font-weight="normal" fill="#000" font-family="'Liberation Sans', sans-serif" textLength="37.0" lengthAdjust="spacingAndGlyphs" stroke="#000" stroke-width="0.15">B32B 27/30</text>
<text x="80.5" y="1000.8" font-size="8" text-anchor="middle" font-weight="bold" fill="#111" font-family="'Liberation Sans', sans-serif" textLength="4.0" lengthAdjust="spacingAndGlyphs" >*</text>
<text x="73.0" y="1004.7" font-size="6.5" text-anchor="end" font-weight="normal" fill="#000" font-family="'Liberation Sans', sans-serif" textLength="37.0" lengthAdjust="spacingAndGlyphs" stroke="#000" stroke-width="0.15">B32B 17/10</text>
<text x="80.5" y="1006.6" font-size="8" text-anchor="middle" font-weight="bold" fill="#111" font-family="'Liberation Sans', sans-serif" textLength="4.0" lengthAdjust="spacingAndGlyphs" >*</text>
<text x="73.0" y="1010.6" font-size="6.5" text-anchor="end" font-weight="normal" fill="#000" font-family="'Liberation Sans', sans-serif" textLength="37.0" lengthAdjust="spacingAndGlyphs" stroke="#000" stroke-width="0.15">G09F  9/00</text>
<text x="80.5" y="1012.5" font-size="8" text-anchor="middle" font-weight="bold" fill="#111" font-family="'Liberation Sans', sans-serif" textLength="4.0" lengthAdjust="spacingAndGlyphs" >*</text>
<text x="73.0" y="1016.4" font-size="6.5" text-anchor="end" font-weight="normal" fill="#000" font-family="'Liberation Sans', sans-serif" textLength="37.0" lengthAdjust="spacingAndGlyphs" stroke="#000" stroke-width="0.15">B60J  1/00</text>
<text x="80.5" y="1018.3" font-size="8" text-anchor="middle" font-weight="bold" fill="#111" font-family="'Liberation Sans', sans-serif" textLength="4.0" lengthAdjust="spacingAndGlyphs" >*</text>
<text x="73.0" y="1162.1" font-size="6.5" text-anchor="end" font-weight="normal" fill="#000" font-family="'Liberation Sans', sans-serif" textLength="37.0" lengthAdjust="spacingAndGlyphs" stroke="#000" stroke-width="0.15">G02B  1/115</text>
<text x="80.5" y="1164.0" font-size="8" text-anchor="middle" font-weight="bold" fill="#111" font-family="'Liberation Sans', sans-serif" textLength="4.0" lengthAdjust="spacingAndGlyphs" >*</text>
<text x="73.0" y="1168.0" font-size="6.5" text-anchor="end" font-weight="normal" fill="#000" font-family="'Liberation Sans', sans-serif" textLength="37.0" lengthAdjust="spacingAndGlyphs" stroke="#000" stroke-width="0.15">C03C 17/36</text>
<text x="80.5" y="1169.9" font-size="8" text-anchor="middle" font-weight="bold" fill="#111" font-family="'Liberation Sans', sans-serif" textLength="4.0" lengthAdjust="spacingAndGlyphs" >*</text>
<text x="73.0" y="1173.8" font-size="6.5" text-anchor="end" font-weight="normal" fill="#000" font-family="'Liberation Sans', sans-serif" textLength="37.0" lengthAdjust="spacingAndGlyphs" stroke="#000" stroke-width="0.15">H10K 50/86</text>
<text x="80.5" y="1175.7" font-size="8" text-anchor="middle" font-weight="bold" fill="#111" font-family="'Liberation Sans', sans-serif" textLength="4.0" lengthAdjust="spacingAndGlyphs" >*</text>
<text x="73.0" y="1179.6" font-size="6.5" text-anchor="end" font-weight="normal" fill="#000" font-family="'Liberation Sans', sans-serif" textLength="37.0" lengthAdjust="spacingAndGlyphs" stroke="#000" stroke-width="0.15">C09B 23/01</text>
<text x="80.5" y="1181.5" font-size="8" text-anchor="middle" font-weight="bold" fill="#111" font-family="'Liberation Sans', sans-serif" textLength="4.0" lengthAdjust="spacingAndGlyphs" >*</text>
<text x="73.0" y="1185.5" font-size="6.5" text-anchor="end" font-weight="normal" fill="#000" font-family="'Liberation Sans', sans-serif" textLength="37.0" lengthAdjust="spacingAndGlyphs" stroke="#000" stroke-width="0.15">G02B  1/11</text>
<text x="80.5" y="1187.4" font-size="8" text-anchor="middle" font-weight="bold" fill="#111" font-family="'Liberation Sans', sans-serif" textLength="4.0" lengthAdjust="spacingAndGlyphs" >*</text>
<rect x="31" y="892" width="54" height="59" fill="url(#dith)" stroke="none" stroke-width="1" />
<rect x="31" y="1015" width="54" height="140" fill="url(#dith)" stroke="none" stroke-width="1" />
<circle cx="103.0" cy="897.5" r="2.5" fill="url(#bubl)" stroke="#3c3c88" stroke-width="0.6"/>
<circle cx="133.8" cy="897.5" r="2.5" fill="url(#bubl)" stroke="#3c3c88" stroke-width="0.6"/>
<circle cx="164.6" cy="897.5" r="3.0" fill="url(#bubl)" stroke="#3c3c88" stroke-width="0.8"/>
<circle cx="195.4" cy="897.5" r="2.5" fill="url(#bubl)" stroke="#3c3c88" stroke-width="0.6"/>
<circle cx="226.2" cy="897.5" r="2.5" fill="url(#bubl)" stroke="#3c3c88" stroke-width="0.6"/>
<circle cx="257.0" cy="897.5" r="2.5" fill="url(#bubl)" stroke="#3c3c88" stroke-width="0.6"/>
<circle cx="287.8" cy="897.5" r="2.5" fill="url(#bubl)" stroke="#3c3c88" stroke-width="0.6"/>
<circle cx="318.6" cy="897.5" r="2.5" fill="url(#bubl)" stroke="#3c3c88" stroke-width="0.6"/>
<circle cx="349.4" cy="897.5" r="2.0" fill="url(#bubl)" stroke="#3c3c88" stroke-width="0.6"/>
<circle cx="380.2" cy="897.5" r="1.5" fill="url(#bubl)" stroke="#3c3c88" stroke-width="0.6"/>
<rect x="410.2" y="896.7" width="1.6" height="1.6" fill="#4a4a6a"/>
<circle cx="103.0" cy="903.3" r="2.0" fill="url(#bubl)" stroke="#3c3c88" stroke-width="0.6"/>
<circle cx="133.8" cy="903.3" r="2.0" fill="url(#bubl)" stroke="#3c3c88" stroke-width="0.6"/>
<circle cx="164.6" cy="903.3" r="2.0" fill="url(#bubl)" stroke="#3c3c88" stroke-width="0.6"/>
<circle cx="195.4" cy="903.3" r="2.0" fill="url(#bubl)" stroke="#3c3c88" stroke-width="0.6"/>
<circle cx="226.2" cy="903.3" r="2.0" fill="url(#bubl)" stroke="#3c3c88" stroke-width="0.6"/>
<circle cx="257.0" cy="903.3" r="2.0" fill="url(#bubl)" stroke="#3c3c88" stroke-width="0.6"/>
<circle cx="287.8" cy="903.3" r="1.5" fill="url(#bubl)" stroke="#3c3c88" stroke-width="0.6"/>
<circle cx="318.6" cy="903.3" r="1.5" fill="url(#bubl)" stroke="#3c3c88" stroke-width="0.6"/>
<circle cx="349.4" cy="903.3" r="1.5" fill="url(#bubl)" stroke="#3c3c88" stroke-width="0.6"/>
<rect x="379.4" y="902.5" width="1.6" height="1.6" fill="#4a4a6a"/>
<rect x="410.2" y="902.5" width="1.6" height="1.6" fill="#4a4a6a"/>
<circle cx="103.0" cy="909.2" r="2.0" fill="url(#bubl)" stroke="#3c3c88" stroke-width="0.6"/>
<circle cx="133.8" cy="909.2" r="2.0" fill="url(#bubl)" stroke="#3c3c88" stroke-width="0.6"/>
<circle cx="164.6" cy="909.2" r="2.0" fill="url(#bubl)" stroke="#3c3c88" stroke-width="0.6"/>
<circle cx="195.4" cy="909.2" r="2.0" fill="url(#bubl)" stroke="#3c3c88" stroke-width="0.6"/>
<circle cx="226.2" cy="909.2" r="2.0" fill="url(#bubl)" stroke="#3c3c88" stroke-width="0.6"/>
<circle cx="257.0" cy="909.2" r="1.5" fill="url(#bubl)" stroke="#3c3c88" stroke-width="0.6"/>
<circle cx="287.8" cy="909.2" r="1.5" fill="url(#bubl)" stroke="#3c3c88" stroke-width="0.6"/>
<circle cx="318.6" cy="909.2" r="1.5" fill="url(#bubl)" stroke="#3c3c88" stroke-width="0.6"/>
<rect x="348.6" y="908.4" width="1.6" height="1.6" fill="#4a4a6a"/>
<rect x="379.4" y="908.4" width="1.6" height="1.6" fill="#4a4a6a"/>
<rect x="410.2" y="908.4" width="1.6" height="1.6" fill="#4a4a6a"/>
<circle cx="103.0" cy="915.0" r="2.0" fill="url(#bubl)" stroke="#3c3c88" stroke-width="0.6"/>
<circle cx="133.8" cy="915.0" r="2.0" fill="url(#bubl)" stroke="#3c3c88" stroke-width="0.6"/>
<circle cx="164.6" cy="915.0" r="1.5" fill="url(#bubl)" stroke="#3c3c88" stroke-width="0.6"/>
<circle cx="195.4" cy="915.0" r="1.5" fill="url(#bubl)" stroke="#3c3c88" stroke-width="0.6"/>
<circle cx="226.2" cy="915.0" r="2.0" fill="url(#bubl)" stroke="#3c3c88" stroke-width="0.6"/>
<circle cx="257.0" cy="915.0" r="1.5" fill="url(#bubl)" stroke="#3c3c88" stroke-width="0.6"/>
<rect x="287.0" y="914.2" width="1.6" height="1.6" fill="#4a4a6a"/>
<rect x="348.6" y="914.2" width="1.6" height="1.6" fill="#4a4a6a"/>
<rect x="379.4" y="914.2" width="1.6" height="1.6" fill="#4a4a6a"/>
<rect x="410.2" y="914.2" width="1.6" height="1.6" fill="#4a4a6a"/>
<rect x="102.2" y="920.0" width="1.6" height="1.6" fill="#4a4a6a"/>
<circle cx="133.8" cy="920.8" r="1.5" fill="url(#bubl)" stroke="#3c3c88" stroke-width="0.6"/>
<circle cx="164.6" cy="920.8" r="1.5" fill="url(#bubl)" stroke="#3c3c88" stroke-width="0.6"/>
<circle cx="195.4" cy="920.8" r="1.5" fill="url(#bubl)" stroke="#3c3c88" stroke-width="0.6"/>
<circle cx="226.2" cy="920.8" r="2.0" fill="url(#bubl)" stroke="#3c3c88" stroke-width="0.6"/>
<circle cx="257.0" cy="920.8" r="1.5" fill="url(#bubl)" stroke="#3c3c88" stroke-width="0.6"/>
<rect x="379.4" y="920.0" width="1.6" height="1.6" fill="#4a4a6a"/>
<rect x="410.2" y="920.0" width="1.6" height="1.6" fill="#4a4a6a"/>
<circle cx="103.0" cy="926.6" r="2.0" fill="url(#bubl)" stroke="#3c3c88" stroke-width="0.6"/>
<circle cx="133.8" cy="926.6" r="2.0" fill="url(#bubl)" stroke="#3c3c88" stroke-width="0.6"/>
<circle cx="164.6" cy="926.6" r="1.5" fill="url(#bubl)" stroke="#3c3c88" stroke-width="0.6"/>
<circle cx="195.4" cy="926.6" r="1.5" fill="url(#bubl)" stroke="#3c3c88" stroke-width="0.6"/>
<rect x="256.2" y="925.9" width="1.6" height="1.6" fill="#4a4a6a"/>
<rect x="348.6" y="925.9" width="1.6" height="1.6" fill="#4a4a6a"/>
<rect x="379.4" y="925.9" width="1.6" height="1.6" fill="#4a4a6a"/>
<rect x="410.2" y="925.9" width="1.6" height="1.6" fill="#4a4a6a"/>
<circle cx="103.0" cy="932.5" r="2.0" fill="url(#bubl)" stroke="#3c3c88" stroke-width="0.6"/>
<circle cx="133.8" cy="932.5" r="1.5" fill="url(#bubl)" stroke="#3c3c88" stroke-width="0.6"/>
<circle cx="164.6" cy="932.5" r="1.5" fill="url(#bubl)" stroke="#3c3c88" stroke-width="0.6"/>
<circle cx="195.4" cy="932.5" r="1.5" fill="url(#bubl)" stroke="#3c3c88" stroke-width="0.6"/>
<circle cx="226.2" cy="932.5" r="2.0" fill="url(#bubl)" stroke="#3c3c88" stroke-width="0.6"/>
<circle cx="257.0" cy="932.5" r="1.5" fill="url(#bubl)" stroke="#3c3c88" stroke-width="0.6"/>
<rect x="287.0" y="931.7" width="1.6" height="1.6" fill="#4a4a6a"/>
<rect x="317.8" y="931.7" width="1.6" height="1.6" fill="#4a4a6a"/>
<rect x="379.4" y="931.7" width="1.6" height="1.6" fill="#4a4a6a"/>
<rect x="410.2" y="931.7" width="1.6" height="1.6" fill="#4a4a6a"/>
<circle cx="103.0" cy="938.3" r="1.5" fill="url(#bubl)" stroke="#3c3c88" stroke-width="0.6"/>
<circle cx="133.8" cy="938.3" r="1.5" fill="url(#bubl)" stroke="#3c3c88" stroke-width="0.6"/>
<rect x="163.8" y="937.5" width="1.6" height="1.6" fill="#4a4a6a"/>
<rect x="194.6" y="937.5" width="1.6" height="1.6" fill="#4a4a6a"/>
<rect x="225.4" y="937.5" width="1.6" height="1.6" fill="#4a4a6a"/>
<rect x="256.2" y="937.5" width="1.6" height="1.6" fill="#4a4a6a"/>
<rect x="287.0" y="937.5" width="1.6" height="1.6" fill="#4a4a6a"/>
<rect x="317.8" y="937.5" width="1.6" height="1.6" fill="#4a4a6a"/>
<rect x="379.4" y="937.5" width="1.6" height="1.6" fill="#4a4a6a"/>
<rect x="410.2" y="937.5" width="1.6" height="1.6" fill="#4a4a6a"/>
<circle cx="103.0" cy="944.1" r="1.5" fill="url(#bubl)" stroke="#3c3c88" stroke-width="0.6"/>
<rect x="133.0" y="943.3" width="1.6" height="1.6" fill="#4a4a6a"/>
<rect x="163.8" y="943.3" width="1.6" height="1.6" fill="#4a4a6a"/>
<rect x="194.6" y="943.3" width="1.6" height="1.6" fill="#4a4a6a"/>
<circle cx="226.2" cy="944.1" r="1.5" fill="url(#bubl)" stroke="#3c3c88" stroke-width="0.6"/>
<rect x="256.2" y="943.3" width="1.6" height="1.6" fill="#4a4a6a"/>
<rect x="379.4" y="943.3" width="1.6" height="1.6" fill="#4a4a6a"/>
<rect x="410.2" y="943.3" width="1.6" height="1.6" fill="#4a4a6a"/>
<rect x="102.2" y="949.2" width="1.6" height="1.6" fill="#4a4a6a"/>
<rect x="133.0" y="949.2" width="1.6" height="1.6" fill="#4a4a6a"/>
<circle cx="164.6" cy="950.0" r="1.5" fill="url(#bubl)" stroke="#3c3c88" stroke-width="0.6"/>
<rect x="194.6" y="949.2" width="1.6" height="1.6" fill="#4a4a6a"/>
<rect x="256.2" y="949.2" width="1.6" height="1.6" fill="#4a4a6a"/>
<rect x="379.4" y="949.2" width="1.6" height="1.6" fill="#4a4a6a"/>
<rect x="410.2" y="949.2" width="1.6" height="1.6" fill="#4a4a6a"/>
<rect x="102.2" y="955.0" width="1.6" height="1.6" fill="#4a4a6a"/>
<rect x="133.0" y="955.0" width="1.6" height="1.6" fill="#4a4a6a"/>
<rect x="163.8" y="955.0" width="1.6" height="1.6" fill="#4a4a6a"/>
<rect x="194.6" y="955.0" width="1.6" height="1.6" fill="#4a4a6a"/>
<rect x="225.4" y="955.0" width="1.6" height="1.6" fill="#4a4a6a"/>
<rect x="256.2" y="955.0" width="1.6" height="1.6" fill="#4a4a6a"/>
<rect x="379.4" y="955.0" width="1.6" height="1.6" fill="#4a4a6a"/>
<rect x="410.2" y="955.0" width="1.6" height="1.6" fill="#4a4a6a"/>
<rect x="102.2" y="960.8" width="1.6" height="1.6" fill="#4a4a6a"/>
<rect x="133.0" y="960.8" width="1.6" height="1.6" fill="#4a4a6a"/>
<rect x="163.8" y="960.8" width="1.6" height="1.6" fill="#4a4a6a"/>
<rect x="194.6" y="960.8" width="1.6" height="1.6" fill="#4a4a6a"/>
<rect x="225.4" y="960.8" width="1.6" height="1.6" fill="#4a4a6a"/>
<rect x="379.4" y="960.8" width="1.6" height="1.6" fill="#4a4a6a"/>
<rect x="410.2" y="960.8" width="1.6" height="1.6" fill="#4a4a6a"/>
<circle cx="103.0" cy="967.5" r="1.5" fill="url(#bubl)" stroke="#3c3c88" stroke-width="0.6"/>
<rect x="133.0" y="966.7" width="1.6" height="1.6" fill="#4a4a6a"/>
<rect x="163.8" y="966.7" width="1.6" height="1.6" fill="#4a4a6a"/>
<rect x="194.6" y="966.7" width="1.6" height="1.6" fill="#4a4a6a"/>
<rect x="225.4" y="966.7" width="1.6" height="1.6" fill="#4a4a6a"/>
<rect x="256.2" y="966.7" width="1.6" height="1.6" fill="#4a4a6a"/>
<rect x="287.0" y="966.7" width="1.6" height="1.6" fill="#4a4a6a"/>
<rect x="379.4" y="966.7" width="1.6" height="1.6" fill="#4a4a6a"/>
<rect x="410.2" y="966.7" width="1.6" height="1.6" fill="#4a4a6a"/>
<rect x="102.2" y="972.5" width="1.6" height="1.6" fill="#4a4a6a"/>
<rect x="133.0" y="972.5" width="1.6" height="1.6" fill="#4a4a6a"/>
<rect x="163.8" y="972.5" width="1.6" height="1.6" fill="#4a4a6a"/>
<rect x="194.6" y="972.5" width="1.6" height="1.6" fill="#4a4a6a"/>
<rect x="225.4" y="972.5" width="1.6" height="1.6" fill="#4a4a6a"/>
<rect x="256.2" y="972.5" width="1.6" height="1.6" fill="#4a4a6a"/>
<rect x="379.4" y="972.5" width="1.6" height="1.6" fill="#4a4a6a"/>
<rect x="410.2" y="972.5" width="1.6" height="1.6" fill="#4a4a6a"/>
<rect x="102.2" y="978.3" width="1.6" height="1.6" fill="#4a4a6a"/>
<rect x="133.0" y="978.3" width="1.6" height="1.6" fill="#4a4a6a"/>
<rect x="163.8" y="978.3" width="1.6" height="1.6" fill="#4a4a6a"/>
<circle cx="195.4" cy="979.1" r="1.5" fill="url(#bubl)" stroke="#3c3c88" stroke-width="0.6"/>
<rect x="225.4" y="978.3" width="1.6" height="1.6" fill="#4a4a6a"/>
<rect x="256.2" y="978.3" width="1.6" height="1.6" fill="#4a4a6a"/>
<rect x="287.0" y="978.3" width="1.6" height="1.6" fill="#4a4a6a"/>
<rect x="317.8" y="978.3" width="1.6" height="1.6" fill="#4a4a6a"/>
<rect x="379.4" y="978.3" width="1.6" height="1.6" fill="#4a4a6a"/>
<rect x="410.2" y="978.3" width="1.6" height="1.6" fill="#4a4a6a"/>
<rect x="102.2" y="984.2" width="1.6" height="1.6" fill="#4a4a6a"/>
<rect x="133.0" y="984.2" width="1.6" height="1.6" fill="#4a4a6a"/>
<rect x="163.8" y="984.2" width="1.6" height="1.6" fill="#4a4a6a"/>
<rect x="194.6" y="984.2" width="1.6" height="1.6" fill="#4a4a6a"/>
<rect x="225.4" y="984.2" width="1.6" height="1.6" fill="#4a4a6a"/>
<rect x="256.2" y="984.2" width="1.6" height="1.6" fill="#4a4a6a"/>
<rect x="379.4" y="984.2" width="1.6" height="1.6" fill="#4a4a6a"/>
<rect x="410.2" y="984.2" width="1.6" height="1.6" fill="#4a4a6a"/>
<rect x="102.2" y="990.0" width="1.6" height="1.6" fill="#4a4a6a"/>
<rect x="133.0" y="990.0" width="1.6" height="1.6" fill="#4a4a6a"/>
<rect x="163.8" y="990.0" width="1.6" height="1.6" fill="#4a4a6a"/>
<rect x="194.6" y="990.0" width="1.6" height="1.6" fill="#4a4a6a"/>
<rect x="225.4" y="990.0" width="1.6" height="1.6" fill="#4a4a6a"/>
<rect x="256.2" y="990.0" width="1.6" height="1.6" fill="#4a4a6a"/>
<rect x="287.0" y="990.0" width="1.6" height="1.6" fill="#4a4a6a"/>
<rect x="348.6" y="990.0" width="1.6" height="1.6" fill="#4a4a6a"/>
<rect x="379.4" y="990.0" width="1.6" height="1.6" fill="#4a4a6a"/>
<rect x="410.2" y="990.0" width="1.6" height="1.6" fill="#4a4a6a"/>
<rect x="102.2" y="995.8" width="1.6" height="1.6" fill="#4a4a6a"/>
<rect x="133.0" y="995.8" width="1.6" height="1.6" fill="#4a4a6a"/>
<rect x="163.8" y="995.8" width="1.6" height="1.6" fill="#4a4a6a"/>
<rect x="194.6" y="995.8" width="1.6" height="1.6" fill="#4a4a6a"/>
<rect x="225.4" y="995.8" width="1.6" height="1.6" fill="#4a4a6a"/>
<rect x="256.2" y="995.8" width="1.6" height="1.6" fill="#4a4a6a"/>
<rect x="287.0" y="995.8" width="1.6" height="1.6" fill="#4a4a6a"/>
<rect x="379.4" y="995.8" width="1.6" height="1.6" fill="#4a4a6a"/>
<rect x="410.2" y="995.8" width="1.6" height="1.6" fill="#4a4a6a"/>
<rect x="102.2" y="1001.6" width="1.6" height="1.6" fill="#4a4a6a"/>
<rect x="133.0" y="1001.6" width="1.6" height="1.6" fill="#4a4a6a"/>
<rect x="163.8" y="1001.6" width="1.6" height="1.6" fill="#4a4a6a"/>
<rect x="194.6" y="1001.6" width="1.6" height="1.6" fill="#4a4a6a"/>
<rect x="225.4" y="1001.6" width="1.6" height="1.6" fill="#4a4a6a"/>
<rect x="256.2" y="1001.6" width="1.6" height="1.6" fill="#4a4a6a"/>
<rect x="287.0" y="1001.6" width="1.6" height="1.6" fill="#4a4a6a"/>
<rect x="379.4" y="1001.6" width="1.6" height="1.6" fill="#4a4a6a"/>
<rect x="410.2" y="1001.6" width="1.6" height="1.6" fill="#4a4a6a"/>
<rect x="102.2" y="1007.5" width="1.6" height="1.6" fill="#4a4a6a"/>
<rect x="133.0" y="1007.5" width="1.6" height="1.6" fill="#4a4a6a"/>
<rect x="163.8" y="1007.5" width="1.6" height="1.6" fill="#4a4a6a"/>
<rect x="194.6" y="1007.5" width="1.6" height="1.6" fill="#4a4a6a"/>
<rect x="225.4" y="1007.5" width="1.6" height="1.6" fill="#4a4a6a"/>
<rect x="379.4" y="1007.5" width="1.6" height="1.6" fill="#4a4a6a"/>
<rect x="410.2" y="1007.5" width="1.6" height="1.6" fill="#4a4a6a"/>
<rect x="102.2" y="1013.3" width="1.6" height="1.6" fill="#4a4a6a"/>
<rect x="133.0" y="1013.3" width="1.6" height="1.6" fill="#4a4a6a"/>
<rect x="163.8" y="1013.3" width="1.6" height="1.6" fill="#4a4a6a"/>
<rect x="194.6" y="1013.3" width="1.6" height="1.6" fill="#4a4a6a"/>
<rect x="225.4" y="1013.3" width="1.6" height="1.6" fill="#4a4a6a"/>
<rect x="256.2" y="1013.3" width="1.6" height="1.6" fill="#4a4a6a"/>
<rect x="379.4" y="1013.3" width="1.6" height="1.6" fill="#4a4a6a"/>
<rect x="410.2" y="1013.3" width="1.6" height="1.6" fill="#4a4a6a"/>
<rect x="102.2" y="1019.1" width="1.6" height="1.6" fill="#4a4a6a"/>
<rect x="133.0" y="1019.1" width="1.6" height="1.6" fill="#4a4a6a"/>
<rect x="163.8" y="1019.1" width="1.6" height="1.6" fill="#4a4a6a"/>
<rect x="194.6" y="1019.1" width="1.6" height="1.6" fill="#4a4a6a"/>
<rect x="225.4" y="1019.1" width="1.6" height="1.6" fill="#4a4a6a"/>
<rect x="256.2" y="1019.1" width="1.6" height="1.6" fill="#4a4a6a"/>
<rect x="287.0" y="1019.1" width="1.6" height="1.6" fill="#4a4a6a"/>
<rect x="379.4" y="1019.1" width="1.6" height="1.6" fill="#4a4a6a"/>
<rect x="410.2" y="1019.1" width="1.6" height="1.6" fill="#4a4a6a"/>
<rect x="102.2" y="1025.0" width="1.6" height="1.6" fill="#4a4a6a"/>
<rect x="133.0" y="1025.0" width="1.6" height="1.6" fill="#4a4a6a"/>
<rect x="163.8" y="1025.0" width="1.6" height="1.6" fill="#4a4a6a"/>
<rect x="194.6" y="1025.0" width="1.6" height="1.6" fill="#4a4a6a"/>
<rect x="225.4" y="1025.0" width="1.6" height="1.6" fill="#4a4a6a"/>
<rect x="256.2" y="1025.0" width="1.6" height="1.6" fill="#4a4a6a"/>
<rect x="287.0" y="1025.0" width="1.6" height="1.6" fill="#4a4a6a"/>
<rect x="379.4" y="1025.0" width="1.6" height="1.6" fill="#4a4a6a"/>
<rect x="410.2" y="1025.0" width="1.6" height="1.6" fill="#4a4a6a"/>
<rect x="102.2" y="1030.8" width="1.6" height="1.6" fill="#4a4a6a"/>
<rect x="133.0" y="1030.8" width="1.6" height="1.6" fill="#4a4a6a"/>
<rect x="163.8" y="1030.8" width="1.6" height="1.6" fill="#4a4a6a"/>
<rect x="194.6" y="1030.8" width="1.6" height="1.6" fill="#4a4a6a"/>
<rect x="256.2" y="1030.8" width="1.6" height="1.6" fill="#4a4a6a"/>
<rect x="379.4" y="1030.8" width="1.6" height="1.6" fill="#4a4a6a"/>
<rect x="410.2" y="1030.8" width="1.6" height="1.6" fill="#4a4a6a"/>
<rect x="102.2" y="1036.6" width="1.6" height="1.6" fill="#4a4a6a"/>
<rect x="133.0" y="1036.6" width="1.6" height="1.6" fill="#4a4a6a"/>
<rect x="163.8" y="1036.6" width="1.6" height="1.6" fill="#4a4a6a"/>
<rect x="194.6" y="1036.6" width="1.6" height="1.6" fill="#4a4a6a"/>
<rect x="256.2" y="1036.6" width="1.6" height="1.6" fill="#4a4a6a"/>
<rect x="287.0" y="1036.6" width="1.6" height="1.6" fill="#4a4a6a"/>
<rect x="317.8" y="1036.6" width="1.6" height="1.6" fill="#4a4a6a"/>
<rect x="379.4" y="1036.6" width="1.6" height="1.6" fill="#4a4a6a"/>
<rect x="410.2" y="1036.6" width="1.6" height="1.6" fill="#4a4a6a"/>
<rect x="102.2" y="1042.5" width="1.6" height="1.6" fill="#4a4a6a"/>
<rect x="133.0" y="1042.5" width="1.6" height="1.6" fill="#4a4a6a"/>
<rect x="163.8" y="1042.5" width="1.6" height="1.6" fill="#4a4a6a"/>
<rect x="194.6" y="1042.5" width="1.6" height="1.6" fill="#4a4a6a"/>
<rect x="225.4" y="1042.5" width="1.6" height="1.6" fill="#4a4a6a"/>
<rect x="256.2" y="1042.5" width="1.6" height="1.6" fill="#4a4a6a"/>
<rect x="287.0" y="1042.5" width="1.6" height="1.6" fill="#4a4a6a"/>
<rect x="317.8" y="1042.5" width="1.6" height="1.6" fill="#4a4a6a"/>
<rect x="379.4" y="1042.5" width="1.6" height="1.6" fill="#4a4a6a"/>
<rect x="410.2" y="1042.5" width="1.6" height="1.6" fill="#4a4a6a"/>
<rect x="102.2" y="1048.3" width="1.6" height="1.6" fill="#4a4a6a"/>
<rect x="133.0" y="1048.3" width="1.6" height="1.6" fill="#4a4a6a"/>
<rect x="163.8" y="1048.3" width="1.6" height="1.6" fill="#4a4a6a"/>
<rect x="194.6" y="1048.3" width="1.6" height="1.6" fill="#4a4a6a"/>
<rect x="225.4" y="1048.3" width="1.6" height="1.6" fill="#4a4a6a"/>
<rect x="256.2" y="1048.3" width="1.6" height="1.6" fill="#4a4a6a"/>
<rect x="287.0" y="1048.3" width="1.6" height="1.6" fill="#4a4a6a"/>
<rect x="379.4" y="1048.3" width="1.6" height="1.6" fill="#4a4a6a"/>
<rect x="410.2" y="1048.3" width="1.6" height="1.6" fill="#4a4a6a"/>
<rect x="102.2" y="1054.1" width="1.6" height="1.6" fill="#4a4a6a"/>
<rect x="133.0" y="1054.1" width="1.6" height="1.6" fill="#4a4a6a"/>
<rect x="163.8" y="1054.1" width="1.6" height="1.6" fill="#4a4a6a"/>
<rect x="194.6" y="1054.1" width="1.6" height="1.6" fill="#4a4a6a"/>
<rect x="225.4" y="1054.1" width="1.6" height="1.6" fill="#4a4a6a"/>
<rect x="379.4" y="1054.1" width="1.6" height="1.6" fill="#4a4a6a"/>
<rect x="410.2" y="1054.1" width="1.6" height="1.6" fill="#4a4a6a"/>
<rect x="102.2" y="1059.9" width="1.6" height="1.6" fill="#4a4a6a"/>
<rect x="133.0" y="1059.9" width="1.6" height="1.6" fill="#4a4a6a"/>
<rect x="163.8" y="1059.9" width="1.6" height="1.6" fill="#4a4a6a"/>
<rect x="194.6" y="1059.9" width="1.6" height="1.6" fill="#4a4a6a"/>
<rect x="225.4" y="1059.9" width="1.6" height="1.6" fill="#4a4a6a"/>
<rect x="256.2" y="1059.9" width="1.6" height="1.6" fill="#4a4a6a"/>
<rect x="379.4" y="1059.9" width="1.6" height="1.6" fill="#4a4a6a"/>
<rect x="410.2" y="1059.9" width="1.6" height="1.6" fill="#4a4a6a"/>
<rect x="102.2" y="1065.8" width="1.6" height="1.6" fill="#4a4a6a"/>
<rect x="133.0" y="1065.8" width="1.6" height="1.6" fill="#4a4a6a"/>
<rect x="163.8" y="1065.8" width="1.6" height="1.6" fill="#4a4a6a"/>
<rect x="194.6" y="1065.8" width="1.6" height="1.6" fill="#4a4a6a"/>
<rect x="225.4" y="1065.8" width="1.6" height="1.6" fill="#4a4a6a"/>
<rect x="256.2" y="1065.8" width="1.6" height="1.6" fill="#4a4a6a"/>
<rect x="379.4" y="1065.8" width="1.6" height="1.6" fill="#4a4a6a"/>
<rect x="410.2" y="1065.8" width="1.6" height="1.6" fill="#4a4a6a"/>
<rect x="102.2" y="1071.6" width="1.6" height="1.6" fill="#4a4a6a"/>
<rect x="133.0" y="1071.6" width="1.6" height="1.6" fill="#4a4a6a"/>
<rect x="163.8" y="1071.6" width="1.6" height="1.6" fill="#4a4a6a"/>
<rect x="194.6" y="1071.6" width="1.6" height="1.6" fill="#4a4a6a"/>
<rect x="225.4" y="1071.6" width="1.6" height="1.6" fill="#4a4a6a"/>
<rect x="256.2" y="1071.6" width="1.6" height="1.6" fill="#4a4a6a"/>
<rect x="379.4" y="1071.6" width="1.6" height="1.6" fill="#4a4a6a"/>
<rect x="410.2" y="1071.6" width="1.6" height="1.6" fill="#4a4a6a"/>
<rect x="102.2" y="1077.4" width="1.6" height="1.6" fill="#4a4a6a"/>
<rect x="133.0" y="1077.4" width="1.6" height="1.6" fill="#4a4a6a"/>
<rect x="163.8" y="1077.4" width="1.6" height="1.6" fill="#4a4a6a"/>
<rect x="194.6" y="1077.4" width="1.6" height="1.6" fill="#4a4a6a"/>
<rect x="225.4" y="1077.4" width="1.6" height="1.6" fill="#4a4a6a"/>
<rect x="256.2" y="1077.4" width="1.6" height="1.6" fill="#4a4a6a"/>
<rect x="287.0" y="1077.4" width="1.6" height="1.6" fill="#4a4a6a"/>
<rect x="348.6" y="1077.4" width="1.6" height="1.6" fill="#4a4a6a"/>
<rect x="379.4" y="1077.4" width="1.6" height="1.6" fill="#4a4a6a"/>
<rect x="410.2" y="1077.4" width="1.6" height="1.6" fill="#4a4a6a"/>
<rect x="102.2" y="1083.3" width="1.6" height="1.6" fill="#4a4a6a"/>
<rect x="133.0" y="1083.3" width="1.6" height="1.6" fill="#4a4a6a"/>
<rect x="163.8" y="1083.3" width="1.6" height="1.6" fill="#4a4a6a"/>
<rect x="194.6" y="1083.3" width="1.6" height="1.6" fill="#4a4a6a"/>
<rect x="225.4" y="1083.3" width="1.6" height="1.6" fill="#4a4a6a"/>
<rect x="256.2" y="1083.3" width="1.6" height="1.6" fill="#4a4a6a"/>
<rect x="287.0" y="1083.3" width="1.6" height="1.6" fill="#4a4a6a"/>
<rect x="379.4" y="1083.3" width="1.6" height="1.6" fill="#4a4a6a"/>
<rect x="410.2" y="1083.3" width="1.6" height="1.6" fill="#4a4a6a"/>
<rect x="102.2" y="1089.1" width="1.6" height="1.6" fill="#4a4a6a"/>
<rect x="133.0" y="1089.1" width="1.6" height="1.6" fill="#4a4a6a"/>
<rect x="163.8" y="1089.1" width="1.6" height="1.6" fill="#4a4a6a"/>
<rect x="194.6" y="1089.1" width="1.6" height="1.6" fill="#4a4a6a"/>
<rect x="225.4" y="1089.1" width="1.6" height="1.6" fill="#4a4a6a"/>
<rect x="256.2" y="1089.1" width="1.6" height="1.6" fill="#4a4a6a"/>
<rect x="379.4" y="1089.1" width="1.6" height="1.6" fill="#4a4a6a"/>
<rect x="410.2" y="1089.1" width="1.6" height="1.6" fill="#4a4a6a"/>
<rect x="102.2" y="1094.9" width="1.6" height="1.6" fill="#4a4a6a"/>
<rect x="133.0" y="1094.9" width="1.6" height="1.6" fill="#4a4a6a"/>
<rect x="163.8" y="1094.9" width="1.6" height="1.6" fill="#4a4a6a"/>
<rect x="194.6" y="1094.9" width="1.6" height="1.6" fill="#4a4a6a"/>
<rect x="225.4" y="1094.9" width="1.6" height="1.6" fill="#4a4a6a"/>
<rect x="256.2" y="1094.9" width="1.6" height="1.6" fill="#4a4a6a"/>
<rect x="317.8" y="1094.9" width="1.6" height="1.6" fill="#4a4a6a"/>
<rect x="379.4" y="1094.9" width="1.6" height="1.6" fill="#4a4a6a"/>
<rect x="410.2" y="1094.9" width="1.6" height="1.6" fill="#4a4a6a"/>
<rect x="102.2" y="1100.8" width="1.6" height="1.6" fill="#4a4a6a"/>
<rect x="133.0" y="1100.8" width="1.6" height="1.6" fill="#4a4a6a"/>
<rect x="163.8" y="1100.8" width="1.6" height="1.6" fill="#4a4a6a"/>
<rect x="194.6" y="1100.8" width="1.6" height="1.6" fill="#4a4a6a"/>
<rect x="225.4" y="1100.8" width="1.6" height="1.6" fill="#4a4a6a"/>
<rect x="256.2" y="1100.8" width="1.6" height="1.6" fill="#4a4a6a"/>
<rect x="379.4" y="1100.8" width="1.6" height="1.6" fill="#4a4a6a"/>
<rect x="410.2" y="1100.8" width="1.6" height="1.6" fill="#4a4a6a"/>
<rect x="102.2" y="1106.6" width="1.6" height="1.6" fill="#4a4a6a"/>
<rect x="133.0" y="1106.6" width="1.6" height="1.6" fill="#4a4a6a"/>
<rect x="163.8" y="1106.6" width="1.6" height="1.6" fill="#4a4a6a"/>
<rect x="194.6" y="1106.6" width="1.6" height="1.6" fill="#4a4a6a"/>
<rect x="225.4" y="1106.6" width="1.6" height="1.6" fill="#4a4a6a"/>
<rect x="256.2" y="1106.6" width="1.6" height="1.6" fill="#4a4a6a"/>
<rect x="317.8" y="1106.6" width="1.6" height="1.6" fill="#4a4a6a"/>
<rect x="379.4" y="1106.6" width="1.6" height="1.6" fill="#4a4a6a"/>
<rect x="410.2" y="1106.6" width="1.6" height="1.6" fill="#4a4a6a"/>
<rect x="102.2" y="1112.4" width="1.6" height="1.6" fill="#4a4a6a"/>
<rect x="133.0" y="1112.4" width="1.6" height="1.6" fill="#4a4a6a"/>
<rect x="163.8" y="1112.4" width="1.6" height="1.6" fill="#4a4a6a"/>
<rect x="194.6" y="1112.4" width="1.6" height="1.6" fill="#4a4a6a"/>
<rect x="225.4" y="1112.4" width="1.6" height="1.6" fill="#4a4a6a"/>
<rect x="256.2" y="1112.4" width="1.6" height="1.6" fill="#4a4a6a"/>
<rect x="379.4" y="1112.4" width="1.6" height="1.6" fill="#4a4a6a"/>
<rect x="410.2" y="1112.4" width="1.6" height="1.6" fill="#4a4a6a"/>
<rect x="102.2" y="1118.2" width="1.6" height="1.6" fill="#4a4a6a"/>
<rect x="133.0" y="1118.2" width="1.6" height="1.6" fill="#4a4a6a"/>
<rect x="163.8" y="1118.2" width="1.6" height="1.6" fill="#4a4a6a"/>
<rect x="194.6" y="1118.2" width="1.6" height="1.6" fill="#4a4a6a"/>
<rect x="225.4" y="1118.2" width="1.6" height="1.6" fill="#4a4a6a"/>
<rect x="256.2" y="1118.2" width="1.6" height="1.6" fill="#4a4a6a"/>
<rect x="287.0" y="1118.2" width="1.6" height="1.6" fill="#4a4a6a"/>
<rect x="379.4" y="1118.2" width="1.6" height="1.6" fill="#4a4a6a"/>
<rect x="410.2" y="1118.2" width="1.6" height="1.6" fill="#4a4a6a"/>
<rect x="102.2" y="1124.1" width="1.6" height="1.6" fill="#4a4a6a"/>
<rect x="133.0" y="1124.1" width="1.6" height="1.6" fill="#4a4a6a"/>
<rect x="163.8" y="1124.1" width="1.6" height="1.6" fill="#4a4a6a"/>
<rect x="194.6" y="1124.1" width="1.6" height="1.6" fill="#4a4a6a"/>
<rect x="225.4" y="1124.1" width="1.6" height="1.6" fill="#4a4a6a"/>
<rect x="256.2" y="1124.1" width="1.6" height="1.6" fill="#4a4a6a"/>
<rect x="287.0" y="1124.1" width="1.6" height="1.6" fill="#4a4a6a"/>
<rect x="379.4" y="1124.1" width="1.6" height="1.6" fill="#4a4a6a"/>
<rect x="410.2" y="1124.1" width="1.6" height="1.6" fill="#4a4a6a"/>
<rect x="102.2" y="1129.9" width="1.6" height="1.6" fill="#4a4a6a"/>
<rect x="133.0" y="1129.9" width="1.6" height="1.6" fill="#4a4a6a"/>
<rect x="163.8" y="1129.9" width="1.6" height="1.6" fill="#4a4a6a"/>
<rect x="194.6" y="1129.9" width="1.6" height="1.6" fill="#4a4a6a"/>
<rect x="225.4" y="1129.9" width="1.6" height="1.6" fill="#4a4a6a"/>
<rect x="256.2" y="1129.9" width="1.6" height="1.6" fill="#4a4a6a"/>
<rect x="379.4" y="1129.9" width="1.6" height="1.6" fill="#4a4a6a"/>
<rect x="410.2" y="1129.9" width="1.6" height="1.6" fill="#4a4a6a"/>
<rect x="102.2" y="1135.7" width="1.6" height="1.6" fill="#4a4a6a"/>
<rect x="133.0" y="1135.7" width="1.6" height="1.6" fill="#4a4a6a"/>
<rect x="163.8" y="1135.7" width="1.6" height="1.6" fill="#4a4a6a"/>
<rect x="194.6" y="1135.7" width="1.6" height="1.6" fill="#4a4a6a"/>
<rect x="225.4" y="1135.7" width="1.6" height="1.6" fill="#4a4a6a"/>
<rect x="256.2" y="1135.7" width="1.6" height="1.6" fill="#4a4a6a"/>
<rect x="287.0" y="1135.7" width="1.6" height="1.6" fill="#4a4a6a"/>
<rect x="348.6" y="1135.7" width="1.6" height="1.6" fill="#4a4a6a"/>
<rect x="379.4" y="1135.7" width="1.6" height="1.6" fill="#4a4a6a"/>
<rect x="410.2" y="1135.7" width="1.6" height="1.6" fill="#4a4a6a"/>
<rect x="102.2" y="1141.6" width="1.6" height="1.6" fill="#4a4a6a"/>
<rect x="133.0" y="1141.6" width="1.6" height="1.6" fill="#4a4a6a"/>
<rect x="163.8" y="1141.6" width="1.6" height="1.6" fill="#4a4a6a"/>
<rect x="194.6" y="1141.6" width="1.6" height="1.6" fill="#4a4a6a"/>
<rect x="225.4" y="1141.6" width="1.6" height="1.6" fill="#4a4a6a"/>
<rect x="256.2" y="1141.6" width="1.6" height="1.6" fill="#4a4a6a"/>
<rect x="379.4" y="1141.6" width="1.6" height="1.6" fill="#4a4a6a"/>
<rect x="410.2" y="1141.6" width="1.6" height="1.6" fill="#4a4a6a"/>
<rect x="102.2" y="1147.4" width="1.6" height="1.6" fill="#4a4a6a"/>
<rect x="133.0" y="1147.4" width="1.6" height="1.6" fill="#4a4a6a"/>
<rect x="163.8" y="1147.4" width="1.6" height="1.6" fill="#4a4a6a"/>
<rect x="194.6" y="1147.4" width="1.6" height="1.6" fill="#4a4a6a"/>
<rect x="225.4" y="1147.4" width="1.6" height="1.6" fill="#4a4a6a"/>
<rect x="256.2" y="1147.4" width="1.6" height="1.6" fill="#4a4a6a"/>
<rect x="379.4" y="1147.4" width="1.6" height="1.6" fill="#4a4a6a"/>
<rect x="410.2" y="1147.4" width="1.6" height="1.6" fill="#4a4a6a"/>
<rect x="102.2" y="1153.2" width="1.6" height="1.6" fill="#4a4a6a"/>
<rect x="133.0" y="1153.2" width="1.6" height="1.6" fill="#4a4a6a"/>
<rect x="163.8" y="1153.2" width="1.6" height="1.6" fill="#4a4a6a"/>
<rect x="194.6" y="1153.2" width="1.6" height="1.6" fill="#4a4a6a"/>
<rect x="225.4" y="1153.2" width="1.6" height="1.6" fill="#4a4a6a"/>
<rect x="256.2" y="1153.2" width="1.6" height="1.6" fill="#4a4a6a"/>
<rect x="287.0" y="1153.2" width="1.6" height="1.6" fill="#4a4a6a"/>
<rect x="379.4" y="1153.2" width="1.6" height="1.6" fill="#4a4a6a"/>
<rect x="410.2" y="1153.2" width="1.6" height="1.6" fill="#4a4a6a"/>
<rect x="102.2" y="1159.0" width="1.6" height="1.6" fill="#4a4a6a"/>
<rect x="133.0" y="1159.0" width="1.6" height="1.6" fill="#4a4a6a"/>
<rect x="163.8" y="1159.0" width="1.6" height="1.6" fill="#4a4a6a"/>
<rect x="194.6" y="1159.0" width="1.6" height="1.6" fill="#4a4a6a"/>
<rect x="256.2" y="1159.0" width="1.6" height="1.6" fill="#4a4a6a"/>
<rect x="348.6" y="1159.0" width="1.6" height="1.6" fill="#4a4a6a"/>
<rect x="379.4" y="1159.0" width="1.6" height="1.6" fill="#4a4a6a"/>
<rect x="410.2" y="1159.0" width="1.6" height="1.6" fill="#4a4a6a"/>
<rect x="102.2" y="1164.9" width="1.6" height="1.6" fill="#4a4a6a"/>
<rect x="133.0" y="1164.9" width="1.6" height="1.6" fill="#4a4a6a"/>
<rect x="163.8" y="1164.9" width="1.6" height="1.6" fill="#4a4a6a"/>
<rect x="194.6" y="1164.9" width="1.6" height="1.6" fill="#4a4a6a"/>
<rect x="225.4" y="1164.9" width="1.6" height="1.6" fill="#4a4a6a"/>
<rect x="256.2" y="1164.9" width="1.6" height="1.6" fill="#4a4a6a"/>
<rect x="379.4" y="1164.9" width="1.6" height="1.6" fill="#4a4a6a"/>
<rect x="410.2" y="1164.9" width="1.6" height="1.6" fill="#4a4a6a"/>
<rect x="102.2" y="1170.7" width="1.6" height="1.6" fill="#4a4a6a"/>
<rect x="133.0" y="1170.7" width="1.6" height="1.6" fill="#4a4a6a"/>
<rect x="163.8" y="1170.7" width="1.6" height="1.6" fill="#4a4a6a"/>
<rect x="194.6" y="1170.7" width="1.6" height="1.6" fill="#4a4a6a"/>
<rect x="225.4" y="1170.7" width="1.6" height="1.6" fill="#4a4a6a"/>
<rect x="256.2" y="1170.7" width="1.6" height="1.6" fill="#4a4a6a"/>
<rect x="287.0" y="1170.7" width="1.6" height="1.6" fill="#4a4a6a"/>
<rect x="379.4" y="1170.7" width="1.6" height="1.6" fill="#4a4a6a"/>
<rect x="410.2" y="1170.7" width="1.6" height="1.6" fill="#4a4a6a"/>
<rect x="102.2" y="1176.5" width="1.6" height="1.6" fill="#4a4a6a"/>
<rect x="133.0" y="1176.5" width="1.6" height="1.6" fill="#4a4a6a"/>
<rect x="163.8" y="1176.5" width="1.6" height="1.6" fill="#4a4a6a"/>
<rect x="194.6" y="1176.5" width="1.6" height="1.6" fill="#4a4a6a"/>
<rect x="225.4" y="1176.5" width="1.6" height="1.6" fill="#4a4a6a"/>
<rect x="256.2" y="1176.5" width="1.6" height="1.6" fill="#4a4a6a"/>
<rect x="348.6" y="1176.5" width="1.6" height="1.6" fill="#4a4a6a"/>
<rect x="379.4" y="1176.5" width="1.6" height="1.6" fill="#4a4a6a"/>
<rect x="410.2" y="1176.5" width="1.6" height="1.6" fill="#4a4a6a"/>
<rect x="102.2" y="1182.4" width="1.6" height="1.6" fill="#4a4a6a"/>
<rect x="133.0" y="1182.4" width="1.6" height="1.6" fill="#4a4a6a"/>
<rect x="163.8" y="1182.4" width="1.6" height="1.6" fill="#4a4a6a"/>
<rect x="194.6" y="1182.4" width="1.6" height="1.6" fill="#4a4a6a"/>
<rect x="225.4" y="1182.4" width="1.6" height="1.6" fill="#4a4a6a"/>
<rect x="379.4" y="1182.4" width="1.6" height="1.6" fill="#4a4a6a"/>
<rect x="410.2" y="1182.4" width="1.6" height="1.6" fill="#4a4a6a"/>
<text x="455.5" y="472.5" font-size="11" text-anchor="start" font-weight="normal" fill="#111" font-family="'Liberation Sans', sans-serif" textLength="263.0" lengthAdjust="spacingAndGlyphs" >11. 最近の技術開発(要約内･請求の範囲内キーワード)を対象として</text>
<text x="455.5" y="487.5" font-size="11" text-anchor="start" font-weight="normal" fill="#111" font-family="'Liberation Sans', sans-serif" textLength="429.5" lengthAdjust="spacingAndGlyphs" >11-1. 最近(直近約 3 年間)に新規に出現した「要約内キーワード」のニューアピアランスキーワードランキングリスト</text>
<text x="482.0" y="502.0" font-size="11" text-anchor="start" font-weight="normal" fill="#111" font-family="'Liberation Sans', sans-serif" textLength="140.5" lengthAdjust="spacingAndGlyphs" >(上位 1,000 キーワードをリストアップ)</text>
<text x="452.8" y="862.0" font-size="11" text-anchor="start" font-weight="normal" fill="#111" font-family="'Liberation Sans', sans-serif" textLength="431.2" lengthAdjust="spacingAndGlyphs" >11-2. 最近(直近約 3 年間)に新規に出現した「請求の範囲内キーワード」のニューアピアランスキーワードランキン</text>
<text x="452.8" y="875.0" font-size="11" text-anchor="start" font-weight="normal" fill="#111" font-family="'Liberation Sans', sans-serif" textLength="33.2" lengthAdjust="spacingAndGlyphs" >グリスト</text>
<text x="479.0" y="890.0" font-size="11" text-anchor="start" font-weight="normal" fill="#111" font-family="'Liberation Sans', sans-serif" textLength="161.0" lengthAdjust="spacingAndGlyphs" >(上位 1,000 キーワードのみをリストアップ)</text>
<rect x="454.8" y="505.3" width="431.2" height="324.49999999999994" fill="#f8f8f8" stroke="none" stroke-width="1" />
<rect x="454.8" y="505.3" width="431.2" height="13.999999999999943" fill="#c6c6c6" stroke="none" stroke-width="1" />
<text x="541.5" y="516.3" font-size="11" text-anchor="middle" font-weight="bold" fill="#222" font-family="'Liberation Sans', sans-serif" textLength="46.0" lengthAdjust="spacingAndGlyphs" >キーワード</text>
<text x="649.5" y="516.3" font-size="11" text-anchor="middle" font-weight="bold" fill="#222" font-family="'Liberation Sans', sans-serif" textLength="20.0" lengthAdjust="spacingAndGlyphs" >件数</text>
<text x="757.0" y="516.3" font-size="11" text-anchor="middle" font-weight="bold" fill="#222" font-family="'Liberation Sans', sans-serif" textLength="46.0" lengthAdjust="spacingAndGlyphs" >キーワード</text>
<text x="864.6" y="516.3" font-size="11" text-anchor="middle" font-weight="bold" fill="#222" font-family="'Liberation Sans', sans-serif" textLength="20.0" lengthAdjust="spacingAndGlyphs" >件数</text>
<text x="668.6" y="530.2" font-size="10" text-anchor="end" font-weight="normal" fill="#111" font-family="'Liberation Sans', sans-serif" textLength="5.0" lengthAdjust="spacingAndGlyphs" stroke="#111" stroke-width="0.25">4</text>
<text x="673.1" y="530.2" font-size="10" text-anchor="start" font-weight="normal" fill="#111" font-family="'Liberation Sans', sans-serif" textLength="10.0" lengthAdjust="spacingAndGlyphs" stroke="#111" stroke-width="0.25">PC</text>
<text x="884.0" y="530.2" font-size="10" text-anchor="end" font-weight="normal" fill="#111" font-family="'Liberation Sans', sans-serif" textLength="5.0" lengthAdjust="spacingAndGlyphs" stroke="#111" stroke-width="0.25">2</text>
<line x1="454.80" y1="532.80" x2="886.00" y2="532.80" stroke="#111" stroke-width="1.3" />
<text x="668.6" y="543.7" font-size="10" text-anchor="end" font-weight="normal" fill="#111" font-family="'Liberation Sans', sans-serif" textLength="5.0" lengthAdjust="spacingAndGlyphs" stroke="#111" stroke-width="0.25">4</text>
<text x="673.1" y="543.7" font-size="10" text-anchor="start" font-weight="normal" fill="#111" font-family="'Liberation Sans', sans-serif" textLength="20.0" lengthAdjust="spacingAndGlyphs" stroke="#111" stroke-width="0.25">T1ma</text>
<text x="884.0" y="543.7" font-size="10" text-anchor="end" font-weight="normal" fill="#111" font-family="'Liberation Sans', sans-serif" textLength="5.0" lengthAdjust="spacingAndGlyphs" stroke="#111" stroke-width="0.25">2</text>
<line x1="454.80" y1="546.30" x2="886.00" y2="546.30" stroke="#111" stroke-width="1.3" />
<text x="668.6" y="557.2" font-size="10" text-anchor="end" font-weight="normal" fill="#111" font-family="'Liberation Sans', sans-serif" textLength="5.0" lengthAdjust="spacingAndGlyphs" stroke="#111" stroke-width="0.25">4</text>
<text x="673.1" y="557.2" font-size="10" text-anchor="start" font-weight="normal" fill="#111" font-family="'Liberation Sans', sans-serif" textLength="50.0" lengthAdjust="spacingAndGlyphs" stroke="#111" stroke-width="0.25">T1max-T2ma</text>
<text x="884.0" y="557.2" font-size="10" text-anchor="end" font-weight="normal" fill="#111" font-family="'Liberation Sans', sans-serif" textLength="5.0" lengthAdjust="spacingAndGlyphs" stroke="#111" stroke-width="0.25">2</text>
<line x1="454.80" y1="559.80" x2="886.00" y2="559.80" stroke="#111" stroke-width="1.3" />
<text x="668.6" y="570.7" font-size="10" text-anchor="end" font-weight="normal" fill="#111" font-family="'Liberation Sans', sans-serif" textLength="5.0" lengthAdjust="spacingAndGlyphs" stroke="#111" stroke-width="0.25">4</text>
<text x="673.1" y="570.7" font-size="10" text-anchor="start" font-weight="normal" fill="#111" font-family="'Liberation Sans', sans-serif" textLength="20.0" lengthAdjust="spacingAndGlyphs" stroke="#111" stroke-width="0.25">T2ma</text>
<text x="884.0" y="570.7" font-size="10" text-anchor="end" font-weight="normal" fill="#111" font-family="'Liberation Sans', sans-serif" textLength="5.0" lengthAdjust="spacingAndGlyphs" stroke="#111" stroke-width="0.25">2</text>
<line x1="454.80" y1="573.30" x2="886.00" y2="573.30" stroke="#111" stroke-width="1.3" />
<text x="668.6" y="584.2" font-size="10" text-anchor="end" font-weight="normal" fill="#111" font-family="'Liberation Sans', sans-serif" textLength="5.0" lengthAdjust="spacingAndGlyphs" stroke="#111" stroke-width="0.25">4</text>
<text x="673.1" y="584.2" font-size="10" text-anchor="start" font-weight="normal" fill="#111" font-family="'Liberation Sans', sans-serif" textLength="10.0" lengthAdjust="spacingAndGlyphs" stroke="#111" stroke-width="0.25">TV</text>
<text x="884.0" y="584.2" font-size="10" text-anchor="end" font-weight="normal" fill="#111" font-family="'Liberation Sans', sans-serif" textLength="5.0" lengthAdjust="spacingAndGlyphs" stroke="#111" stroke-width="0.25">2</text>
<line x1="454.80" y1="586.80" x2="886.00" y2="586.80" stroke="#111" stroke-width="1.3" />
<text x="668.6" y="597.7" font-size="10" text-anchor="end" font-weight="normal" fill="#111" font-family="'Liberation Sans', sans-serif" textLength="5.0" lengthAdjust="spacingAndGlyphs" stroke="#111" stroke-width="0.25">4</text>
<text x="673.1" y="597.7" font-size="10" text-anchor="start" font-weight="normal" fill="#111" font-family="'Liberation Sans', sans-serif" textLength="13.3" lengthAdjust="spacingAndGlyphs" stroke="#111" stroke-width="0.25">V値</text>
<text x="884.0" y="597.7" font-size="10" text-anchor="end" font-weight="normal" fill="#111" font-family="'Liberation Sans', sans-serif" textLength="5.0" lengthAdjust="spacingAndGlyphs" stroke="#111" stroke-width="0.25">2</text>
<line x1="454.80" y1="600.30" x2="886.00" y2="600.30" stroke="#111" stroke-width="1.3" />
<text x="668.6" y="611.2" font-size="10" text-anchor="end" font-weight="normal" fill="#111" font-family="'Liberation Sans', sans-serif" textLength="5.0" lengthAdjust="spacingAndGlyphs" stroke="#111" stroke-width="0.25">4</text>
<text x="673.1" y="611.2" font-size="10" text-anchor="start" font-weight="normal" fill="#111" font-family="'Liberation Sans', sans-serif" textLength="41.5" lengthAdjust="spacingAndGlyphs" stroke="#111" stroke-width="0.25">アウトガス</text>
<text x="884.0" y="611.2" font-size="10" text-anchor="end" font-weight="normal" fill="#111" font-family="'Liberation Sans', sans-serif" textLength="5.0" lengthAdjust="spacingAndGlyphs" stroke="#111" stroke-width="0.25">2</text>
<line x1="454.80" y1="613.80" x2="886.00" y2="613.80" stroke="#111" stroke-width="1.3" />
<text x="668.6" y="624.7" font-size="10" text-anchor="end" font-weight="normal" fill="#111" font-family="'Liberation Sans', sans-serif" textLength="5.0" lengthAdjust="spacingAndGlyphs" stroke="#111" stroke-width="0.25">4</text>
<text x="673.1" y="624.7" font-size="10" text-anchor="start" font-weight="normal" fill="#111" font-family="'Liberation Sans', sans-serif" textLength="74.7" lengthAdjust="spacingAndGlyphs" stroke="#111" stroke-width="0.25">アセチルセルロース</text>
<text x="884.0" y="624.7" font-size="10" text-anchor="end" font-weight="normal" fill="#111" font-family="'Liberation Sans', sans-serif" textLength="5.0" lengthAdjust="spacingAndGlyphs" stroke="#111" stroke-width="0.25">2</text>
<line x1="454.80" y1="627.30" x2="886.00" y2="627.30" stroke="#111" stroke-width="1.3" />
<text x="668.6" y="638.2" font-size="10" text-anchor="end" font-weight="normal" fill="#111" font-family="'Liberation Sans', sans-serif" textLength="5.0" lengthAdjust="spacingAndGlyphs" stroke="#111" stroke-width="0.25">4</text>
<text x="673.1" y="638.2" font-size="10" text-anchor="start" font-weight="normal" fill="#111" font-family="'Liberation Sans', sans-serif" textLength="41.5" lengthAdjust="spacingAndGlyphs" stroke="#111" stroke-width="0.25">アセチル基</text>
<text x="884.0" y="638.2" font-size="10" text-anchor="end" font-weight="normal" fill="#111" font-family="'Liberation Sans', sans-serif" textLength="5.0" lengthAdjust="spacingAndGlyphs" stroke="#111" stroke-width="0.25">2</text>
<line x1="454.80" y1="640.80" x2="886.00" y2="640.80" stroke="#111" stroke-width="1.3" />
<text x="668.6" y="651.7" font-size="10" text-anchor="end" font-weight="normal" fill="#111" font-family="'Liberation Sans', sans-serif" textLength="5.0" lengthAdjust="spacingAndGlyphs" stroke="#111" stroke-width="0.25">4</text>
<text x="673.1" y="651.7" font-size="10" text-anchor="start" font-weight="normal" fill="#111" font-family="'Liberation Sans', sans-serif" textLength="91.3" lengthAdjust="spacingAndGlyphs" stroke="#111" stroke-width="0.25">アルカリ可溶性ポリマー</text>
<text x="884.0" y="651.7" font-size="10" text-anchor="end" font-weight="normal" fill="#111" font-family="'Liberation Sans', sans-serif" textLength="5.0" lengthAdjust="spacingAndGlyphs" stroke="#111" stroke-width="0.25">2</text>
<line x1="454.80" y1="654.30" x2="886.00" y2="654.30" stroke="#111" stroke-width="1.3" />
<text x="457.3" y="665.2" font-size="10" text-anchor="start" font-weight="normal" fill="#111" font-family="'Liberation Sans', sans-serif" textLength="24.9" lengthAdjust="spacingAndGlyphs" stroke="#111" stroke-width="0.25">試験片</text>
<text x="668.6" y="665.2" font-size="10" text-anchor="end" font-weight="normal" fill="#111" font-family="'Liberation Sans', sans-serif" textLength="5.0" lengthAdjust="spacingAndGlyphs" stroke="#111" stroke-width="0.25">4</text>
<text x="673.1" y="665.2" font-size="10" text-anchor="start" font-weight="normal" fill="#111" font-family="'Liberation Sans', sans-serif" textLength="132.8" lengthAdjust="spacingAndGlyphs" stroke="#111" stroke-width="0.25">アルコキシシリル基含有単量体単位</text>
<text x="884.0" y="665.2" font-size="10" text-anchor="end" font-weight="normal" fill="#111" font-family="'Liberation Sans', sans-serif" textLength="5.0" lengthAdjust="spacingAndGlyphs" stroke="#111" stroke-width="0.25">2</text>
<line x1="454.80" y1="667.80" x2="886.00" y2="667.80" stroke="#111" stroke-width="1.3" />
<text x="457.3" y="678.7" font-size="10" text-anchor="start" font-weight="normal" fill="#111" font-family="'Liberation Sans', sans-serif" textLength="58.1" lengthAdjust="spacingAndGlyphs" stroke="#111" stroke-width="0.25">赤外線吸収基板</text>
<text x="668.6" y="678.7" font-size="10" text-anchor="end" font-weight="normal" fill="#111" font-family="'Liberation Sans', sans-serif" textLength="5.0" lengthAdjust="spacingAndGlyphs" stroke="#111" stroke-width="0.25">4</text>
<text x="673.1" y="678.7" font-size="10" text-anchor="start" font-weight="normal" fill="#111" font-family="'Liberation Sans', sans-serif" textLength="74.7" lengthAdjust="spacingAndGlyphs" stroke="#111" stroke-width="0.25">コールドミラー薄膜</text>
<text x="884.0" y="678.7" font-size="10" text-anchor="end" font-weight="normal" fill="#111" font-family="'Liberation Sans', sans-serif" textLength="5.0" lengthAdjust="spacingAndGlyphs" stroke="#111" stroke-width="0.25">2</text>
<line x1="454.80" y1="681.30" x2="886.00" y2="681.30" stroke="#111" stroke-width="1.3" />
<text x="457.3" y="692.2" font-size="10" text-anchor="start" font-weight="normal" fill="#111" font-family="'Liberation Sans', sans-serif" textLength="41.5" lengthAdjust="spacingAndGlyphs" stroke="#111" stroke-width="0.25">キーワード</text>
<text x="668.6" y="692.2" font-size="10" text-anchor="end" font-weight="normal" fill="#111" font-family="'Liberation Sans', sans-serif" textLength="5.0" lengthAdjust="spacingAndGlyphs" stroke="#111" stroke-width="0.25">3</text>
<text x="673.1" y="692.2" font-size="10" text-anchor="start" font-weight="normal" fill="#111" font-family="'Liberation Sans', sans-serif" textLength="41.5" lengthAdjust="spacingAndGlyphs" stroke="#111" stroke-width="0.25">キーワード</text>
<text x="884.0" y="692.2" font-size="10" text-anchor="end" font-weight="normal" fill="#111" font-family="'Liberation Sans', sans-serif" textLength="5.0" lengthAdjust="spacingAndGlyphs" stroke="#111" stroke-width="0.25">2</text>
<line x1="454.80" y1="694.80" x2="886.00" y2="694.80" stroke="#111" stroke-width="1.3" />
<text x="457.3" y="705.7" font-size="10" text-anchor="start" font-weight="normal" fill="#111" font-family="'Liberation Sans', sans-serif" textLength="41.5" lengthAdjust="spacingAndGlyphs" stroke="#111" stroke-width="0.25">キーワード</text>
<text x="668.6" y="705.7" font-size="10" text-anchor="end" font-weight="normal" fill="#111" font-family="'Liberation Sans', sans-serif" textLength="5.0" lengthAdjust="spacingAndGlyphs" stroke="#111" stroke-width="0.25">3</text>
<text x="673.1" y="705.7" font-size="10" text-anchor="start" font-weight="normal" fill="#111" font-family="'Liberation Sans', sans-serif" textLength="41.5" lengthAdjust="spacingAndGlyphs" stroke="#111" stroke-width="0.25">キーワード</text>
<text x="884.0" y="705.7" font-size="10" text-anchor="end" font-weight="normal" fill="#111" font-family="'Liberation Sans', sans-serif" textLength="5.0" lengthAdjust="spacingAndGlyphs" stroke="#111" stroke-width="0.25">2</text>
<line x1="454.80" y1="708.30" x2="886.00" y2="708.30" stroke="#111" stroke-width="1.3" />
<text x="457.3" y="719.2" font-size="10" text-anchor="start" font-weight="normal" fill="#111" font-family="'Liberation Sans', sans-serif" textLength="41.5" lengthAdjust="spacingAndGlyphs" stroke="#111" stroke-width="0.25">キーワード</text>
<text x="668.6" y="719.2" font-size="10" text-anchor="end" font-weight="normal" fill="#111" font-family="'Liberation Sans', sans-serif" textLength="5.0" lengthAdjust="spacingAndGlyphs" stroke="#111" stroke-width="0.25">3</text>
<text x="673.1" y="719.2" font-size="10" text-anchor="start" font-weight="normal" fill="#111" font-family="'Liberation Sans', sans-serif" textLength="41.5" lengthAdjust="spacingAndGlyphs" stroke="#111" stroke-width="0.25">キーワード</text>
<text x="884.0" y="719.2" font-size="10" text-anchor="end" font-weight="normal" fill="#111" font-family="'Liberation Sans', sans-serif" textLength="5.0" lengthAdjust="spacingAndGlyphs" stroke="#111" stroke-width="0.25">2</text>
<line x1="454.80" y1="721.80" x2="886.00" y2="721.80" stroke="#111" stroke-width="1.3" />
<text x="457.3" y="732.7" font-size="10" text-anchor="start" font-weight="normal" fill="#111" font-family="'Liberation Sans', sans-serif" textLength="41.5" lengthAdjust="spacingAndGlyphs" stroke="#111" stroke-width="0.25">キーワード</text>
<text x="668.6" y="732.7" font-size="10" text-anchor="end" font-weight="normal" fill="#111" font-family="'Liberation Sans', sans-serif" textLength="5.0" lengthAdjust="spacingAndGlyphs" stroke="#111" stroke-width="0.25">3</text>
<text x="673.1" y="732.7" font-size="10" text-anchor="start" font-weight="normal" fill="#111" font-family="'Liberation Sans', sans-serif" textLength="41.5" lengthAdjust="spacingAndGlyphs" stroke="#111" stroke-width="0.25">キーワード</text>
<text x="884.0" y="732.7" font-size="10" text-anchor="end" font-weight="normal" fill="#111" font-family="'Liberation Sans', sans-serif" textLength="5.0" lengthAdjust="spacingAndGlyphs" stroke="#111" stroke-width="0.25">2</text>
<line x1="454.80" y1="735.30" x2="886.00" y2="735.30" stroke="#111" stroke-width="1.3" />
<text x="457.3" y="746.2" font-size="10" text-anchor="start" font-weight="normal" fill="#111" font-family="'Liberation Sans', sans-serif" textLength="41.5" lengthAdjust="spacingAndGlyphs" stroke="#111" stroke-width="0.25">キーワード</text>
<text x="668.6" y="746.2" font-size="10" text-anchor="end" font-weight="normal" fill="#111" font-family="'Liberation Sans', sans-serif" textLength="5.0" lengthAdjust="spacingAndGlyphs" stroke="#111" stroke-width="0.25">3</text>
<text x="673.1" y="746.2" font-size="10" text-anchor="start" font-weight="normal" fill="#111" font-family="'Liberation Sans', sans-serif" textLength="41.5" lengthAdjust="spacingAndGlyphs" stroke="#111" stroke-width="0.25">キーワード</text>
<text x="884.0" y="746.2" font-size="10" text-anchor="end" font-weight="normal" fill="#111" font-family="'Liberation Sans', sans-serif" textLength="5.0" lengthAdjust="spacingAndGlyphs" stroke="#111" stroke-width="0.25">2</text>
<line x1="454.80" y1="748.80" x2="886.00" y2="748.80" stroke="#111" stroke-width="1.3" />
<text x="457.3" y="759.7" font-size="10" text-anchor="start" font-weight="normal" fill="#111" font-family="'Liberation Sans', sans-serif" textLength="41.5" lengthAdjust="spacingAndGlyphs" stroke="#111" stroke-width="0.25">キーワード</text>
<text x="668.6" y="759.7" font-size="10" text-anchor="end" font-weight="normal" fill="#111" font-family="'Liberation Sans', sans-serif" textLength="5.0" lengthAdjust="spacingAndGlyphs" stroke="#111" stroke-width="0.25">3</text>
<text x="673.1" y="759.7" font-size="10" text-anchor="start" font-weight="normal" fill="#111" font-family="'Liberation Sans', sans-serif" textLength="41.5" lengthAdjust="spacingAndGlyphs" stroke="#111" stroke-width="0.25">キーワード</text>
<text x="884.0" y="759.7" font-size="10" text-anchor="end" font-weight="normal" fill="#111" font-family="'Liberation Sans', sans-serif" textLength="5.0" lengthAdjust="spacingAndGlyphs" stroke="#111" stroke-width="0.25">2</text>
<line x1="454.80" y1="762.30" x2="886.00" y2="762.30" stroke="#111" stroke-width="1.3" />
<text x="457.3" y="773.2" font-size="10" text-anchor="start" font-weight="normal" fill="#111" font-family="'Liberation Sans', sans-serif" textLength="68.2" lengthAdjust="spacingAndGlyphs" stroke="#111" stroke-width="0.25">50%以上100%以下</text>
<text x="668.6" y="773.2" font-size="10" text-anchor="end" font-weight="normal" fill="#111" font-family="'Liberation Sans', sans-serif" textLength="5.0" lengthAdjust="spacingAndGlyphs" stroke="#111" stroke-width="0.25">2</text>
<text x="673.1" y="773.2" font-size="10" text-anchor="start" font-weight="normal" fill="#111" font-family="'Liberation Sans', sans-serif" textLength="16.6" lengthAdjust="spacingAndGlyphs" stroke="#111" stroke-width="0.25">対角</text>
<text x="884.0" y="773.2" font-size="10" text-anchor="end" font-weight="normal" fill="#111" font-family="'Liberation Sans', sans-serif" textLength="5.0" lengthAdjust="spacingAndGlyphs" stroke="#111" stroke-width="0.25">2</text>
<line x1="454.80" y1="775.80" x2="886.00" y2="775.80" stroke="#111" stroke-width="1.3" />
<text x="457.3" y="786.7" font-size="10" text-anchor="start" font-weight="normal" fill="#111" font-family="'Liberation Sans', sans-serif" textLength="20.0" lengthAdjust="spacingAndGlyphs" stroke="#111" stroke-width="0.25">60at</text>
<text x="668.6" y="786.7" font-size="10" text-anchor="end" font-weight="normal" fill="#111" font-family="'Liberation Sans', sans-serif" textLength="5.0" lengthAdjust="spacingAndGlyphs" stroke="#111" stroke-width="0.25">2</text>
<text x="673.1" y="786.7" font-size="10" text-anchor="start" font-weight="normal" fill="#111" font-family="'Liberation Sans', sans-serif" textLength="16.6" lengthAdjust="spacingAndGlyphs" stroke="#111" stroke-width="0.25">展張</text>
<text x="884.0" y="786.7" font-size="10" text-anchor="end" font-weight="normal" fill="#111" font-family="'Liberation Sans', sans-serif" textLength="5.0" lengthAdjust="spacingAndGlyphs" stroke="#111" stroke-width="0.25">2</text>
<line x1="454.80" y1="789.30" x2="886.00" y2="789.30" stroke="#111" stroke-width="1.3" />
<text x="457.3" y="800.2" font-size="10" text-anchor="start" font-weight="normal" fill="#111" font-family="'Liberation Sans', sans-serif" textLength="41.6" lengthAdjust="spacingAndGlyphs" stroke="#111" stroke-width="0.25">720nm以上</text>
<text x="668.6" y="800.2" font-size="10" text-anchor="end" font-weight="normal" fill="#111" font-family="'Liberation Sans', sans-serif" textLength="5.0" lengthAdjust="spacingAndGlyphs" stroke="#111" stroke-width="0.25">2</text>
<text x="673.1" y="800.2" font-size="10" text-anchor="start" font-weight="normal" fill="#111" font-family="'Liberation Sans', sans-serif" textLength="41.5" lengthAdjust="spacingAndGlyphs" stroke="#111" stroke-width="0.25">巻き取り皺</text>
<text x="884.0" y="800.2" font-size="10" text-anchor="end" font-weight="normal" fill="#111" font-family="'Liberation Sans', sans-serif" textLength="5.0" lengthAdjust="spacingAndGlyphs" stroke="#111" stroke-width="0.25">2</text>
<line x1="454.80" y1="802.80" x2="886.00" y2="802.80" stroke="#111" stroke-width="1.3" />
<text x="457.3" y="813.7" font-size="10" text-anchor="start" font-weight="normal" fill="#111" font-family="'Liberation Sans', sans-serif" textLength="51.5" lengthAdjust="spacingAndGlyphs" stroke="#111" stroke-width="0.25">95パーセント</text>
<text x="668.6" y="813.7" font-size="10" text-anchor="end" font-weight="normal" fill="#111" font-family="'Liberation Sans', sans-serif" textLength="5.0" lengthAdjust="spacingAndGlyphs" stroke="#111" stroke-width="0.25">2</text>
<text x="673.1" y="813.7" font-size="10" text-anchor="start" font-weight="normal" fill="#111" font-family="'Liberation Sans', sans-serif" textLength="24.9" lengthAdjust="spacingAndGlyphs" stroke="#111" stroke-width="0.25">巻皺膨</text>
<text x="884.0" y="813.7" font-size="10" text-anchor="end" font-weight="normal" fill="#111" font-family="'Liberation Sans', sans-serif" textLength="5.0" lengthAdjust="spacingAndGlyphs" stroke="#111" stroke-width="0.25">2</text>
<line x1="454.80" y1="816.30" x2="886.00" y2="816.30" stroke="#111" stroke-width="1.3" />
<text x="457.3" y="827.2" font-size="10" text-anchor="start" font-weight="normal" fill="#111" font-family="'Liberation Sans', sans-serif" textLength="109.6" lengthAdjust="spacingAndGlyphs" stroke="#111" stroke-width="0.25">OR型ヒンダードアミン化合物</text>
<text x="668.6" y="827.2" font-size="10" text-anchor="end" font-weight="normal" fill="#111" font-family="'Liberation Sans', sans-serif" textLength="5.0" lengthAdjust="spacingAndGlyphs" stroke="#111" stroke-width="0.25">2</text>
<text x="673.1" y="827.2" font-size="10" text-anchor="start" font-weight="normal" fill="#111" font-family="'Liberation Sans', sans-serif" textLength="16.6" lengthAdjust="spacingAndGlyphs" stroke="#111" stroke-width="0.25">常設</text>
<text x="884.0" y="827.2" font-size="10" text-anchor="end" font-weight="normal" fill="#111" font-family="'Liberation Sans', sans-serif" textLength="5.0" lengthAdjust="spacingAndGlyphs" stroke="#111" stroke-width="0.25">2</text>
<line x1="454.80" y1="519.30" x2="886.00" y2="519.30" stroke="#000" stroke-width="1.5" />
<line x1="628.30" y1="505.30" x2="628.30" y2="829.80" stroke="#000" stroke-width="1.6" />
<line x1="670.60" y1="505.30" x2="670.60" y2="829.80" stroke="#000" stroke-width="1.6" />
<line x1="843.30" y1="505.30" x2="843.30" y2="829.80" stroke="#000" stroke-width="1.6" />
<rect x="454.8" y="505.3" width="431.2" height="324.49999999999994" fill="none" stroke="#000" stroke-width="1.6" />
<rect x="457" y="524" width="160" height="131" fill="url(#dith)" stroke="none" stroke-width="1" />
<rect x="450" y="684" width="438" height="83.5" fill="url(#dith)" stroke="none" stroke-width="1" />
<rect x="453.8" y="894.4" width="431.99999999999994" height="329.4599999999999" fill="#f8f8f8" stroke="none" stroke-width="1" />
<rect x="453.8" y="894.4" width="431.99999999999994" height="13.899999999999977" fill="#c6c6c6" stroke="none" stroke-width="1" />
<text x="540.2" y="905.3" font-size="11" text-anchor="middle" font-weight="bold" fill="#222" font-family="'Liberation Sans', sans-serif" textLength="46.0" lengthAdjust="spacingAndGlyphs" >キーワード</text>
<text x="648.2" y="905.3" font-size="11" text-anchor="middle" font-weight="bold" fill="#222" font-family="'Liberation Sans', sans-serif" textLength="20.0" lengthAdjust="spacingAndGlyphs" >件数</text>
<text x="756.2" y="905.3" font-size="11" text-anchor="middle" font-weight="bold" fill="#222" font-family="'Liberation Sans', sans-serif" textLength="46.0" lengthAdjust="spacingAndGlyphs" >キーワード</text>
<text x="864.2" y="905.3" font-size="11" text-anchor="middle" font-weight="bold" fill="#222" font-family="'Liberation Sans', sans-serif" textLength="20.0" lengthAdjust="spacingAndGlyphs" >件数</text>
<text x="667.7" y="919.4" font-size="10" text-anchor="end" font-weight="normal" fill="#111" font-family="'Liberation Sans', sans-serif" textLength="5.0" lengthAdjust="spacingAndGlyphs" stroke="#111" stroke-width="0.25">5</text>
<text x="672.2" y="919.4" font-size="10" text-anchor="start" font-weight="normal" fill="#111" font-family="'Liberation Sans', sans-serif" textLength="24.9" lengthAdjust="spacingAndGlyphs" stroke="#111" stroke-width="0.25">溶液状</text>
<text x="883.8" y="919.4" font-size="10" text-anchor="end" font-weight="normal" fill="#111" font-family="'Liberation Sans', sans-serif" textLength="5.0" lengthAdjust="spacingAndGlyphs" stroke="#111" stroke-width="0.25">3</text>
<line x1="453.80" y1="922.02" x2="885.80" y2="922.02" stroke="#111" stroke-width="1.3" />
<text x="667.7" y="933.1" font-size="10" text-anchor="end" font-weight="normal" fill="#111" font-family="'Liberation Sans', sans-serif" textLength="5.0" lengthAdjust="spacingAndGlyphs" stroke="#111" stroke-width="0.25">4</text>
<text x="672.2" y="933.1" font-size="10" text-anchor="start" font-weight="normal" fill="#111" font-family="'Liberation Sans', sans-serif" textLength="68.1" lengthAdjust="spacingAndGlyphs" stroke="#111" stroke-width="0.25">炭素数5以上9以下</text>
<text x="883.8" y="933.1" font-size="10" text-anchor="end" font-weight="normal" fill="#111" font-family="'Liberation Sans', sans-serif" textLength="5.0" lengthAdjust="spacingAndGlyphs" stroke="#111" stroke-width="0.25">3</text>
<line x1="453.80" y1="935.74" x2="885.80" y2="935.74" stroke="#111" stroke-width="1.3" />
<text x="667.7" y="946.9" font-size="10" text-anchor="end" font-weight="normal" fill="#111" font-family="'Liberation Sans', sans-serif" textLength="5.0" lengthAdjust="spacingAndGlyphs" stroke="#111" stroke-width="0.25">4</text>
<text x="672.2" y="946.9" font-size="10" text-anchor="start" font-weight="normal" fill="#111" font-family="'Liberation Sans', sans-serif" textLength="58.1" lengthAdjust="spacingAndGlyphs" stroke="#111" stroke-width="0.25">環状オレフィン</text>
<text x="883.8" y="946.9" font-size="10" text-anchor="end" font-weight="normal" fill="#111" font-family="'Liberation Sans', sans-serif" textLength="5.0" lengthAdjust="spacingAndGlyphs" stroke="#111" stroke-width="0.25">3</text>
<line x1="453.80" y1="949.46" x2="885.80" y2="949.46" stroke="#111" stroke-width="1.3" />
<text x="667.7" y="960.6" font-size="10" text-anchor="end" font-weight="normal" fill="#111" font-family="'Liberation Sans', sans-serif" textLength="5.0" lengthAdjust="spacingAndGlyphs" stroke="#111" stroke-width="0.25">4</text>
<text x="672.2" y="960.6" font-size="10" text-anchor="start" font-weight="normal" fill="#111" font-family="'Liberation Sans', sans-serif" textLength="83.0" lengthAdjust="spacingAndGlyphs" stroke="#111" stroke-width="0.25">脂環式多官能ウレタン</text>
<text x="883.8" y="960.6" font-size="10" text-anchor="end" font-weight="normal" fill="#111" font-family="'Liberation Sans', sans-serif" textLength="5.0" lengthAdjust="spacingAndGlyphs" stroke="#111" stroke-width="0.25">3</text>
<line x1="453.80" y1="963.18" x2="885.80" y2="963.18" stroke="#111" stroke-width="1.3" />
<text x="667.7" y="974.3" font-size="10" text-anchor="end" font-weight="normal" fill="#111" font-family="'Liberation Sans', sans-serif" textLength="5.0" lengthAdjust="spacingAndGlyphs" stroke="#111" stroke-width="0.25">4</text>
<text x="672.2" y="974.3" font-size="10" text-anchor="start" font-weight="normal" fill="#111" font-family="'Liberation Sans', sans-serif" textLength="83.0" lengthAdjust="spacingAndGlyphs" stroke="#111" stroke-width="0.25">脂肪族多官能ウレタン</text>
<text x="883.8" y="974.3" font-size="10" text-anchor="end" font-weight="normal" fill="#111" font-family="'Liberation Sans', sans-serif" textLength="5.0" lengthAdjust="spacingAndGlyphs" stroke="#111" stroke-width="0.25">3</text>
<line x1="453.80" y1="976.90" x2="885.80" y2="976.90" stroke="#111" stroke-width="1.3" />
<text x="667.7" y="988.0" font-size="10" text-anchor="end" font-weight="normal" fill="#111" font-family="'Liberation Sans', sans-serif" textLength="5.0" lengthAdjust="spacingAndGlyphs" stroke="#111" stroke-width="0.25">4</text>
<text x="672.2" y="988.0" font-size="10" text-anchor="start" font-weight="normal" fill="#111" font-family="'Liberation Sans', sans-serif" textLength="124.5" lengthAdjust="spacingAndGlyphs" stroke="#111" stroke-width="0.25">脂肪族縮合環構造含有単量体単位</text>
<text x="883.8" y="988.0" font-size="10" text-anchor="end" font-weight="normal" fill="#111" font-family="'Liberation Sans', sans-serif" textLength="5.0" lengthAdjust="spacingAndGlyphs" stroke="#111" stroke-width="0.25">3</text>
<line x1="453.80" y1="990.62" x2="885.80" y2="990.62" stroke="#111" stroke-width="1.3" />
<text x="667.7" y="1001.7" font-size="10" text-anchor="end" font-weight="normal" fill="#111" font-family="'Liberation Sans', sans-serif" textLength="5.0" lengthAdjust="spacingAndGlyphs" stroke="#111" stroke-width="0.25">4</text>
<text x="672.2" y="1001.7" font-size="10" text-anchor="start" font-weight="normal" fill="#111" font-family="'Liberation Sans', sans-serif" textLength="66.4" lengthAdjust="spacingAndGlyphs" stroke="#111" stroke-width="0.25">赤外線吸収基板内</text>
<text x="883.8" y="1001.7" font-size="10" text-anchor="end" font-weight="normal" fill="#111" font-family="'Liberation Sans', sans-serif" textLength="5.0" lengthAdjust="spacingAndGlyphs" stroke="#111" stroke-width="0.25">3</text>
<line x1="453.80" y1="1004.34" x2="885.80" y2="1004.34" stroke="#111" stroke-width="1.3" />
<text x="667.7" y="1015.5" font-size="10" text-anchor="end" font-weight="normal" fill="#111" font-family="'Liberation Sans', sans-serif" textLength="5.0" lengthAdjust="spacingAndGlyphs" stroke="#111" stroke-width="0.25">4</text>
<text x="672.2" y="1015.5" font-size="10" text-anchor="start" font-weight="normal" fill="#111" font-family="'Liberation Sans', sans-serif" textLength="58.1" lengthAdjust="spacingAndGlyphs" stroke="#111" stroke-width="0.25">近赤外反射材料</text>
<text x="883.8" y="1015.5" font-size="10" text-anchor="end" font-weight="normal" fill="#111" font-family="'Liberation Sans', sans-serif" textLength="5.0" lengthAdjust="spacingAndGlyphs" stroke="#111" stroke-width="0.25">3</text>
<line x1="453.80" y1="1018.06" x2="885.80" y2="1018.06" stroke="#111" stroke-width="1.3" />
<text x="667.7" y="1029.2" font-size="10" text-anchor="end" font-weight="normal" fill="#111" font-family="'Liberation Sans', sans-serif" textLength="5.0" lengthAdjust="spacingAndGlyphs" stroke="#111" stroke-width="0.25">4</text>
<text x="672.2" y="1029.2" font-size="10" text-anchor="start" font-weight="normal" fill="#111" font-family="'Liberation Sans', sans-serif" textLength="66.4" lengthAdjust="spacingAndGlyphs" stroke="#111" stroke-width="0.25">近赤外線反射下膜</text>
<text x="883.8" y="1029.2" font-size="10" text-anchor="end" font-weight="normal" fill="#111" font-family="'Liberation Sans', sans-serif" textLength="5.0" lengthAdjust="spacingAndGlyphs" stroke="#111" stroke-width="0.25">3</text>
<line x1="453.80" y1="1031.78" x2="885.80" y2="1031.78" stroke="#111" stroke-width="1.3" />
<text x="456.3" y="1042.9" font-size="10" text-anchor="start" font-weight="normal" fill="#111" font-family="'Liberation Sans', sans-serif" textLength="25.0" lengthAdjust="spacingAndGlyphs" stroke="#111" stroke-width="0.25">860cm</text>
<text x="667.7" y="1042.9" font-size="10" text-anchor="end" font-weight="normal" fill="#111" font-family="'Liberation Sans', sans-serif" textLength="5.0" lengthAdjust="spacingAndGlyphs" stroke="#111" stroke-width="0.25">4</text>
<text x="672.2" y="1042.9" font-size="10" text-anchor="start" font-weight="normal" fill="#111" font-family="'Liberation Sans', sans-serif" textLength="74.7" lengthAdjust="spacingAndGlyphs" stroke="#111" stroke-width="0.25">近赤外線反射下膜上</text>
<text x="883.8" y="1042.9" font-size="10" text-anchor="end" font-weight="normal" fill="#111" font-family="'Liberation Sans', sans-serif" textLength="5.0" lengthAdjust="spacingAndGlyphs" stroke="#111" stroke-width="0.25">3</text>
<line x1="453.80" y1="1045.50" x2="885.80" y2="1045.50" stroke="#111" stroke-width="1.3" />
<text x="456.3" y="1056.6" font-size="10" text-anchor="start" font-weight="normal" fill="#111" font-family="'Liberation Sans', sans-serif" textLength="25.0" lengthAdjust="spacingAndGlyphs" stroke="#111" stroke-width="0.25">880cm</text>
<text x="667.7" y="1056.6" font-size="10" text-anchor="end" font-weight="normal" fill="#111" font-family="'Liberation Sans', sans-serif" textLength="5.0" lengthAdjust="spacingAndGlyphs" stroke="#111" stroke-width="0.25">4</text>
<text x="672.2" y="1056.6" font-size="10" text-anchor="start" font-weight="normal" fill="#111" font-family="'Liberation Sans', sans-serif" textLength="58.1" lengthAdjust="spacingAndGlyphs" stroke="#111" stroke-width="0.25">近赤外線受光部</text>
<text x="883.8" y="1056.6" font-size="10" text-anchor="end" font-weight="normal" fill="#111" font-family="'Liberation Sans', sans-serif" textLength="5.0" lengthAdjust="spacingAndGlyphs" stroke="#111" stroke-width="0.25">3</text>
<line x1="453.80" y1="1059.22" x2="885.80" y2="1059.22" stroke="#111" stroke-width="1.3" />
<text x="456.3" y="1070.3" font-size="10" text-anchor="start" font-weight="normal" fill="#111" font-family="'Liberation Sans', sans-serif" textLength="66.4" lengthAdjust="spacingAndGlyphs" stroke="#111" stroke-width="0.25">インヘレント粘度</text>
<text x="667.7" y="1070.3" font-size="10" text-anchor="end" font-weight="normal" fill="#111" font-family="'Liberation Sans', sans-serif" textLength="5.0" lengthAdjust="spacingAndGlyphs" stroke="#111" stroke-width="0.25">4</text>
<text x="672.2" y="1070.3" font-size="10" text-anchor="start" font-weight="normal" fill="#111" font-family="'Liberation Sans', sans-serif" textLength="66.4" lengthAdjust="spacingAndGlyphs" stroke="#111" stroke-width="0.25">近赤外線透過上膜</text>
<text x="883.8" y="1070.3" font-size="10" text-anchor="end" font-weight="normal" fill="#111" font-family="'Liberation Sans', sans-serif" textLength="5.0" lengthAdjust="spacingAndGlyphs" stroke="#111" stroke-width="0.25">3</text>
<line x1="453.80" y1="1072.94" x2="885.80" y2="1072.94" stroke="#111" stroke-width="1.3" />
<text x="456.3" y="1084.1" font-size="10" text-anchor="start" font-weight="normal" fill="#111" font-family="'Liberation Sans', sans-serif" textLength="41.5" lengthAdjust="spacingAndGlyphs" stroke="#111" stroke-width="0.25">エンボス部</text>
<text x="667.7" y="1084.1" font-size="10" text-anchor="end" font-weight="normal" fill="#111" font-family="'Liberation Sans', sans-serif" textLength="5.0" lengthAdjust="spacingAndGlyphs" stroke="#111" stroke-width="0.25">4</text>
<text x="672.2" y="1084.1" font-size="10" text-anchor="start" font-weight="normal" fill="#111" font-family="'Liberation Sans', sans-serif" textLength="41.5" lengthAdjust="spacingAndGlyphs" stroke="#111" stroke-width="0.25">青色系顔料</text>
<text x="883.8" y="1084.1" font-size="10" text-anchor="end" font-weight="normal" fill="#111" font-family="'Liberation Sans', sans-serif" textLength="5.0" lengthAdjust="spacingAndGlyphs" stroke="#111" stroke-width="0.25">3</text>
<line x1="453.80" y1="1086.66" x2="885.80" y2="1086.66" stroke="#111" stroke-width="1.3" />
<text x="456.3" y="1097.8" font-size="10" text-anchor="start" font-weight="normal" fill="#111" font-family="'Liberation Sans', sans-serif" textLength="41.5" lengthAdjust="spacingAndGlyphs" stroke="#111" stroke-width="0.25">キーワード</text>
<text x="667.7" y="1097.8" font-size="10" text-anchor="end" font-weight="normal" fill="#111" font-family="'Liberation Sans', sans-serif" textLength="5.0" lengthAdjust="spacingAndGlyphs" stroke="#111" stroke-width="0.25">3</text>
<text x="672.2" y="1097.8" font-size="10" text-anchor="start" font-weight="normal" fill="#111" font-family="'Liberation Sans', sans-serif" textLength="41.5" lengthAdjust="spacingAndGlyphs" stroke="#111" stroke-width="0.25">キーワード</text>
<text x="883.8" y="1097.8" font-size="10" text-anchor="end" font-weight="normal" fill="#111" font-family="'Liberation Sans', sans-serif" textLength="5.0" lengthAdjust="spacingAndGlyphs" stroke="#111" stroke-width="0.25">2</text>
<line x1="453.80" y1="1100.38" x2="885.80" y2="1100.38" stroke="#111" stroke-width="1.3" />
<text x="456.3" y="1111.5" font-size="10" text-anchor="start" font-weight="normal" fill="#111" font-family="'Liberation Sans', sans-serif" textLength="41.5" lengthAdjust="spacingAndGlyphs" stroke="#111" stroke-width="0.25">キーワード</text>
<text x="667.7" y="1111.5" font-size="10" text-anchor="end" font-weight="normal" fill="#111" font-family="'Liberation Sans', sans-serif" textLength="5.0" lengthAdjust="spacingAndGlyphs" stroke="#111" stroke-width="0.25">3</text>
<text x="672.2" y="1111.5" font-size="10" text-anchor="start" font-weight="normal" fill="#111" font-family="'Liberation Sans', sans-serif" textLength="41.5" lengthAdjust="spacingAndGlyphs" stroke="#111" stroke-width="0.25">キーワード</text>
<text x="883.8" y="1111.5" font-size="10" text-anchor="end" font-weight="normal" fill="#111" font-family="'Liberation Sans', sans-serif" textLength="5.0" lengthAdjust="spacingAndGlyphs" stroke="#111" stroke-width="0.25">2</text>
<line x1="453.80" y1="1114.10" x2="885.80" y2="1114.10" stroke="#111" stroke-width="1.3" />
<text x="456.3" y="1125.2" font-size="10" text-anchor="start" font-weight="normal" fill="#111" font-family="'Liberation Sans', sans-serif" textLength="41.5" lengthAdjust="spacingAndGlyphs" stroke="#111" stroke-width="0.25">キーワード</text>
<text x="667.7" y="1125.2" font-size="10" text-anchor="end" font-weight="normal" fill="#111" font-family="'Liberation Sans', sans-serif" textLength="5.0" lengthAdjust="spacingAndGlyphs" stroke="#111" stroke-width="0.25">3</text>
<text x="672.2" y="1125.2" font-size="10" text-anchor="start" font-weight="normal" fill="#111" font-family="'Liberation Sans', sans-serif" textLength="41.5" lengthAdjust="spacingAndGlyphs" stroke="#111" stroke-width="0.25">キーワード</text>
<text x="883.8" y="1125.2" font-size="10" text-anchor="end" font-weight="normal" fill="#111" font-family="'Liberation Sans', sans-serif" textLength="5.0" lengthAdjust="spacingAndGlyphs" stroke="#111" stroke-width="0.25">2</text>
<line x1="453.80" y1="1127.82" x2="885.80" y2="1127.82" stroke="#111" stroke-width="1.3" />
<text x="456.3" y="1138.9" font-size="10" text-anchor="start" font-weight="normal" fill="#111" font-family="'Liberation Sans', sans-serif" textLength="41.5" lengthAdjust="spacingAndGlyphs" stroke="#111" stroke-width="0.25">キーワード</text>
<text x="667.7" y="1138.9" font-size="10" text-anchor="end" font-weight="normal" fill="#111" font-family="'Liberation Sans', sans-serif" textLength="5.0" lengthAdjust="spacingAndGlyphs" stroke="#111" stroke-width="0.25">3</text>
<text x="672.2" y="1138.9" font-size="10" text-anchor="start" font-weight="normal" fill="#111" font-family="'Liberation Sans', sans-serif" textLength="41.5" lengthAdjust="spacingAndGlyphs" stroke="#111" stroke-width="0.25">キーワード</text>
<text x="883.8" y="1138.9" font-size="10" text-anchor="end" font-weight="normal" fill="#111" font-family="'Liberation Sans', sans-serif" textLength="5.0" lengthAdjust="spacingAndGlyphs" stroke="#111" stroke-width="0.25">2</text>
<line x1="453.80" y1="1141.54" x2="885.80" y2="1141.54" stroke="#111" stroke-width="1.3" />
<text x="456.3" y="1152.7" font-size="10" text-anchor="start" font-weight="normal" fill="#111" font-family="'Liberation Sans', sans-serif" textLength="41.5" lengthAdjust="spacingAndGlyphs" stroke="#111" stroke-width="0.25">キーワード</text>
<text x="667.7" y="1152.7" font-size="10" text-anchor="end" font-weight="normal" fill="#111" font-family="'Liberation Sans', sans-serif" textLength="5.0" lengthAdjust="spacingAndGlyphs" stroke="#111" stroke-width="0.25">3</text>
<text x="672.2" y="1152.7" font-size="10" text-anchor="start" font-weight="normal" fill="#111" font-family="'Liberation Sans', sans-serif" textLength="41.5" lengthAdjust="spacingAndGlyphs" stroke="#111" stroke-width="0.25">キーワード</text>
<text x="883.8" y="1152.7" font-size="10" text-anchor="end" font-weight="normal" fill="#111" font-family="'Liberation Sans', sans-serif" textLength="5.0" lengthAdjust="spacingAndGlyphs" stroke="#111" stroke-width="0.25">2</text>
<line x1="453.80" y1="1155.26" x2="885.80" y2="1155.26" stroke="#111" stroke-width="1.3" />
<text x="456.3" y="1166.4" font-size="10" text-anchor="start" font-weight="normal" fill="#111" font-family="'Liberation Sans', sans-serif" textLength="41.5" lengthAdjust="spacingAndGlyphs" stroke="#111" stroke-width="0.25">キーワード</text>
<text x="667.7" y="1166.4" font-size="10" text-anchor="end" font-weight="normal" fill="#111" font-family="'Liberation Sans', sans-serif" textLength="5.0" lengthAdjust="spacingAndGlyphs" stroke="#111" stroke-width="0.25">3</text>
<text x="672.2" y="1166.4" font-size="10" text-anchor="start" font-weight="normal" fill="#111" font-family="'Liberation Sans', sans-serif" textLength="41.5" lengthAdjust="spacingAndGlyphs" stroke="#111" stroke-width="0.25">キーワード</text>
<text x="883.8" y="1166.4" font-size="10" text-anchor="end" font-weight="normal" fill="#111" font-family="'Liberation Sans', sans-serif" textLength="5.0" lengthAdjust="spacingAndGlyphs" stroke="#111" stroke-width="0.25">2</text>
<line x1="453.80" y1="1168.98" x2="885.80" y2="1168.98" stroke="#111" stroke-width="1.3" />
<text x="456.3" y="1180.1" font-size="10" text-anchor="start" font-weight="normal" fill="#111" font-family="'Liberation Sans', sans-serif" textLength="16.6" lengthAdjust="spacingAndGlyphs" stroke="#111" stroke-width="0.25">反射</text>
<text x="667.7" y="1180.1" font-size="10" text-anchor="end" font-weight="normal" fill="#111" font-family="'Liberation Sans', sans-serif" textLength="5.0" lengthAdjust="spacingAndGlyphs" stroke="#111" stroke-width="0.25">3</text>
<text x="672.2" y="1180.1" font-size="10" text-anchor="start" font-weight="normal" fill="#111" font-family="'Liberation Sans', sans-serif" textLength="44.9" lengthAdjust="spacingAndGlyphs" stroke="#111" stroke-width="0.25">4～6μm以上</text>
<text x="883.8" y="1180.1" font-size="10" text-anchor="end" font-weight="normal" fill="#111" font-family="'Liberation Sans', sans-serif" textLength="5.0" lengthAdjust="spacingAndGlyphs" stroke="#111" stroke-width="0.25">2</text>
<line x1="453.80" y1="1182.70" x2="885.80" y2="1182.70" stroke="#111" stroke-width="1.3" />
<text x="456.3" y="1193.8" font-size="10" text-anchor="start" font-weight="normal" fill="#111" font-family="'Liberation Sans', sans-serif" textLength="73.1" lengthAdjust="spacingAndGlyphs" stroke="#111" stroke-width="0.25">樹脂成分100重量部</text>
<text x="667.7" y="1193.8" font-size="10" text-anchor="end" font-weight="normal" fill="#111" font-family="'Liberation Sans', sans-serif" textLength="5.0" lengthAdjust="spacingAndGlyphs" stroke="#111" stroke-width="0.25">3</text>
<text x="672.2" y="1193.8" font-size="10" text-anchor="start" font-weight="normal" fill="#111" font-family="'Liberation Sans', sans-serif" textLength="33.3" lengthAdjust="spacingAndGlyphs" stroke="#111" stroke-width="0.25">4～25μm</text>
<text x="883.8" y="1193.8" font-size="10" text-anchor="end" font-weight="normal" fill="#111" font-family="'Liberation Sans', sans-serif" textLength="5.0" lengthAdjust="spacingAndGlyphs" stroke="#111" stroke-width="0.25">2</text>
<line x1="453.80" y1="1196.42" x2="885.80" y2="1196.42" stroke="#111" stroke-width="1.3" />
<text x="456.3" y="1207.5" font-size="10" text-anchor="start" font-weight="normal" fill="#111" font-family="'Liberation Sans', sans-serif" textLength="26.6" lengthAdjust="spacingAndGlyphs" stroke="#111" stroke-width="0.25">比率V2</text>
<text x="667.7" y="1207.5" font-size="10" text-anchor="end" font-weight="normal" fill="#111" font-family="'Liberation Sans', sans-serif" textLength="5.0" lengthAdjust="spacingAndGlyphs" stroke="#111" stroke-width="0.25">3</text>
<text x="672.2" y="1207.5" font-size="10" text-anchor="start" font-weight="normal" fill="#111" font-family="'Liberation Sans', sans-serif" textLength="36.6" lengthAdjust="spacingAndGlyphs" stroke="#111" stroke-width="0.25">40%R以上</text>
<text x="883.8" y="1207.5" font-size="10" text-anchor="end" font-weight="normal" fill="#111" font-family="'Liberation Sans', sans-serif" textLength="5.0" lengthAdjust="spacingAndGlyphs" stroke="#111" stroke-width="0.25">2</text>
<line x1="453.80" y1="1210.14" x2="885.80" y2="1210.14" stroke="#111" stroke-width="1.3" />
<text x="456.3" y="1221.3" font-size="10" text-anchor="start" font-weight="normal" fill="#111" font-family="'Liberation Sans', sans-serif" textLength="79.9" lengthAdjust="spacingAndGlyphs" stroke="#111" stroke-width="0.25">波長800nm～1300nm</text>
<text x="667.7" y="1221.3" font-size="10" text-anchor="end" font-weight="normal" fill="#111" font-family="'Liberation Sans', sans-serif" textLength="5.0" lengthAdjust="spacingAndGlyphs" stroke="#111" stroke-width="0.25">3</text>
<text x="672.2" y="1221.3" font-size="10" text-anchor="start" font-weight="normal" fill="#111" font-family="'Liberation Sans', sans-serif" textLength="36.6" lengthAdjust="spacingAndGlyphs" stroke="#111" stroke-width="0.25">40%T以上</text>
<text x="883.8" y="1221.3" font-size="10" text-anchor="end" font-weight="normal" fill="#111" font-family="'Liberation Sans', sans-serif" textLength="5.0" lengthAdjust="spacingAndGlyphs" stroke="#111" stroke-width="0.25">2</text>
<line x1="453.80" y1="908.30" x2="885.80" y2="908.30" stroke="#000" stroke-width="1.5" />
<line x1="626.60" y1="894.40" x2="626.60" y2="1223.86" stroke="#000" stroke-width="1.6" />
<line x1="669.70" y1="894.40" x2="669.70" y2="1223.86" stroke="#000" stroke-width="1.6" />
<line x1="842.60" y1="894.40" x2="842.60" y2="1223.86" stroke="#000" stroke-width="1.6" />
<rect x="453.8" y="894.4" width="431.99999999999994" height="329.4599999999999" fill="none" stroke="#000" stroke-width="1.6" />
<rect x="457" y="911" width="160" height="125" fill="url(#dith)" stroke="none" stroke-width="1" />
<rect x="450" y="1087" width="439" height="92.5" fill="url(#dith)" stroke="none" stroke-width="1" />
</svg>
</body></html>
